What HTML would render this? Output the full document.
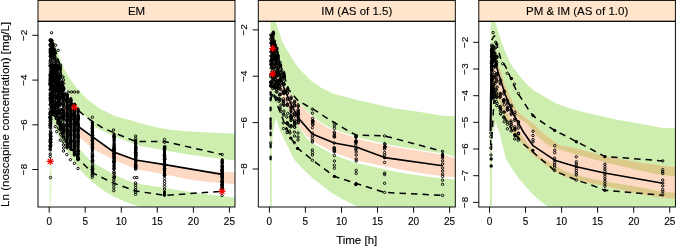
<!DOCTYPE html><html><head><meta charset="utf-8"><style>html,body{margin:0;padding:0;background:#fff}svg{display:block}text{font-family:"Liberation Sans",sans-serif;fill:#000;stroke:#000;stroke-width:0.12px}svg{will-change:transform}</style></head><body>
<svg width="676" height="247" viewBox="0 0 676 247">
<rect width="676" height="247" fill="#fff"/>
<defs><clipPath id="c0"><rect x="38.0" y="21.0" width="197.0" height="186.0"/></clipPath></defs>
<g clip-path="url(#c0)">
<polygon points="49.6,230.0 50.0,120.0 50.6,50.0 52.5,37.5 57.2,50.0 61.3,62.0 64.7,70.0 70.7,80.0 76.0,87.0 82.0,94.0 88.2,100.0 100.4,109.0 115.5,116.3 130.0,120.1 138.0,122.6 150.0,125.7 160.0,128.0 170.0,129.8 186.0,131.2 222.0,133.2 235.0,133.5 240.0,133.6 240.0,160.9 235.0,160.4 222.0,158.9 188.0,154.4 164.5,150.2 138.0,145.5 114.0,136.3 95.5,127.5 92.4,124.0 80.0,110.0 70.0,97.0 60.0,75.0 56.0,62.0 52.5,60.0 51.0,120.0 49.6,230.0" fill="#cdeeae"/>
<polygon points="49.6,230.0 51.0,150.0 52.5,100.0 56.0,100.0 62.0,118.0 70.0,134.0 79.5,149.0 85.0,155.0 92.1,162.6 100.0,166.6 113.9,174.5 127.6,180.5 135.6,182.8 144.0,184.7 164.0,187.8 196.0,193.0 222.0,196.0 235.0,197.5 240.0,198.0 240.0,225.0 150.0,211.0 139.6,207.0 132.0,204.3 124.8,201.5 114.5,197.0 105.0,191.5 96.2,185.2 89.0,179.0 82.0,172.0 79.0,168.0 70.4,157.0 63.3,145.0 57.0,133.0 52.0,120.0 51.2,190.0 49.6,230.0" fill="#cdeeae"/>
<polygon points="50.4,150.0 51.0,140.0 52.5,75.0 56.0,77.0 62.0,95.0 70.0,113.0 79.0,127.0 92.0,136.6 110.5,149.0 136.0,160.0 168.0,166.2 208.0,171.0 235.0,172.6 240.0,172.9 240.0,184.7 235.0,184.3 222.0,183.1 208.0,182.0 190.0,179.7 164.5,174.2 136.0,169.3 114.0,160.0 94.8,150.0 79.0,137.0 70.0,126.0 62.0,108.0 56.0,90.0 53.0,90.0 51.2,145.0 50.4,150.0" fill="#fdd8c2"/>
<line x1="67.2" x2="67.2" y1="95.0" y2="148.0" stroke="#000" stroke-width="2.9" stroke-linecap="round"/><line x1="70.8" x2="70.8" y1="99.0" y2="149.0" stroke="#000" stroke-width="2.9" stroke-linecap="round"/><line x1="74.4" x2="74.4" y1="104.6" y2="154.0" stroke="#000" stroke-width="2.9" stroke-linecap="round"/><line x1="78.0" x2="78.0" y1="109.0" y2="159.0" stroke="#000" stroke-width="2.9" stroke-linecap="round"/><line x1="92.4" x2="92.4" y1="122.5" y2="151.0" stroke="#000" stroke-width="2.9" stroke-linecap="round"/><line x1="114.1" x2="114.1" y1="134.0" y2="165.0" stroke="#000" stroke-width="2.9" stroke-linecap="round"/><line x1="135.7" x2="135.7" y1="141.0" y2="167.0" stroke="#000" stroke-width="2.9" stroke-linecap="round"/><line x1="164.5" x2="164.5" y1="147.6" y2="175.0" stroke="#000" stroke-width="2.9" stroke-linecap="round"/><line x1="222.2" x2="222.2" y1="160.0" y2="189.0" stroke="#000" stroke-width="2.9" stroke-linecap="round"/><line x1="164.5" x2="164.5" y1="191.6" y2="195.6" stroke="#000" stroke-width="2.9" stroke-linecap="round"/>
<path d="M49.2 51.0a1.20 1.20 0 1 0 2.40 0a1.20 1.20 0 1 0 -2.40 0M49.4 49.0a1.20 1.20 0 1 0 2.40 0a1.20 1.20 0 1 0 -2.40 0M49.2 51.5a1.20 1.20 0 1 0 2.40 0a1.20 1.20 0 1 0 -2.40 0M49.1 50.0a1.20 1.20 0 1 0 2.40 0a1.20 1.20 0 1 0 -2.40 0M49.3 55.8a1.20 1.20 0 1 0 2.40 0a1.20 1.20 0 1 0 -2.40 0M49.1 45.7a1.20 1.20 0 1 0 2.40 0a1.20 1.20 0 1 0 -2.40 0M49.1 56.1a1.20 1.20 0 1 0 2.40 0a1.20 1.20 0 1 0 -2.40 0M49.3 40.4a1.20 1.20 0 1 0 2.40 0a1.20 1.20 0 1 0 -2.40 0M49.4 59.3a1.20 1.20 0 1 0 2.40 0a1.20 1.20 0 1 0 -2.40 0M49.3 52.1a1.20 1.20 0 1 0 2.40 0a1.20 1.20 0 1 0 -2.40 0M49.1 39.8a1.20 1.20 0 1 0 2.40 0a1.20 1.20 0 1 0 -2.40 0M49.2 40.7a1.20 1.20 0 1 0 2.40 0a1.20 1.20 0 1 0 -2.40 0M49.1 44.5a1.20 1.20 0 1 0 2.40 0a1.20 1.20 0 1 0 -2.40 0M49.1 49.0a1.20 1.20 0 1 0 2.40 0a1.20 1.20 0 1 0 -2.40 0M49.2 56.8a1.20 1.20 0 1 0 2.40 0a1.20 1.20 0 1 0 -2.40 0M49.2 52.6a1.20 1.20 0 1 0 2.40 0a1.20 1.20 0 1 0 -2.40 0M49.2 53.1a1.20 1.20 0 1 0 2.40 0a1.20 1.20 0 1 0 -2.40 0M49.2 45.2a1.20 1.20 0 1 0 2.40 0a1.20 1.20 0 1 0 -2.40 0M49.4 59.9a1.20 1.20 0 1 0 2.40 0a1.20 1.20 0 1 0 -2.40 0M49.3 54.0a1.20 1.20 0 1 0 2.40 0a1.20 1.20 0 1 0 -2.40 0M49.2 44.2a1.20 1.20 0 1 0 2.40 0a1.20 1.20 0 1 0 -2.40 0M49.2 40.9a1.20 1.20 0 1 0 2.40 0a1.20 1.20 0 1 0 -2.40 0M49.4 96.0a1.20 1.20 0 1 0 2.40 0a1.20 1.20 0 1 0 -2.40 0M49.5 94.8a1.20 1.20 0 1 0 2.40 0a1.20 1.20 0 1 0 -2.40 0M49.6 136.3a1.20 1.20 0 1 0 2.40 0a1.20 1.20 0 1 0 -2.40 0M48.8 78.9a1.20 1.20 0 1 0 2.40 0a1.20 1.20 0 1 0 -2.40 0M49.6 102.3a1.20 1.20 0 1 0 2.40 0a1.20 1.20 0 1 0 -2.40 0M49.6 95.8a1.20 1.20 0 1 0 2.40 0a1.20 1.20 0 1 0 -2.40 0M48.9 116.7a1.20 1.20 0 1 0 2.40 0a1.20 1.20 0 1 0 -2.40 0M49.4 84.3a1.20 1.20 0 1 0 2.40 0a1.20 1.20 0 1 0 -2.40 0M48.9 89.9a1.20 1.20 0 1 0 2.40 0a1.20 1.20 0 1 0 -2.40 0M49.6 128.2a1.20 1.20 0 1 0 2.40 0a1.20 1.20 0 1 0 -2.40 0M48.9 82.2a1.20 1.20 0 1 0 2.40 0a1.20 1.20 0 1 0 -2.40 0M48.9 65.4a1.20 1.20 0 1 0 2.40 0a1.20 1.20 0 1 0 -2.40 0M49.5 76.0a1.20 1.20 0 1 0 2.40 0a1.20 1.20 0 1 0 -2.40 0M49.3 100.3a1.20 1.20 0 1 0 2.40 0a1.20 1.20 0 1 0 -2.40 0M49.0 125.9a1.20 1.20 0 1 0 2.40 0a1.20 1.20 0 1 0 -2.40 0M48.9 117.9a1.20 1.20 0 1 0 2.40 0a1.20 1.20 0 1 0 -2.40 0M48.9 97.9a1.20 1.20 0 1 0 2.40 0a1.20 1.20 0 1 0 -2.40 0M49.0 84.3a1.20 1.20 0 1 0 2.40 0a1.20 1.20 0 1 0 -2.40 0M49.6 132.3a1.20 1.20 0 1 0 2.40 0a1.20 1.20 0 1 0 -2.40 0M49.1 139.6a1.20 1.20 0 1 0 2.40 0a1.20 1.20 0 1 0 -2.40 0M49.0 95.5a1.20 1.20 0 1 0 2.40 0a1.20 1.20 0 1 0 -2.40 0M49.5 117.8a1.20 1.20 0 1 0 2.40 0a1.20 1.20 0 1 0 -2.40 0M48.9 149.0a1.20 1.20 0 1 0 2.40 0a1.20 1.20 0 1 0 -2.40 0M49.0 83.2a1.20 1.20 0 1 0 2.40 0a1.20 1.20 0 1 0 -2.40 0M49.4 89.6a1.20 1.20 0 1 0 2.40 0a1.20 1.20 0 1 0 -2.40 0M49.1 66.6a1.20 1.20 0 1 0 2.40 0a1.20 1.20 0 1 0 -2.40 0M48.9 112.4a1.20 1.20 0 1 0 2.40 0a1.20 1.20 0 1 0 -2.40 0M49.0 114.1a1.20 1.20 0 1 0 2.40 0a1.20 1.20 0 1 0 -2.40 0M49.1 100.8a1.20 1.20 0 1 0 2.40 0a1.20 1.20 0 1 0 -2.40 0M49.6 103.5a1.20 1.20 0 1 0 2.40 0a1.20 1.20 0 1 0 -2.40 0M49.3 138.0a1.20 1.20 0 1 0 2.40 0a1.20 1.20 0 1 0 -2.40 0M49.0 73.9a1.20 1.20 0 1 0 2.40 0a1.20 1.20 0 1 0 -2.40 0M49.6 133.6a1.20 1.20 0 1 0 2.40 0a1.20 1.20 0 1 0 -2.40 0M49.0 77.1a1.20 1.20 0 1 0 2.40 0a1.20 1.20 0 1 0 -2.40 0M49.4 144.6a1.20 1.20 0 1 0 2.40 0a1.20 1.20 0 1 0 -2.40 0M49.0 145.5a1.20 1.20 0 1 0 2.40 0a1.20 1.20 0 1 0 -2.40 0M49.5 114.3a1.20 1.20 0 1 0 2.40 0a1.20 1.20 0 1 0 -2.40 0M49.2 69.3a1.20 1.20 0 1 0 2.40 0a1.20 1.20 0 1 0 -2.40 0M48.9 146.6a1.20 1.20 0 1 0 2.40 0a1.20 1.20 0 1 0 -2.40 0M49.0 123.4a1.20 1.20 0 1 0 2.40 0a1.20 1.20 0 1 0 -2.40 0M49.0 134.1a1.20 1.20 0 1 0 2.40 0a1.20 1.20 0 1 0 -2.40 0M49.3 86.4a1.20 1.20 0 1 0 2.40 0a1.20 1.20 0 1 0 -2.40 0M49.0 124.8a1.20 1.20 0 1 0 2.40 0a1.20 1.20 0 1 0 -2.40 0M48.9 80.6a1.20 1.20 0 1 0 2.40 0a1.20 1.20 0 1 0 -2.40 0M49.3 136.7a1.20 1.20 0 1 0 2.40 0a1.20 1.20 0 1 0 -2.40 0M49.3 85.2a1.20 1.20 0 1 0 2.40 0a1.20 1.20 0 1 0 -2.40 0M49.6 78.4a1.20 1.20 0 1 0 2.40 0a1.20 1.20 0 1 0 -2.40 0M48.8 84.2a1.20 1.20 0 1 0 2.40 0a1.20 1.20 0 1 0 -2.40 0M49.2 65.4a1.20 1.20 0 1 0 2.40 0a1.20 1.20 0 1 0 -2.40 0M49.0 93.2a1.20 1.20 0 1 0 2.40 0a1.20 1.20 0 1 0 -2.40 0M49.3 71.8a1.20 1.20 0 1 0 2.40 0a1.20 1.20 0 1 0 -2.40 0M49.1 140.2a1.20 1.20 0 1 0 2.40 0a1.20 1.20 0 1 0 -2.40 0M49.6 119.1a1.20 1.20 0 1 0 2.40 0a1.20 1.20 0 1 0 -2.40 0M49.4 112.6a1.20 1.20 0 1 0 2.40 0a1.20 1.20 0 1 0 -2.40 0M48.9 63.2a1.20 1.20 0 1 0 2.40 0a1.20 1.20 0 1 0 -2.40 0M48.8 141.9a1.20 1.20 0 1 0 2.40 0a1.20 1.20 0 1 0 -2.40 0M49.4 146.6a1.20 1.20 0 1 0 2.40 0a1.20 1.20 0 1 0 -2.40 0M48.8 117.3a1.20 1.20 0 1 0 2.40 0a1.20 1.20 0 1 0 -2.40 0M49.2 125.7a1.20 1.20 0 1 0 2.40 0a1.20 1.20 0 1 0 -2.40 0M49.1 149.9a1.20 1.20 0 1 0 2.40 0a1.20 1.20 0 1 0 -2.40 0M48.9 109.1a1.20 1.20 0 1 0 2.40 0a1.20 1.20 0 1 0 -2.40 0M49.4 141.0a1.20 1.20 0 1 0 2.40 0a1.20 1.20 0 1 0 -2.40 0M49.4 123.3a1.20 1.20 0 1 0 2.40 0a1.20 1.20 0 1 0 -2.40 0M49.5 142.4a1.20 1.20 0 1 0 2.40 0a1.20 1.20 0 1 0 -2.40 0M49.1 121.7a1.20 1.20 0 1 0 2.40 0a1.20 1.20 0 1 0 -2.40 0M49.5 138.4a1.20 1.20 0 1 0 2.40 0a1.20 1.20 0 1 0 -2.40 0M49.2 131.1a1.20 1.20 0 1 0 2.40 0a1.20 1.20 0 1 0 -2.40 0M49.5 111.6a1.20 1.20 0 1 0 2.40 0a1.20 1.20 0 1 0 -2.40 0M49.3 94.4a1.20 1.20 0 1 0 2.40 0a1.20 1.20 0 1 0 -2.40 0M49.3 114.8a1.20 1.20 0 1 0 2.40 0a1.20 1.20 0 1 0 -2.40 0M48.9 117.5a1.20 1.20 0 1 0 2.40 0a1.20 1.20 0 1 0 -2.40 0M49.6 139.2a1.20 1.20 0 1 0 2.40 0a1.20 1.20 0 1 0 -2.40 0M49.4 95.0a1.20 1.20 0 1 0 2.40 0a1.20 1.20 0 1 0 -2.40 0M49.4 112.3a1.20 1.20 0 1 0 2.40 0a1.20 1.20 0 1 0 -2.40 0M49.2 135.5a1.20 1.20 0 1 0 2.40 0a1.20 1.20 0 1 0 -2.40 0M48.9 127.5a1.20 1.20 0 1 0 2.40 0a1.20 1.20 0 1 0 -2.40 0M48.8 114.1a1.20 1.20 0 1 0 2.40 0a1.20 1.20 0 1 0 -2.40 0M49.2 80.7a1.20 1.20 0 1 0 2.40 0a1.20 1.20 0 1 0 -2.40 0M49.4 104.8a1.20 1.20 0 1 0 2.40 0a1.20 1.20 0 1 0 -2.40 0M49.3 142.8a1.20 1.20 0 1 0 2.40 0a1.20 1.20 0 1 0 -2.40 0M49.0 61.0a1.20 1.20 0 1 0 2.40 0a1.20 1.20 0 1 0 -2.40 0M49.1 121.0a1.20 1.20 0 1 0 2.40 0a1.20 1.20 0 1 0 -2.40 0M49.0 75.3a1.20 1.20 0 1 0 2.40 0a1.20 1.20 0 1 0 -2.40 0M49.5 119.4a1.20 1.20 0 1 0 2.40 0a1.20 1.20 0 1 0 -2.40 0M49.2 140.3a1.20 1.20 0 1 0 2.40 0a1.20 1.20 0 1 0 -2.40 0M49.1 119.9a1.20 1.20 0 1 0 2.40 0a1.20 1.20 0 1 0 -2.40 0M49.0 98.8a1.20 1.20 0 1 0 2.40 0a1.20 1.20 0 1 0 -2.40 0M49.5 142.3a1.20 1.20 0 1 0 2.40 0a1.20 1.20 0 1 0 -2.40 0M49.5 94.6a1.20 1.20 0 1 0 2.40 0a1.20 1.20 0 1 0 -2.40 0M49.3 88.5a1.20 1.20 0 1 0 2.40 0a1.20 1.20 0 1 0 -2.40 0M48.9 104.7a1.20 1.20 0 1 0 2.40 0a1.20 1.20 0 1 0 -2.40 0M49.5 136.4a1.20 1.20 0 1 0 2.40 0a1.20 1.20 0 1 0 -2.40 0M49.4 145.5a1.20 1.20 0 1 0 2.40 0a1.20 1.20 0 1 0 -2.40 0M49.0 75.2a1.20 1.20 0 1 0 2.40 0a1.20 1.20 0 1 0 -2.40 0M49.2 84.8a1.20 1.20 0 1 0 2.40 0a1.20 1.20 0 1 0 -2.40 0M50.2 69.8a1.20 1.20 0 1 0 2.40 0a1.20 1.20 0 1 0 -2.40 0M50.5 75.8a1.20 1.20 0 1 0 2.40 0a1.20 1.20 0 1 0 -2.40 0M50.3 101.9a1.20 1.20 0 1 0 2.40 0a1.20 1.20 0 1 0 -2.40 0M50.7 72.7a1.20 1.20 0 1 0 2.40 0a1.20 1.20 0 1 0 -2.40 0M50.1 40.9a1.20 1.20 0 1 0 2.40 0a1.20 1.20 0 1 0 -2.40 0M50.6 41.6a1.20 1.20 0 1 0 2.40 0a1.20 1.20 0 1 0 -2.40 0M50.5 81.6a1.20 1.20 0 1 0 2.40 0a1.20 1.20 0 1 0 -2.40 0M50.3 98.3a1.20 1.20 0 1 0 2.40 0a1.20 1.20 0 1 0 -2.40 0M50.1 48.8a1.20 1.20 0 1 0 2.40 0a1.20 1.20 0 1 0 -2.40 0M50.4 40.4a1.20 1.20 0 1 0 2.40 0a1.20 1.20 0 1 0 -2.40 0M50.6 56.4a1.20 1.20 0 1 0 2.40 0a1.20 1.20 0 1 0 -2.40 0M50.2 42.0a1.20 1.20 0 1 0 2.40 0a1.20 1.20 0 1 0 -2.40 0M50.5 72.2a1.20 1.20 0 1 0 2.40 0a1.20 1.20 0 1 0 -2.40 0M50.5 88.0a1.20 1.20 0 1 0 2.40 0a1.20 1.20 0 1 0 -2.40 0M50.6 110.9a1.20 1.20 0 1 0 2.40 0a1.20 1.20 0 1 0 -2.40 0M50.5 53.6a1.20 1.20 0 1 0 2.40 0a1.20 1.20 0 1 0 -2.40 0M50.4 52.0a1.20 1.20 0 1 0 2.40 0a1.20 1.20 0 1 0 -2.40 0M50.1 74.2a1.20 1.20 0 1 0 2.40 0a1.20 1.20 0 1 0 -2.40 0M50.5 52.0a1.20 1.20 0 1 0 2.40 0a1.20 1.20 0 1 0 -2.40 0M50.2 64.6a1.20 1.20 0 1 0 2.40 0a1.20 1.20 0 1 0 -2.40 0M50.5 77.8a1.20 1.20 0 1 0 2.40 0a1.20 1.20 0 1 0 -2.40 0M50.4 95.6a1.20 1.20 0 1 0 2.40 0a1.20 1.20 0 1 0 -2.40 0M50.3 98.3a1.20 1.20 0 1 0 2.40 0a1.20 1.20 0 1 0 -2.40 0M50.6 45.1a1.20 1.20 0 1 0 2.40 0a1.20 1.20 0 1 0 -2.40 0M50.6 93.0a1.20 1.20 0 1 0 2.40 0a1.20 1.20 0 1 0 -2.40 0M50.2 72.7a1.20 1.20 0 1 0 2.40 0a1.20 1.20 0 1 0 -2.40 0M50.5 107.2a1.20 1.20 0 1 0 2.40 0a1.20 1.20 0 1 0 -2.40 0M50.3 81.4a1.20 1.20 0 1 0 2.40 0a1.20 1.20 0 1 0 -2.40 0M50.6 98.7a1.20 1.20 0 1 0 2.40 0a1.20 1.20 0 1 0 -2.40 0M50.6 73.5a1.20 1.20 0 1 0 2.40 0a1.20 1.20 0 1 0 -2.40 0M50.5 54.0a1.20 1.20 0 1 0 2.40 0a1.20 1.20 0 1 0 -2.40 0M50.5 100.3a1.20 1.20 0 1 0 2.40 0a1.20 1.20 0 1 0 -2.40 0M50.5 92.7a1.20 1.20 0 1 0 2.40 0a1.20 1.20 0 1 0 -2.40 0M50.2 106.4a1.20 1.20 0 1 0 2.40 0a1.20 1.20 0 1 0 -2.40 0M50.7 112.3a1.20 1.20 0 1 0 2.40 0a1.20 1.20 0 1 0 -2.40 0M50.4 98.2a1.20 1.20 0 1 0 2.40 0a1.20 1.20 0 1 0 -2.40 0M50.3 107.2a1.20 1.20 0 1 0 2.40 0a1.20 1.20 0 1 0 -2.40 0M50.6 64.8a1.20 1.20 0 1 0 2.40 0a1.20 1.20 0 1 0 -2.40 0M50.1 71.8a1.20 1.20 0 1 0 2.40 0a1.20 1.20 0 1 0 -2.40 0M50.4 96.5a1.20 1.20 0 1 0 2.40 0a1.20 1.20 0 1 0 -2.40 0M50.4 40.6a1.20 1.20 0 1 0 2.40 0a1.20 1.20 0 1 0 -2.40 0M50.6 43.3a1.20 1.20 0 1 0 2.40 0a1.20 1.20 0 1 0 -2.40 0M50.6 51.6a1.20 1.20 0 1 0 2.40 0a1.20 1.20 0 1 0 -2.40 0M50.3 98.0a1.20 1.20 0 1 0 2.40 0a1.20 1.20 0 1 0 -2.40 0M50.2 49.7a1.20 1.20 0 1 0 2.40 0a1.20 1.20 0 1 0 -2.40 0M50.4 93.1a1.20 1.20 0 1 0 2.40 0a1.20 1.20 0 1 0 -2.40 0M50.6 90.5a1.20 1.20 0 1 0 2.40 0a1.20 1.20 0 1 0 -2.40 0M50.6 75.7a1.20 1.20 0 1 0 2.40 0a1.20 1.20 0 1 0 -2.40 0M50.6 45.0a1.20 1.20 0 1 0 2.40 0a1.20 1.20 0 1 0 -2.40 0M50.2 78.3a1.20 1.20 0 1 0 2.40 0a1.20 1.20 0 1 0 -2.40 0M50.3 93.5a1.20 1.20 0 1 0 2.40 0a1.20 1.20 0 1 0 -2.40 0M50.5 78.0a1.20 1.20 0 1 0 2.40 0a1.20 1.20 0 1 0 -2.40 0M50.6 80.8a1.20 1.20 0 1 0 2.40 0a1.20 1.20 0 1 0 -2.40 0M50.3 67.3a1.20 1.20 0 1 0 2.40 0a1.20 1.20 0 1 0 -2.40 0M50.6 106.5a1.20 1.20 0 1 0 2.40 0a1.20 1.20 0 1 0 -2.40 0M50.2 102.7a1.20 1.20 0 1 0 2.40 0a1.20 1.20 0 1 0 -2.40 0M50.7 78.1a1.20 1.20 0 1 0 2.40 0a1.20 1.20 0 1 0 -2.40 0M50.4 53.7a1.20 1.20 0 1 0 2.40 0a1.20 1.20 0 1 0 -2.40 0M50.4 76.5a1.20 1.20 0 1 0 2.40 0a1.20 1.20 0 1 0 -2.40 0M50.4 40.6a1.20 1.20 0 1 0 2.40 0a1.20 1.20 0 1 0 -2.40 0M50.7 77.5a1.20 1.20 0 1 0 2.40 0a1.20 1.20 0 1 0 -2.40 0M50.3 99.0a1.20 1.20 0 1 0 2.40 0a1.20 1.20 0 1 0 -2.40 0M50.4 75.6a1.20 1.20 0 1 0 2.40 0a1.20 1.20 0 1 0 -2.40 0M50.5 43.5a1.20 1.20 0 1 0 2.40 0a1.20 1.20 0 1 0 -2.40 0M50.4 69.7a1.20 1.20 0 1 0 2.40 0a1.20 1.20 0 1 0 -2.40 0M50.7 108.2a1.20 1.20 0 1 0 2.40 0a1.20 1.20 0 1 0 -2.40 0M50.2 74.2a1.20 1.20 0 1 0 2.40 0a1.20 1.20 0 1 0 -2.40 0M50.2 71.2a1.20 1.20 0 1 0 2.40 0a1.20 1.20 0 1 0 -2.40 0M50.6 106.5a1.20 1.20 0 1 0 2.40 0a1.20 1.20 0 1 0 -2.40 0M50.4 62.4a1.20 1.20 0 1 0 2.40 0a1.20 1.20 0 1 0 -2.40 0M50.2 85.2a1.20 1.20 0 1 0 2.40 0a1.20 1.20 0 1 0 -2.40 0M50.6 48.3a1.20 1.20 0 1 0 2.40 0a1.20 1.20 0 1 0 -2.40 0M50.5 40.2a1.20 1.20 0 1 0 2.40 0a1.20 1.20 0 1 0 -2.40 0M50.2 55.7a1.20 1.20 0 1 0 2.40 0a1.20 1.20 0 1 0 -2.40 0M50.5 62.8a1.20 1.20 0 1 0 2.40 0a1.20 1.20 0 1 0 -2.40 0M50.3 85.3a1.20 1.20 0 1 0 2.40 0a1.20 1.20 0 1 0 -2.40 0M50.1 93.7a1.20 1.20 0 1 0 2.40 0a1.20 1.20 0 1 0 -2.40 0M50.2 77.0a1.20 1.20 0 1 0 2.40 0a1.20 1.20 0 1 0 -2.40 0M50.2 53.4a1.20 1.20 0 1 0 2.40 0a1.20 1.20 0 1 0 -2.40 0M50.4 71.5a1.20 1.20 0 1 0 2.40 0a1.20 1.20 0 1 0 -2.40 0M51.5 72.8a1.20 1.20 0 1 0 2.40 0a1.20 1.20 0 1 0 -2.40 0M51.6 54.5a1.20 1.20 0 1 0 2.40 0a1.20 1.20 0 1 0 -2.40 0M51.4 88.5a1.20 1.20 0 1 0 2.40 0a1.20 1.20 0 1 0 -2.40 0M51.7 81.1a1.20 1.20 0 1 0 2.40 0a1.20 1.20 0 1 0 -2.40 0M51.9 87.0a1.20 1.20 0 1 0 2.40 0a1.20 1.20 0 1 0 -2.40 0M51.9 59.8a1.20 1.20 0 1 0 2.40 0a1.20 1.20 0 1 0 -2.40 0M51.8 101.4a1.20 1.20 0 1 0 2.40 0a1.20 1.20 0 1 0 -2.40 0M51.9 65.7a1.20 1.20 0 1 0 2.40 0a1.20 1.20 0 1 0 -2.40 0M51.5 109.4a1.20 1.20 0 1 0 2.40 0a1.20 1.20 0 1 0 -2.40 0M51.4 114.9a1.20 1.20 0 1 0 2.40 0a1.20 1.20 0 1 0 -2.40 0M51.9 52.6a1.20 1.20 0 1 0 2.40 0a1.20 1.20 0 1 0 -2.40 0M51.4 95.3a1.20 1.20 0 1 0 2.40 0a1.20 1.20 0 1 0 -2.40 0M51.4 50.0a1.20 1.20 0 1 0 2.40 0a1.20 1.20 0 1 0 -2.40 0M51.9 73.4a1.20 1.20 0 1 0 2.40 0a1.20 1.20 0 1 0 -2.40 0M51.8 52.1a1.20 1.20 0 1 0 2.40 0a1.20 1.20 0 1 0 -2.40 0M51.5 92.3a1.20 1.20 0 1 0 2.40 0a1.20 1.20 0 1 0 -2.40 0M51.2 57.5a1.20 1.20 0 1 0 2.40 0a1.20 1.20 0 1 0 -2.40 0M51.7 108.6a1.20 1.20 0 1 0 2.40 0a1.20 1.20 0 1 0 -2.40 0M52.0 51.3a1.20 1.20 0 1 0 2.40 0a1.20 1.20 0 1 0 -2.40 0M51.6 97.6a1.20 1.20 0 1 0 2.40 0a1.20 1.20 0 1 0 -2.40 0M51.6 92.4a1.20 1.20 0 1 0 2.40 0a1.20 1.20 0 1 0 -2.40 0M51.4 48.1a1.20 1.20 0 1 0 2.40 0a1.20 1.20 0 1 0 -2.40 0M51.3 45.7a1.20 1.20 0 1 0 2.40 0a1.20 1.20 0 1 0 -2.40 0M51.6 80.1a1.20 1.20 0 1 0 2.40 0a1.20 1.20 0 1 0 -2.40 0M51.7 53.6a1.20 1.20 0 1 0 2.40 0a1.20 1.20 0 1 0 -2.40 0M51.4 57.7a1.20 1.20 0 1 0 2.40 0a1.20 1.20 0 1 0 -2.40 0M51.9 114.3a1.20 1.20 0 1 0 2.40 0a1.20 1.20 0 1 0 -2.40 0M51.9 49.9a1.20 1.20 0 1 0 2.40 0a1.20 1.20 0 1 0 -2.40 0M51.3 111.5a1.20 1.20 0 1 0 2.40 0a1.20 1.20 0 1 0 -2.40 0M51.6 98.1a1.20 1.20 0 1 0 2.40 0a1.20 1.20 0 1 0 -2.40 0M51.5 76.6a1.20 1.20 0 1 0 2.40 0a1.20 1.20 0 1 0 -2.40 0M51.6 74.0a1.20 1.20 0 1 0 2.40 0a1.20 1.20 0 1 0 -2.40 0M51.7 44.0a1.20 1.20 0 1 0 2.40 0a1.20 1.20 0 1 0 -2.40 0M51.8 103.8a1.20 1.20 0 1 0 2.40 0a1.20 1.20 0 1 0 -2.40 0M51.3 75.7a1.20 1.20 0 1 0 2.40 0a1.20 1.20 0 1 0 -2.40 0M51.8 72.2a1.20 1.20 0 1 0 2.40 0a1.20 1.20 0 1 0 -2.40 0M51.4 54.9a1.20 1.20 0 1 0 2.40 0a1.20 1.20 0 1 0 -2.40 0M51.6 44.1a1.20 1.20 0 1 0 2.40 0a1.20 1.20 0 1 0 -2.40 0M51.9 100.7a1.20 1.20 0 1 0 2.40 0a1.20 1.20 0 1 0 -2.40 0M51.8 105.0a1.20 1.20 0 1 0 2.40 0a1.20 1.20 0 1 0 -2.40 0M51.7 72.1a1.20 1.20 0 1 0 2.40 0a1.20 1.20 0 1 0 -2.40 0M51.7 79.3a1.20 1.20 0 1 0 2.40 0a1.20 1.20 0 1 0 -2.40 0M52.0 100.9a1.20 1.20 0 1 0 2.40 0a1.20 1.20 0 1 0 -2.40 0M51.4 108.6a1.20 1.20 0 1 0 2.40 0a1.20 1.20 0 1 0 -2.40 0M51.8 99.0a1.20 1.20 0 1 0 2.40 0a1.20 1.20 0 1 0 -2.40 0M51.9 72.2a1.20 1.20 0 1 0 2.40 0a1.20 1.20 0 1 0 -2.40 0M51.9 106.3a1.20 1.20 0 1 0 2.40 0a1.20 1.20 0 1 0 -2.40 0M51.8 98.2a1.20 1.20 0 1 0 2.40 0a1.20 1.20 0 1 0 -2.40 0M51.8 72.2a1.20 1.20 0 1 0 2.40 0a1.20 1.20 0 1 0 -2.40 0M51.8 48.1a1.20 1.20 0 1 0 2.40 0a1.20 1.20 0 1 0 -2.40 0M51.5 76.8a1.20 1.20 0 1 0 2.40 0a1.20 1.20 0 1 0 -2.40 0M51.2 68.6a1.20 1.20 0 1 0 2.40 0a1.20 1.20 0 1 0 -2.40 0M51.7 87.9a1.20 1.20 0 1 0 2.40 0a1.20 1.20 0 1 0 -2.40 0M51.4 111.0a1.20 1.20 0 1 0 2.40 0a1.20 1.20 0 1 0 -2.40 0M51.7 67.3a1.20 1.20 0 1 0 2.40 0a1.20 1.20 0 1 0 -2.40 0M51.7 84.0a1.20 1.20 0 1 0 2.40 0a1.20 1.20 0 1 0 -2.40 0M51.6 71.1a1.20 1.20 0 1 0 2.40 0a1.20 1.20 0 1 0 -2.40 0M52.0 89.2a1.20 1.20 0 1 0 2.40 0a1.20 1.20 0 1 0 -2.40 0M51.8 97.8a1.20 1.20 0 1 0 2.40 0a1.20 1.20 0 1 0 -2.40 0M52.0 44.6a1.20 1.20 0 1 0 2.40 0a1.20 1.20 0 1 0 -2.40 0M51.7 96.2a1.20 1.20 0 1 0 2.40 0a1.20 1.20 0 1 0 -2.40 0M51.4 71.9a1.20 1.20 0 1 0 2.40 0a1.20 1.20 0 1 0 -2.40 0M51.2 57.1a1.20 1.20 0 1 0 2.40 0a1.20 1.20 0 1 0 -2.40 0M51.5 50.1a1.20 1.20 0 1 0 2.40 0a1.20 1.20 0 1 0 -2.40 0M51.4 108.2a1.20 1.20 0 1 0 2.40 0a1.20 1.20 0 1 0 -2.40 0M51.6 79.6a1.20 1.20 0 1 0 2.40 0a1.20 1.20 0 1 0 -2.40 0M52.0 83.9a1.20 1.20 0 1 0 2.40 0a1.20 1.20 0 1 0 -2.40 0M52.0 88.9a1.20 1.20 0 1 0 2.40 0a1.20 1.20 0 1 0 -2.40 0M51.9 48.5a1.20 1.20 0 1 0 2.40 0a1.20 1.20 0 1 0 -2.40 0M51.7 97.7a1.20 1.20 0 1 0 2.40 0a1.20 1.20 0 1 0 -2.40 0M51.2 110.0a1.20 1.20 0 1 0 2.40 0a1.20 1.20 0 1 0 -2.40 0M51.3 77.0a1.20 1.20 0 1 0 2.40 0a1.20 1.20 0 1 0 -2.40 0M51.3 78.7a1.20 1.20 0 1 0 2.40 0a1.20 1.20 0 1 0 -2.40 0M51.7 47.2a1.20 1.20 0 1 0 2.40 0a1.20 1.20 0 1 0 -2.40 0M52.0 73.3a1.20 1.20 0 1 0 2.40 0a1.20 1.20 0 1 0 -2.40 0M53.4 89.1a1.20 1.20 0 1 0 2.40 0a1.20 1.20 0 1 0 -2.40 0M53.3 68.1a1.20 1.20 0 1 0 2.40 0a1.20 1.20 0 1 0 -2.40 0M53.5 86.6a1.20 1.20 0 1 0 2.40 0a1.20 1.20 0 1 0 -2.40 0M53.2 97.0a1.20 1.20 0 1 0 2.40 0a1.20 1.20 0 1 0 -2.40 0M53.2 49.9a1.20 1.20 0 1 0 2.40 0a1.20 1.20 0 1 0 -2.40 0M53.2 51.9a1.20 1.20 0 1 0 2.40 0a1.20 1.20 0 1 0 -2.40 0M53.1 99.6a1.20 1.20 0 1 0 2.40 0a1.20 1.20 0 1 0 -2.40 0M53.3 109.1a1.20 1.20 0 1 0 2.40 0a1.20 1.20 0 1 0 -2.40 0M53.6 52.4a1.20 1.20 0 1 0 2.40 0a1.20 1.20 0 1 0 -2.40 0M53.8 112.3a1.20 1.20 0 1 0 2.40 0a1.20 1.20 0 1 0 -2.40 0M53.1 109.7a1.20 1.20 0 1 0 2.40 0a1.20 1.20 0 1 0 -2.40 0M53.3 81.0a1.20 1.20 0 1 0 2.40 0a1.20 1.20 0 1 0 -2.40 0M53.8 65.3a1.20 1.20 0 1 0 2.40 0a1.20 1.20 0 1 0 -2.40 0M53.4 111.8a1.20 1.20 0 1 0 2.40 0a1.20 1.20 0 1 0 -2.40 0M53.6 80.4a1.20 1.20 0 1 0 2.40 0a1.20 1.20 0 1 0 -2.40 0M53.8 103.7a1.20 1.20 0 1 0 2.40 0a1.20 1.20 0 1 0 -2.40 0M53.5 56.7a1.20 1.20 0 1 0 2.40 0a1.20 1.20 0 1 0 -2.40 0M53.5 79.5a1.20 1.20 0 1 0 2.40 0a1.20 1.20 0 1 0 -2.40 0M53.2 52.5a1.20 1.20 0 1 0 2.40 0a1.20 1.20 0 1 0 -2.40 0M53.4 57.3a1.20 1.20 0 1 0 2.40 0a1.20 1.20 0 1 0 -2.40 0M53.4 93.7a1.20 1.20 0 1 0 2.40 0a1.20 1.20 0 1 0 -2.40 0M53.4 66.6a1.20 1.20 0 1 0 2.40 0a1.20 1.20 0 1 0 -2.40 0M53.5 77.1a1.20 1.20 0 1 0 2.40 0a1.20 1.20 0 1 0 -2.40 0M53.6 84.6a1.20 1.20 0 1 0 2.40 0a1.20 1.20 0 1 0 -2.40 0M53.8 112.8a1.20 1.20 0 1 0 2.40 0a1.20 1.20 0 1 0 -2.40 0M53.6 65.0a1.20 1.20 0 1 0 2.40 0a1.20 1.20 0 1 0 -2.40 0M53.1 108.8a1.20 1.20 0 1 0 2.40 0a1.20 1.20 0 1 0 -2.40 0M53.6 90.9a1.20 1.20 0 1 0 2.40 0a1.20 1.20 0 1 0 -2.40 0M53.3 67.2a1.20 1.20 0 1 0 2.40 0a1.20 1.20 0 1 0 -2.40 0M53.6 86.8a1.20 1.20 0 1 0 2.40 0a1.20 1.20 0 1 0 -2.40 0M53.5 91.4a1.20 1.20 0 1 0 2.40 0a1.20 1.20 0 1 0 -2.40 0M53.6 61.7a1.20 1.20 0 1 0 2.40 0a1.20 1.20 0 1 0 -2.40 0M53.2 114.6a1.20 1.20 0 1 0 2.40 0a1.20 1.20 0 1 0 -2.40 0M53.7 107.9a1.20 1.20 0 1 0 2.40 0a1.20 1.20 0 1 0 -2.40 0M53.0 53.1a1.20 1.20 0 1 0 2.40 0a1.20 1.20 0 1 0 -2.40 0M53.2 77.5a1.20 1.20 0 1 0 2.40 0a1.20 1.20 0 1 0 -2.40 0M53.5 55.9a1.20 1.20 0 1 0 2.40 0a1.20 1.20 0 1 0 -2.40 0M53.4 53.9a1.20 1.20 0 1 0 2.40 0a1.20 1.20 0 1 0 -2.40 0M53.1 94.3a1.20 1.20 0 1 0 2.40 0a1.20 1.20 0 1 0 -2.40 0M53.4 91.3a1.20 1.20 0 1 0 2.40 0a1.20 1.20 0 1 0 -2.40 0M53.3 81.1a1.20 1.20 0 1 0 2.40 0a1.20 1.20 0 1 0 -2.40 0M53.2 72.0a1.20 1.20 0 1 0 2.40 0a1.20 1.20 0 1 0 -2.40 0M53.6 105.2a1.20 1.20 0 1 0 2.40 0a1.20 1.20 0 1 0 -2.40 0M53.1 57.0a1.20 1.20 0 1 0 2.40 0a1.20 1.20 0 1 0 -2.40 0M53.7 90.8a1.20 1.20 0 1 0 2.40 0a1.20 1.20 0 1 0 -2.40 0M53.6 63.3a1.20 1.20 0 1 0 2.40 0a1.20 1.20 0 1 0 -2.40 0M53.3 66.3a1.20 1.20 0 1 0 2.40 0a1.20 1.20 0 1 0 -2.40 0M53.7 73.7a1.20 1.20 0 1 0 2.40 0a1.20 1.20 0 1 0 -2.40 0M53.5 115.3a1.20 1.20 0 1 0 2.40 0a1.20 1.20 0 1 0 -2.40 0M53.3 85.8a1.20 1.20 0 1 0 2.40 0a1.20 1.20 0 1 0 -2.40 0M53.6 110.7a1.20 1.20 0 1 0 2.40 0a1.20 1.20 0 1 0 -2.40 0M53.3 73.7a1.20 1.20 0 1 0 2.40 0a1.20 1.20 0 1 0 -2.40 0M53.1 107.6a1.20 1.20 0 1 0 2.40 0a1.20 1.20 0 1 0 -2.40 0M53.1 54.6a1.20 1.20 0 1 0 2.40 0a1.20 1.20 0 1 0 -2.40 0M53.5 81.5a1.20 1.20 0 1 0 2.40 0a1.20 1.20 0 1 0 -2.40 0M53.6 69.0a1.20 1.20 0 1 0 2.40 0a1.20 1.20 0 1 0 -2.40 0M53.6 54.1a1.20 1.20 0 1 0 2.40 0a1.20 1.20 0 1 0 -2.40 0M53.2 93.4a1.20 1.20 0 1 0 2.40 0a1.20 1.20 0 1 0 -2.40 0M53.1 69.4a1.20 1.20 0 1 0 2.40 0a1.20 1.20 0 1 0 -2.40 0M53.6 95.5a1.20 1.20 0 1 0 2.40 0a1.20 1.20 0 1 0 -2.40 0M53.2 58.6a1.20 1.20 0 1 0 2.40 0a1.20 1.20 0 1 0 -2.40 0M53.3 97.6a1.20 1.20 0 1 0 2.40 0a1.20 1.20 0 1 0 -2.40 0M53.3 56.9a1.20 1.20 0 1 0 2.40 0a1.20 1.20 0 1 0 -2.40 0M53.6 87.1a1.20 1.20 0 1 0 2.40 0a1.20 1.20 0 1 0 -2.40 0M53.7 112.0a1.20 1.20 0 1 0 2.40 0a1.20 1.20 0 1 0 -2.40 0M53.7 78.3a1.20 1.20 0 1 0 2.40 0a1.20 1.20 0 1 0 -2.40 0M53.6 69.4a1.20 1.20 0 1 0 2.40 0a1.20 1.20 0 1 0 -2.40 0M53.3 75.8a1.20 1.20 0 1 0 2.40 0a1.20 1.20 0 1 0 -2.40 0M53.8 108.9a1.20 1.20 0 1 0 2.40 0a1.20 1.20 0 1 0 -2.40 0M53.2 73.2a1.20 1.20 0 1 0 2.40 0a1.20 1.20 0 1 0 -2.40 0M55.1 78.3a1.20 1.20 0 1 0 2.40 0a1.20 1.20 0 1 0 -2.40 0M55.1 79.8a1.20 1.20 0 1 0 2.40 0a1.20 1.20 0 1 0 -2.40 0M55.0 91.1a1.20 1.20 0 1 0 2.40 0a1.20 1.20 0 1 0 -2.40 0M55.4 89.6a1.20 1.20 0 1 0 2.40 0a1.20 1.20 0 1 0 -2.40 0M55.5 91.0a1.20 1.20 0 1 0 2.40 0a1.20 1.20 0 1 0 -2.40 0M54.9 103.6a1.20 1.20 0 1 0 2.40 0a1.20 1.20 0 1 0 -2.40 0M55.5 73.0a1.20 1.20 0 1 0 2.40 0a1.20 1.20 0 1 0 -2.40 0M54.8 88.0a1.20 1.20 0 1 0 2.40 0a1.20 1.20 0 1 0 -2.40 0M55.2 91.3a1.20 1.20 0 1 0 2.40 0a1.20 1.20 0 1 0 -2.40 0M55.6 96.7a1.20 1.20 0 1 0 2.40 0a1.20 1.20 0 1 0 -2.40 0M55.5 59.1a1.20 1.20 0 1 0 2.40 0a1.20 1.20 0 1 0 -2.40 0M55.2 105.4a1.20 1.20 0 1 0 2.40 0a1.20 1.20 0 1 0 -2.40 0M54.9 60.2a1.20 1.20 0 1 0 2.40 0a1.20 1.20 0 1 0 -2.40 0M55.4 112.5a1.20 1.20 0 1 0 2.40 0a1.20 1.20 0 1 0 -2.40 0M54.9 95.6a1.20 1.20 0 1 0 2.40 0a1.20 1.20 0 1 0 -2.40 0M54.9 102.7a1.20 1.20 0 1 0 2.40 0a1.20 1.20 0 1 0 -2.40 0M55.3 70.7a1.20 1.20 0 1 0 2.40 0a1.20 1.20 0 1 0 -2.40 0M55.0 104.0a1.20 1.20 0 1 0 2.40 0a1.20 1.20 0 1 0 -2.40 0M55.2 103.9a1.20 1.20 0 1 0 2.40 0a1.20 1.20 0 1 0 -2.40 0M55.1 76.6a1.20 1.20 0 1 0 2.40 0a1.20 1.20 0 1 0 -2.40 0M55.6 98.0a1.20 1.20 0 1 0 2.40 0a1.20 1.20 0 1 0 -2.40 0M55.2 89.4a1.20 1.20 0 1 0 2.40 0a1.20 1.20 0 1 0 -2.40 0M55.4 100.3a1.20 1.20 0 1 0 2.40 0a1.20 1.20 0 1 0 -2.40 0M55.5 81.3a1.20 1.20 0 1 0 2.40 0a1.20 1.20 0 1 0 -2.40 0M55.5 97.7a1.20 1.20 0 1 0 2.40 0a1.20 1.20 0 1 0 -2.40 0M55.5 106.6a1.20 1.20 0 1 0 2.40 0a1.20 1.20 0 1 0 -2.40 0M55.5 111.9a1.20 1.20 0 1 0 2.40 0a1.20 1.20 0 1 0 -2.40 0M55.6 96.0a1.20 1.20 0 1 0 2.40 0a1.20 1.20 0 1 0 -2.40 0M55.2 100.4a1.20 1.20 0 1 0 2.40 0a1.20 1.20 0 1 0 -2.40 0M55.4 82.0a1.20 1.20 0 1 0 2.40 0a1.20 1.20 0 1 0 -2.40 0M55.1 64.4a1.20 1.20 0 1 0 2.40 0a1.20 1.20 0 1 0 -2.40 0M55.4 118.4a1.20 1.20 0 1 0 2.40 0a1.20 1.20 0 1 0 -2.40 0M55.1 65.7a1.20 1.20 0 1 0 2.40 0a1.20 1.20 0 1 0 -2.40 0M55.0 82.2a1.20 1.20 0 1 0 2.40 0a1.20 1.20 0 1 0 -2.40 0M55.0 117.1a1.20 1.20 0 1 0 2.40 0a1.20 1.20 0 1 0 -2.40 0M54.9 74.7a1.20 1.20 0 1 0 2.40 0a1.20 1.20 0 1 0 -2.40 0M54.9 96.5a1.20 1.20 0 1 0 2.40 0a1.20 1.20 0 1 0 -2.40 0M55.4 66.5a1.20 1.20 0 1 0 2.40 0a1.20 1.20 0 1 0 -2.40 0M54.9 84.4a1.20 1.20 0 1 0 2.40 0a1.20 1.20 0 1 0 -2.40 0M55.3 113.2a1.20 1.20 0 1 0 2.40 0a1.20 1.20 0 1 0 -2.40 0M54.8 62.0a1.20 1.20 0 1 0 2.40 0a1.20 1.20 0 1 0 -2.40 0M55.0 68.9a1.20 1.20 0 1 0 2.40 0a1.20 1.20 0 1 0 -2.40 0M55.0 100.9a1.20 1.20 0 1 0 2.40 0a1.20 1.20 0 1 0 -2.40 0M55.3 69.3a1.20 1.20 0 1 0 2.40 0a1.20 1.20 0 1 0 -2.40 0M55.0 73.0a1.20 1.20 0 1 0 2.40 0a1.20 1.20 0 1 0 -2.40 0M54.9 103.5a1.20 1.20 0 1 0 2.40 0a1.20 1.20 0 1 0 -2.40 0M55.1 90.1a1.20 1.20 0 1 0 2.40 0a1.20 1.20 0 1 0 -2.40 0M55.5 85.7a1.20 1.20 0 1 0 2.40 0a1.20 1.20 0 1 0 -2.40 0M55.0 111.8a1.20 1.20 0 1 0 2.40 0a1.20 1.20 0 1 0 -2.40 0M55.5 76.9a1.20 1.20 0 1 0 2.40 0a1.20 1.20 0 1 0 -2.40 0M55.2 116.2a1.20 1.20 0 1 0 2.40 0a1.20 1.20 0 1 0 -2.40 0M55.2 69.1a1.20 1.20 0 1 0 2.40 0a1.20 1.20 0 1 0 -2.40 0M54.8 115.6a1.20 1.20 0 1 0 2.40 0a1.20 1.20 0 1 0 -2.40 0M55.4 79.6a1.20 1.20 0 1 0 2.40 0a1.20 1.20 0 1 0 -2.40 0M55.2 88.0a1.20 1.20 0 1 0 2.40 0a1.20 1.20 0 1 0 -2.40 0M55.0 118.4a1.20 1.20 0 1 0 2.40 0a1.20 1.20 0 1 0 -2.40 0M55.3 70.2a1.20 1.20 0 1 0 2.40 0a1.20 1.20 0 1 0 -2.40 0M54.8 85.2a1.20 1.20 0 1 0 2.40 0a1.20 1.20 0 1 0 -2.40 0M55.1 106.0a1.20 1.20 0 1 0 2.40 0a1.20 1.20 0 1 0 -2.40 0M55.4 93.8a1.20 1.20 0 1 0 2.40 0a1.20 1.20 0 1 0 -2.40 0M54.9 65.0a1.20 1.20 0 1 0 2.40 0a1.20 1.20 0 1 0 -2.40 0M55.1 71.6a1.20 1.20 0 1 0 2.40 0a1.20 1.20 0 1 0 -2.40 0M55.5 88.0a1.20 1.20 0 1 0 2.40 0a1.20 1.20 0 1 0 -2.40 0M55.3 118.6a1.20 1.20 0 1 0 2.40 0a1.20 1.20 0 1 0 -2.40 0M55.0 89.2a1.20 1.20 0 1 0 2.40 0a1.20 1.20 0 1 0 -2.40 0M54.9 104.3a1.20 1.20 0 1 0 2.40 0a1.20 1.20 0 1 0 -2.40 0M54.8 107.6a1.20 1.20 0 1 0 2.40 0a1.20 1.20 0 1 0 -2.40 0M55.5 107.6a1.20 1.20 0 1 0 2.40 0a1.20 1.20 0 1 0 -2.40 0M56.7 78.0a1.20 1.20 0 1 0 2.40 0a1.20 1.20 0 1 0 -2.40 0M57.2 67.1a1.20 1.20 0 1 0 2.40 0a1.20 1.20 0 1 0 -2.40 0M57.0 90.5a1.20 1.20 0 1 0 2.40 0a1.20 1.20 0 1 0 -2.40 0M57.4 98.0a1.20 1.20 0 1 0 2.40 0a1.20 1.20 0 1 0 -2.40 0M57.3 80.1a1.20 1.20 0 1 0 2.40 0a1.20 1.20 0 1 0 -2.40 0M57.2 87.3a1.20 1.20 0 1 0 2.40 0a1.20 1.20 0 1 0 -2.40 0M57.3 66.7a1.20 1.20 0 1 0 2.40 0a1.20 1.20 0 1 0 -2.40 0M57.3 74.1a1.20 1.20 0 1 0 2.40 0a1.20 1.20 0 1 0 -2.40 0M57.0 94.1a1.20 1.20 0 1 0 2.40 0a1.20 1.20 0 1 0 -2.40 0M56.7 113.4a1.20 1.20 0 1 0 2.40 0a1.20 1.20 0 1 0 -2.40 0M56.9 80.6a1.20 1.20 0 1 0 2.40 0a1.20 1.20 0 1 0 -2.40 0M56.7 80.3a1.20 1.20 0 1 0 2.40 0a1.20 1.20 0 1 0 -2.40 0M57.0 106.1a1.20 1.20 0 1 0 2.40 0a1.20 1.20 0 1 0 -2.40 0M56.9 104.3a1.20 1.20 0 1 0 2.40 0a1.20 1.20 0 1 0 -2.40 0M56.7 85.8a1.20 1.20 0 1 0 2.40 0a1.20 1.20 0 1 0 -2.40 0M57.0 121.9a1.20 1.20 0 1 0 2.40 0a1.20 1.20 0 1 0 -2.40 0M57.3 102.2a1.20 1.20 0 1 0 2.40 0a1.20 1.20 0 1 0 -2.40 0M56.6 84.8a1.20 1.20 0 1 0 2.40 0a1.20 1.20 0 1 0 -2.40 0M57.2 76.0a1.20 1.20 0 1 0 2.40 0a1.20 1.20 0 1 0 -2.40 0M57.1 89.9a1.20 1.20 0 1 0 2.40 0a1.20 1.20 0 1 0 -2.40 0M56.6 123.5a1.20 1.20 0 1 0 2.40 0a1.20 1.20 0 1 0 -2.40 0M57.2 74.0a1.20 1.20 0 1 0 2.40 0a1.20 1.20 0 1 0 -2.40 0M57.1 79.3a1.20 1.20 0 1 0 2.40 0a1.20 1.20 0 1 0 -2.40 0M56.9 95.0a1.20 1.20 0 1 0 2.40 0a1.20 1.20 0 1 0 -2.40 0M56.8 82.3a1.20 1.20 0 1 0 2.40 0a1.20 1.20 0 1 0 -2.40 0M56.9 103.0a1.20 1.20 0 1 0 2.40 0a1.20 1.20 0 1 0 -2.40 0M56.8 73.6a1.20 1.20 0 1 0 2.40 0a1.20 1.20 0 1 0 -2.40 0M57.2 81.8a1.20 1.20 0 1 0 2.40 0a1.20 1.20 0 1 0 -2.40 0M57.4 96.5a1.20 1.20 0 1 0 2.40 0a1.20 1.20 0 1 0 -2.40 0M57.2 81.9a1.20 1.20 0 1 0 2.40 0a1.20 1.20 0 1 0 -2.40 0M57.3 66.8a1.20 1.20 0 1 0 2.40 0a1.20 1.20 0 1 0 -2.40 0M56.7 66.9a1.20 1.20 0 1 0 2.40 0a1.20 1.20 0 1 0 -2.40 0M57.2 105.6a1.20 1.20 0 1 0 2.40 0a1.20 1.20 0 1 0 -2.40 0M56.8 86.3a1.20 1.20 0 1 0 2.40 0a1.20 1.20 0 1 0 -2.40 0M57.3 98.3a1.20 1.20 0 1 0 2.40 0a1.20 1.20 0 1 0 -2.40 0M56.7 75.3a1.20 1.20 0 1 0 2.40 0a1.20 1.20 0 1 0 -2.40 0M56.7 68.8a1.20 1.20 0 1 0 2.40 0a1.20 1.20 0 1 0 -2.40 0M56.9 65.6a1.20 1.20 0 1 0 2.40 0a1.20 1.20 0 1 0 -2.40 0M57.3 87.9a1.20 1.20 0 1 0 2.40 0a1.20 1.20 0 1 0 -2.40 0M57.0 101.8a1.20 1.20 0 1 0 2.40 0a1.20 1.20 0 1 0 -2.40 0M57.2 112.7a1.20 1.20 0 1 0 2.40 0a1.20 1.20 0 1 0 -2.40 0M56.9 81.9a1.20 1.20 0 1 0 2.40 0a1.20 1.20 0 1 0 -2.40 0M56.9 62.0a1.20 1.20 0 1 0 2.40 0a1.20 1.20 0 1 0 -2.40 0M56.9 105.1a1.20 1.20 0 1 0 2.40 0a1.20 1.20 0 1 0 -2.40 0M57.4 110.7a1.20 1.20 0 1 0 2.40 0a1.20 1.20 0 1 0 -2.40 0M57.1 99.3a1.20 1.20 0 1 0 2.40 0a1.20 1.20 0 1 0 -2.40 0M56.6 81.9a1.20 1.20 0 1 0 2.40 0a1.20 1.20 0 1 0 -2.40 0M56.9 102.0a1.20 1.20 0 1 0 2.40 0a1.20 1.20 0 1 0 -2.40 0M56.7 84.8a1.20 1.20 0 1 0 2.40 0a1.20 1.20 0 1 0 -2.40 0M57.0 110.7a1.20 1.20 0 1 0 2.40 0a1.20 1.20 0 1 0 -2.40 0M57.3 99.5a1.20 1.20 0 1 0 2.40 0a1.20 1.20 0 1 0 -2.40 0M56.7 109.3a1.20 1.20 0 1 0 2.40 0a1.20 1.20 0 1 0 -2.40 0M57.3 95.5a1.20 1.20 0 1 0 2.40 0a1.20 1.20 0 1 0 -2.40 0M56.9 92.5a1.20 1.20 0 1 0 2.40 0a1.20 1.20 0 1 0 -2.40 0M56.7 105.9a1.20 1.20 0 1 0 2.40 0a1.20 1.20 0 1 0 -2.40 0M57.4 93.5a1.20 1.20 0 1 0 2.40 0a1.20 1.20 0 1 0 -2.40 0M57.2 113.6a1.20 1.20 0 1 0 2.40 0a1.20 1.20 0 1 0 -2.40 0M56.8 120.5a1.20 1.20 0 1 0 2.40 0a1.20 1.20 0 1 0 -2.40 0M57.1 73.5a1.20 1.20 0 1 0 2.40 0a1.20 1.20 0 1 0 -2.40 0M56.7 76.4a1.20 1.20 0 1 0 2.40 0a1.20 1.20 0 1 0 -2.40 0M57.1 104.9a1.20 1.20 0 1 0 2.40 0a1.20 1.20 0 1 0 -2.40 0M56.9 119.5a1.20 1.20 0 1 0 2.40 0a1.20 1.20 0 1 0 -2.40 0M56.9 90.2a1.20 1.20 0 1 0 2.40 0a1.20 1.20 0 1 0 -2.40 0M56.7 122.3a1.20 1.20 0 1 0 2.40 0a1.20 1.20 0 1 0 -2.40 0M58.4 123.8a1.20 1.20 0 1 0 2.40 0a1.20 1.20 0 1 0 -2.40 0M58.9 101.4a1.20 1.20 0 1 0 2.40 0a1.20 1.20 0 1 0 -2.40 0M58.9 82.2a1.20 1.20 0 1 0 2.40 0a1.20 1.20 0 1 0 -2.40 0M59.3 129.5a1.20 1.20 0 1 0 2.40 0a1.20 1.20 0 1 0 -2.40 0M59.2 104.1a1.20 1.20 0 1 0 2.40 0a1.20 1.20 0 1 0 -2.40 0M58.4 118.6a1.20 1.20 0 1 0 2.40 0a1.20 1.20 0 1 0 -2.40 0M58.6 123.3a1.20 1.20 0 1 0 2.40 0a1.20 1.20 0 1 0 -2.40 0M58.5 102.3a1.20 1.20 0 1 0 2.40 0a1.20 1.20 0 1 0 -2.40 0M59.2 77.1a1.20 1.20 0 1 0 2.40 0a1.20 1.20 0 1 0 -2.40 0M58.9 70.0a1.20 1.20 0 1 0 2.40 0a1.20 1.20 0 1 0 -2.40 0M58.3 76.7a1.20 1.20 0 1 0 2.40 0a1.20 1.20 0 1 0 -2.40 0M59.4 126.1a1.20 1.20 0 1 0 2.40 0a1.20 1.20 0 1 0 -2.40 0M59.0 85.0a1.20 1.20 0 1 0 2.40 0a1.20 1.20 0 1 0 -2.40 0M59.0 112.9a1.20 1.20 0 1 0 2.40 0a1.20 1.20 0 1 0 -2.40 0M58.7 103.5a1.20 1.20 0 1 0 2.40 0a1.20 1.20 0 1 0 -2.40 0M59.2 66.1a1.20 1.20 0 1 0 2.40 0a1.20 1.20 0 1 0 -2.40 0M58.5 95.4a1.20 1.20 0 1 0 2.40 0a1.20 1.20 0 1 0 -2.40 0M58.4 90.1a1.20 1.20 0 1 0 2.40 0a1.20 1.20 0 1 0 -2.40 0M58.9 76.3a1.20 1.20 0 1 0 2.40 0a1.20 1.20 0 1 0 -2.40 0M58.8 82.1a1.20 1.20 0 1 0 2.40 0a1.20 1.20 0 1 0 -2.40 0M58.9 86.6a1.20 1.20 0 1 0 2.40 0a1.20 1.20 0 1 0 -2.40 0M59.0 67.5a1.20 1.20 0 1 0 2.40 0a1.20 1.20 0 1 0 -2.40 0M59.0 74.4a1.20 1.20 0 1 0 2.40 0a1.20 1.20 0 1 0 -2.40 0M59.4 104.0a1.20 1.20 0 1 0 2.40 0a1.20 1.20 0 1 0 -2.40 0M58.8 91.7a1.20 1.20 0 1 0 2.40 0a1.20 1.20 0 1 0 -2.40 0M59.0 109.8a1.20 1.20 0 1 0 2.40 0a1.20 1.20 0 1 0 -2.40 0M59.1 113.9a1.20 1.20 0 1 0 2.40 0a1.20 1.20 0 1 0 -2.40 0M58.8 129.6a1.20 1.20 0 1 0 2.40 0a1.20 1.20 0 1 0 -2.40 0M59.2 120.6a1.20 1.20 0 1 0 2.40 0a1.20 1.20 0 1 0 -2.40 0M58.7 93.2a1.20 1.20 0 1 0 2.40 0a1.20 1.20 0 1 0 -2.40 0M58.9 123.8a1.20 1.20 0 1 0 2.40 0a1.20 1.20 0 1 0 -2.40 0M58.8 99.1a1.20 1.20 0 1 0 2.40 0a1.20 1.20 0 1 0 -2.40 0M58.7 123.8a1.20 1.20 0 1 0 2.40 0a1.20 1.20 0 1 0 -2.40 0M58.6 68.6a1.20 1.20 0 1 0 2.40 0a1.20 1.20 0 1 0 -2.40 0M59.1 123.5a1.20 1.20 0 1 0 2.40 0a1.20 1.20 0 1 0 -2.40 0M59.1 103.8a1.20 1.20 0 1 0 2.40 0a1.20 1.20 0 1 0 -2.40 0M59.1 84.8a1.20 1.20 0 1 0 2.40 0a1.20 1.20 0 1 0 -2.40 0M58.9 69.5a1.20 1.20 0 1 0 2.40 0a1.20 1.20 0 1 0 -2.40 0M58.4 94.1a1.20 1.20 0 1 0 2.40 0a1.20 1.20 0 1 0 -2.40 0M58.8 90.8a1.20 1.20 0 1 0 2.40 0a1.20 1.20 0 1 0 -2.40 0M58.3 110.2a1.20 1.20 0 1 0 2.40 0a1.20 1.20 0 1 0 -2.40 0M58.8 80.5a1.20 1.20 0 1 0 2.40 0a1.20 1.20 0 1 0 -2.40 0M58.6 90.7a1.20 1.20 0 1 0 2.40 0a1.20 1.20 0 1 0 -2.40 0M58.5 69.4a1.20 1.20 0 1 0 2.40 0a1.20 1.20 0 1 0 -2.40 0M59.3 127.8a1.20 1.20 0 1 0 2.40 0a1.20 1.20 0 1 0 -2.40 0M59.0 121.3a1.20 1.20 0 1 0 2.40 0a1.20 1.20 0 1 0 -2.40 0M58.7 117.3a1.20 1.20 0 1 0 2.40 0a1.20 1.20 0 1 0 -2.40 0M58.5 113.5a1.20 1.20 0 1 0 2.40 0a1.20 1.20 0 1 0 -2.40 0M58.9 123.7a1.20 1.20 0 1 0 2.40 0a1.20 1.20 0 1 0 -2.40 0M58.3 116.5a1.20 1.20 0 1 0 2.40 0a1.20 1.20 0 1 0 -2.40 0M58.4 99.9a1.20 1.20 0 1 0 2.40 0a1.20 1.20 0 1 0 -2.40 0M59.4 65.0a1.20 1.20 0 1 0 2.40 0a1.20 1.20 0 1 0 -2.40 0M58.5 84.5a1.20 1.20 0 1 0 2.40 0a1.20 1.20 0 1 0 -2.40 0M58.6 69.1a1.20 1.20 0 1 0 2.40 0a1.20 1.20 0 1 0 -2.40 0M59.3 118.0a1.20 1.20 0 1 0 2.40 0a1.20 1.20 0 1 0 -2.40 0M58.7 88.2a1.20 1.20 0 1 0 2.40 0a1.20 1.20 0 1 0 -2.40 0M58.9 68.0a1.20 1.20 0 1 0 2.40 0a1.20 1.20 0 1 0 -2.40 0M58.2 123.4a1.20 1.20 0 1 0 2.40 0a1.20 1.20 0 1 0 -2.40 0M58.6 97.4a1.20 1.20 0 1 0 2.40 0a1.20 1.20 0 1 0 -2.40 0M59.3 128.5a1.20 1.20 0 1 0 2.40 0a1.20 1.20 0 1 0 -2.40 0M58.8 78.4a1.20 1.20 0 1 0 2.40 0a1.20 1.20 0 1 0 -2.40 0M58.6 125.0a1.20 1.20 0 1 0 2.40 0a1.20 1.20 0 1 0 -2.40 0M59.3 77.7a1.20 1.20 0 1 0 2.40 0a1.20 1.20 0 1 0 -2.40 0M59.2 88.0a1.20 1.20 0 1 0 2.40 0a1.20 1.20 0 1 0 -2.40 0M58.8 76.2a1.20 1.20 0 1 0 2.40 0a1.20 1.20 0 1 0 -2.40 0M59.3 129.7a1.20 1.20 0 1 0 2.40 0a1.20 1.20 0 1 0 -2.40 0M58.5 106.1a1.20 1.20 0 1 0 2.40 0a1.20 1.20 0 1 0 -2.40 0M58.4 122.2a1.20 1.20 0 1 0 2.40 0a1.20 1.20 0 1 0 -2.40 0M58.3 71.9a1.20 1.20 0 1 0 2.40 0a1.20 1.20 0 1 0 -2.40 0M59.1 85.3a1.20 1.20 0 1 0 2.40 0a1.20 1.20 0 1 0 -2.40 0M61.2 129.6a1.20 1.20 0 1 0 2.40 0a1.20 1.20 0 1 0 -2.40 0M61.1 87.7a1.20 1.20 0 1 0 2.40 0a1.20 1.20 0 1 0 -2.40 0M61.1 133.5a1.20 1.20 0 1 0 2.40 0a1.20 1.20 0 1 0 -2.40 0M60.9 84.5a1.20 1.20 0 1 0 2.40 0a1.20 1.20 0 1 0 -2.40 0M60.8 97.5a1.20 1.20 0 1 0 2.40 0a1.20 1.20 0 1 0 -2.40 0M61.1 91.2a1.20 1.20 0 1 0 2.40 0a1.20 1.20 0 1 0 -2.40 0M60.8 93.4a1.20 1.20 0 1 0 2.40 0a1.20 1.20 0 1 0 -2.40 0M61.1 125.1a1.20 1.20 0 1 0 2.40 0a1.20 1.20 0 1 0 -2.40 0M60.9 117.7a1.20 1.20 0 1 0 2.40 0a1.20 1.20 0 1 0 -2.40 0M61.2 113.6a1.20 1.20 0 1 0 2.40 0a1.20 1.20 0 1 0 -2.40 0M60.8 97.2a1.20 1.20 0 1 0 2.40 0a1.20 1.20 0 1 0 -2.40 0M61.2 118.0a1.20 1.20 0 1 0 2.40 0a1.20 1.20 0 1 0 -2.40 0M60.8 116.5a1.20 1.20 0 1 0 2.40 0a1.20 1.20 0 1 0 -2.40 0M60.7 136.0a1.20 1.20 0 1 0 2.40 0a1.20 1.20 0 1 0 -2.40 0M60.9 110.1a1.20 1.20 0 1 0 2.40 0a1.20 1.20 0 1 0 -2.40 0M61.0 82.6a1.20 1.20 0 1 0 2.40 0a1.20 1.20 0 1 0 -2.40 0M61.0 96.2a1.20 1.20 0 1 0 2.40 0a1.20 1.20 0 1 0 -2.40 0M60.8 125.8a1.20 1.20 0 1 0 2.40 0a1.20 1.20 0 1 0 -2.40 0M60.7 96.3a1.20 1.20 0 1 0 2.40 0a1.20 1.20 0 1 0 -2.40 0M61.1 94.0a1.20 1.20 0 1 0 2.40 0a1.20 1.20 0 1 0 -2.40 0M60.8 111.2a1.20 1.20 0 1 0 2.40 0a1.20 1.20 0 1 0 -2.40 0M60.8 131.1a1.20 1.20 0 1 0 2.40 0a1.20 1.20 0 1 0 -2.40 0M61.3 81.9a1.20 1.20 0 1 0 2.40 0a1.20 1.20 0 1 0 -2.40 0M61.0 122.8a1.20 1.20 0 1 0 2.40 0a1.20 1.20 0 1 0 -2.40 0M60.9 133.0a1.20 1.20 0 1 0 2.40 0a1.20 1.20 0 1 0 -2.40 0M61.0 90.3a1.20 1.20 0 1 0 2.40 0a1.20 1.20 0 1 0 -2.40 0M61.0 116.8a1.20 1.20 0 1 0 2.40 0a1.20 1.20 0 1 0 -2.40 0M60.9 117.5a1.20 1.20 0 1 0 2.40 0a1.20 1.20 0 1 0 -2.40 0M61.1 109.5a1.20 1.20 0 1 0 2.40 0a1.20 1.20 0 1 0 -2.40 0M61.0 128.2a1.20 1.20 0 1 0 2.40 0a1.20 1.20 0 1 0 -2.40 0M62.6 115.1a1.20 1.20 0 1 0 2.40 0a1.20 1.20 0 1 0 -2.40 0M62.8 95.7a1.20 1.20 0 1 0 2.40 0a1.20 1.20 0 1 0 -2.40 0M62.6 95.2a1.20 1.20 0 1 0 2.40 0a1.20 1.20 0 1 0 -2.40 0M62.5 99.2a1.20 1.20 0 1 0 2.40 0a1.20 1.20 0 1 0 -2.40 0M62.4 129.3a1.20 1.20 0 1 0 2.40 0a1.20 1.20 0 1 0 -2.40 0M62.6 130.3a1.20 1.20 0 1 0 2.40 0a1.20 1.20 0 1 0 -2.40 0M62.2 113.4a1.20 1.20 0 1 0 2.40 0a1.20 1.20 0 1 0 -2.40 0M62.2 118.5a1.20 1.20 0 1 0 2.40 0a1.20 1.20 0 1 0 -2.40 0M62.4 88.0a1.20 1.20 0 1 0 2.40 0a1.20 1.20 0 1 0 -2.40 0M62.5 126.0a1.20 1.20 0 1 0 2.40 0a1.20 1.20 0 1 0 -2.40 0M62.5 134.9a1.20 1.20 0 1 0 2.40 0a1.20 1.20 0 1 0 -2.40 0M62.2 94.5a1.20 1.20 0 1 0 2.40 0a1.20 1.20 0 1 0 -2.40 0M62.0 113.8a1.20 1.20 0 1 0 2.40 0a1.20 1.20 0 1 0 -2.40 0M62.4 110.7a1.20 1.20 0 1 0 2.40 0a1.20 1.20 0 1 0 -2.40 0M62.2 130.7a1.20 1.20 0 1 0 2.40 0a1.20 1.20 0 1 0 -2.40 0M62.1 136.8a1.20 1.20 0 1 0 2.40 0a1.20 1.20 0 1 0 -2.40 0M62.5 116.4a1.20 1.20 0 1 0 2.40 0a1.20 1.20 0 1 0 -2.40 0M62.6 99.3a1.20 1.20 0 1 0 2.40 0a1.20 1.20 0 1 0 -2.40 0M62.1 103.4a1.20 1.20 0 1 0 2.40 0a1.20 1.20 0 1 0 -2.40 0M62.0 103.6a1.20 1.20 0 1 0 2.40 0a1.20 1.20 0 1 0 -2.40 0M62.5 115.4a1.20 1.20 0 1 0 2.40 0a1.20 1.20 0 1 0 -2.40 0M62.2 119.0a1.20 1.20 0 1 0 2.40 0a1.20 1.20 0 1 0 -2.40 0M62.1 132.0a1.20 1.20 0 1 0 2.40 0a1.20 1.20 0 1 0 -2.40 0M62.2 100.3a1.20 1.20 0 1 0 2.40 0a1.20 1.20 0 1 0 -2.40 0M62.1 124.7a1.20 1.20 0 1 0 2.40 0a1.20 1.20 0 1 0 -2.40 0M62.7 130.1a1.20 1.20 0 1 0 2.40 0a1.20 1.20 0 1 0 -2.40 0M62.1 109.0a1.20 1.20 0 1 0 2.40 0a1.20 1.20 0 1 0 -2.40 0M62.3 98.1a1.20 1.20 0 1 0 2.40 0a1.20 1.20 0 1 0 -2.40 0M62.8 88.4a1.20 1.20 0 1 0 2.40 0a1.20 1.20 0 1 0 -2.40 0M62.4 128.6a1.20 1.20 0 1 0 2.40 0a1.20 1.20 0 1 0 -2.40 0M62.8 94.1a1.20 1.20 0 1 0 2.40 0a1.20 1.20 0 1 0 -2.40 0M62.4 127.7a1.20 1.20 0 1 0 2.40 0a1.20 1.20 0 1 0 -2.40 0M62.0 99.5a1.20 1.20 0 1 0 2.40 0a1.20 1.20 0 1 0 -2.40 0M62.7 93.9a1.20 1.20 0 1 0 2.40 0a1.20 1.20 0 1 0 -2.40 0M62.3 102.7a1.20 1.20 0 1 0 2.40 0a1.20 1.20 0 1 0 -2.40 0M62.4 90.3a1.20 1.20 0 1 0 2.40 0a1.20 1.20 0 1 0 -2.40 0M62.0 141.8a1.20 1.20 0 1 0 2.40 0a1.20 1.20 0 1 0 -2.40 0M62.6 127.1a1.20 1.20 0 1 0 2.40 0a1.20 1.20 0 1 0 -2.40 0M62.2 100.2a1.20 1.20 0 1 0 2.40 0a1.20 1.20 0 1 0 -2.40 0M62.5 99.5a1.20 1.20 0 1 0 2.40 0a1.20 1.20 0 1 0 -2.40 0M62.4 138.2a1.20 1.20 0 1 0 2.40 0a1.20 1.20 0 1 0 -2.40 0M62.3 104.9a1.20 1.20 0 1 0 2.40 0a1.20 1.20 0 1 0 -2.40 0M62.8 120.2a1.20 1.20 0 1 0 2.40 0a1.20 1.20 0 1 0 -2.40 0M62.0 108.6a1.20 1.20 0 1 0 2.40 0a1.20 1.20 0 1 0 -2.40 0M62.5 89.3a1.20 1.20 0 1 0 2.40 0a1.20 1.20 0 1 0 -2.40 0M62.3 124.9a1.20 1.20 0 1 0 2.40 0a1.20 1.20 0 1 0 -2.40 0M62.7 119.1a1.20 1.20 0 1 0 2.40 0a1.20 1.20 0 1 0 -2.40 0M62.7 111.9a1.20 1.20 0 1 0 2.40 0a1.20 1.20 0 1 0 -2.40 0M62.3 133.2a1.20 1.20 0 1 0 2.40 0a1.20 1.20 0 1 0 -2.40 0M62.3 129.8a1.20 1.20 0 1 0 2.40 0a1.20 1.20 0 1 0 -2.40 0M62.2 105.5a1.20 1.20 0 1 0 2.40 0a1.20 1.20 0 1 0 -2.40 0M62.2 116.8a1.20 1.20 0 1 0 2.40 0a1.20 1.20 0 1 0 -2.40 0M62.1 97.4a1.20 1.20 0 1 0 2.40 0a1.20 1.20 0 1 0 -2.40 0M62.2 112.2a1.20 1.20 0 1 0 2.40 0a1.20 1.20 0 1 0 -2.40 0M62.3 111.0a1.20 1.20 0 1 0 2.40 0a1.20 1.20 0 1 0 -2.40 0M62.8 124.0a1.20 1.20 0 1 0 2.40 0a1.20 1.20 0 1 0 -2.40 0M62.7 97.5a1.20 1.20 0 1 0 2.40 0a1.20 1.20 0 1 0 -2.40 0M62.3 90.1a1.20 1.20 0 1 0 2.40 0a1.20 1.20 0 1 0 -2.40 0M62.6 106.3a1.20 1.20 0 1 0 2.40 0a1.20 1.20 0 1 0 -2.40 0M62.2 87.0a1.20 1.20 0 1 0 2.40 0a1.20 1.20 0 1 0 -2.40 0M65.9 108.4a1.20 1.20 0 1 0 2.40 0a1.20 1.20 0 1 0 -2.40 0M66.0 144.8a1.20 1.20 0 1 0 2.40 0a1.20 1.20 0 1 0 -2.40 0M66.1 108.8a1.20 1.20 0 1 0 2.40 0a1.20 1.20 0 1 0 -2.40 0M66.0 102.4a1.20 1.20 0 1 0 2.40 0a1.20 1.20 0 1 0 -2.40 0M66.2 113.8a1.20 1.20 0 1 0 2.40 0a1.20 1.20 0 1 0 -2.40 0M66.1 133.8a1.20 1.20 0 1 0 2.40 0a1.20 1.20 0 1 0 -2.40 0M66.1 95.1a1.20 1.20 0 1 0 2.40 0a1.20 1.20 0 1 0 -2.40 0M66.0 115.1a1.20 1.20 0 1 0 2.40 0a1.20 1.20 0 1 0 -2.40 0M65.9 142.5a1.20 1.20 0 1 0 2.40 0a1.20 1.20 0 1 0 -2.40 0M66.0 136.4a1.20 1.20 0 1 0 2.40 0a1.20 1.20 0 1 0 -2.40 0M66.0 97.0a1.20 1.20 0 1 0 2.40 0a1.20 1.20 0 1 0 -2.40 0M66.0 107.1a1.20 1.20 0 1 0 2.40 0a1.20 1.20 0 1 0 -2.40 0M65.9 102.3a1.20 1.20 0 1 0 2.40 0a1.20 1.20 0 1 0 -2.40 0M66.0 95.7a1.20 1.20 0 1 0 2.40 0a1.20 1.20 0 1 0 -2.40 0M66.0 117.3a1.20 1.20 0 1 0 2.40 0a1.20 1.20 0 1 0 -2.40 0M66.0 101.5a1.20 1.20 0 1 0 2.40 0a1.20 1.20 0 1 0 -2.40 0M66.1 108.3a1.20 1.20 0 1 0 2.40 0a1.20 1.20 0 1 0 -2.40 0M66.1 130.6a1.20 1.20 0 1 0 2.40 0a1.20 1.20 0 1 0 -2.40 0M65.9 105.3a1.20 1.20 0 1 0 2.40 0a1.20 1.20 0 1 0 -2.40 0M66.0 133.2a1.20 1.20 0 1 0 2.40 0a1.20 1.20 0 1 0 -2.40 0M66.0 115.3a1.20 1.20 0 1 0 2.40 0a1.20 1.20 0 1 0 -2.40 0M66.1 106.4a1.20 1.20 0 1 0 2.40 0a1.20 1.20 0 1 0 -2.40 0M66.0 113.0a1.20 1.20 0 1 0 2.40 0a1.20 1.20 0 1 0 -2.40 0M65.9 96.2a1.20 1.20 0 1 0 2.40 0a1.20 1.20 0 1 0 -2.40 0M65.9 128.7a1.20 1.20 0 1 0 2.40 0a1.20 1.20 0 1 0 -2.40 0M66.0 138.5a1.20 1.20 0 1 0 2.40 0a1.20 1.20 0 1 0 -2.40 0M66.2 110.4a1.20 1.20 0 1 0 2.40 0a1.20 1.20 0 1 0 -2.40 0M66.1 144.5a1.20 1.20 0 1 0 2.40 0a1.20 1.20 0 1 0 -2.40 0M65.9 131.9a1.20 1.20 0 1 0 2.40 0a1.20 1.20 0 1 0 -2.40 0M66.1 146.5a1.20 1.20 0 1 0 2.40 0a1.20 1.20 0 1 0 -2.40 0M66.1 106.9a1.20 1.20 0 1 0 2.40 0a1.20 1.20 0 1 0 -2.40 0M66.1 98.9a1.20 1.20 0 1 0 2.40 0a1.20 1.20 0 1 0 -2.40 0M66.0 115.6a1.20 1.20 0 1 0 2.40 0a1.20 1.20 0 1 0 -2.40 0M65.9 115.1a1.20 1.20 0 1 0 2.40 0a1.20 1.20 0 1 0 -2.40 0M66.0 121.3a1.20 1.20 0 1 0 2.40 0a1.20 1.20 0 1 0 -2.40 0M66.0 102.7a1.20 1.20 0 1 0 2.40 0a1.20 1.20 0 1 0 -2.40 0M66.0 120.1a1.20 1.20 0 1 0 2.40 0a1.20 1.20 0 1 0 -2.40 0M65.9 130.6a1.20 1.20 0 1 0 2.40 0a1.20 1.20 0 1 0 -2.40 0M65.9 99.1a1.20 1.20 0 1 0 2.40 0a1.20 1.20 0 1 0 -2.40 0M66.0 117.2a1.20 1.20 0 1 0 2.40 0a1.20 1.20 0 1 0 -2.40 0M65.9 126.0a1.20 1.20 0 1 0 2.40 0a1.20 1.20 0 1 0 -2.40 0M66.1 124.4a1.20 1.20 0 1 0 2.40 0a1.20 1.20 0 1 0 -2.40 0M66.1 95.3a1.20 1.20 0 1 0 2.40 0a1.20 1.20 0 1 0 -2.40 0M66.0 114.0a1.20 1.20 0 1 0 2.40 0a1.20 1.20 0 1 0 -2.40 0M65.9 116.2a1.20 1.20 0 1 0 2.40 0a1.20 1.20 0 1 0 -2.40 0M65.9 121.3a1.20 1.20 0 1 0 2.40 0a1.20 1.20 0 1 0 -2.40 0M66.0 119.8a1.20 1.20 0 1 0 2.40 0a1.20 1.20 0 1 0 -2.40 0M66.0 107.9a1.20 1.20 0 1 0 2.40 0a1.20 1.20 0 1 0 -2.40 0M65.9 113.1a1.20 1.20 0 1 0 2.40 0a1.20 1.20 0 1 0 -2.40 0M66.1 125.1a1.20 1.20 0 1 0 2.40 0a1.20 1.20 0 1 0 -2.40 0M65.9 130.7a1.20 1.20 0 1 0 2.40 0a1.20 1.20 0 1 0 -2.40 0M65.9 119.8a1.20 1.20 0 1 0 2.40 0a1.20 1.20 0 1 0 -2.40 0M66.1 146.5a1.20 1.20 0 1 0 2.40 0a1.20 1.20 0 1 0 -2.40 0M66.0 125.7a1.20 1.20 0 1 0 2.40 0a1.20 1.20 0 1 0 -2.40 0M66.2 136.4a1.20 1.20 0 1 0 2.40 0a1.20 1.20 0 1 0 -2.40 0M69.7 130.3a1.20 1.20 0 1 0 2.40 0a1.20 1.20 0 1 0 -2.40 0M69.6 119.6a1.20 1.20 0 1 0 2.40 0a1.20 1.20 0 1 0 -2.40 0M69.6 141.1a1.20 1.20 0 1 0 2.40 0a1.20 1.20 0 1 0 -2.40 0M69.7 117.9a1.20 1.20 0 1 0 2.40 0a1.20 1.20 0 1 0 -2.40 0M69.7 100.0a1.20 1.20 0 1 0 2.40 0a1.20 1.20 0 1 0 -2.40 0M69.5 124.4a1.20 1.20 0 1 0 2.40 0a1.20 1.20 0 1 0 -2.40 0M69.6 116.7a1.20 1.20 0 1 0 2.40 0a1.20 1.20 0 1 0 -2.40 0M69.8 105.8a1.20 1.20 0 1 0 2.40 0a1.20 1.20 0 1 0 -2.40 0M69.5 109.9a1.20 1.20 0 1 0 2.40 0a1.20 1.20 0 1 0 -2.40 0M69.7 110.2a1.20 1.20 0 1 0 2.40 0a1.20 1.20 0 1 0 -2.40 0M69.5 126.3a1.20 1.20 0 1 0 2.40 0a1.20 1.20 0 1 0 -2.40 0M69.6 110.4a1.20 1.20 0 1 0 2.40 0a1.20 1.20 0 1 0 -2.40 0M69.6 131.8a1.20 1.20 0 1 0 2.40 0a1.20 1.20 0 1 0 -2.40 0M69.6 130.5a1.20 1.20 0 1 0 2.40 0a1.20 1.20 0 1 0 -2.40 0M69.6 141.2a1.20 1.20 0 1 0 2.40 0a1.20 1.20 0 1 0 -2.40 0M69.8 115.3a1.20 1.20 0 1 0 2.40 0a1.20 1.20 0 1 0 -2.40 0M69.6 144.1a1.20 1.20 0 1 0 2.40 0a1.20 1.20 0 1 0 -2.40 0M69.6 135.2a1.20 1.20 0 1 0 2.40 0a1.20 1.20 0 1 0 -2.40 0M69.7 133.7a1.20 1.20 0 1 0 2.40 0a1.20 1.20 0 1 0 -2.40 0M69.8 140.9a1.20 1.20 0 1 0 2.40 0a1.20 1.20 0 1 0 -2.40 0M69.5 130.3a1.20 1.20 0 1 0 2.40 0a1.20 1.20 0 1 0 -2.40 0M69.6 127.3a1.20 1.20 0 1 0 2.40 0a1.20 1.20 0 1 0 -2.40 0M69.6 112.9a1.20 1.20 0 1 0 2.40 0a1.20 1.20 0 1 0 -2.40 0M69.7 125.8a1.20 1.20 0 1 0 2.40 0a1.20 1.20 0 1 0 -2.40 0M69.5 111.0a1.20 1.20 0 1 0 2.40 0a1.20 1.20 0 1 0 -2.40 0M69.6 107.2a1.20 1.20 0 1 0 2.40 0a1.20 1.20 0 1 0 -2.40 0M69.6 104.6a1.20 1.20 0 1 0 2.40 0a1.20 1.20 0 1 0 -2.40 0M69.5 101.6a1.20 1.20 0 1 0 2.40 0a1.20 1.20 0 1 0 -2.40 0M69.5 134.6a1.20 1.20 0 1 0 2.40 0a1.20 1.20 0 1 0 -2.40 0M69.5 121.5a1.20 1.20 0 1 0 2.40 0a1.20 1.20 0 1 0 -2.40 0M69.7 123.0a1.20 1.20 0 1 0 2.40 0a1.20 1.20 0 1 0 -2.40 0M69.5 143.0a1.20 1.20 0 1 0 2.40 0a1.20 1.20 0 1 0 -2.40 0M69.7 100.8a1.20 1.20 0 1 0 2.40 0a1.20 1.20 0 1 0 -2.40 0M69.6 124.4a1.20 1.20 0 1 0 2.40 0a1.20 1.20 0 1 0 -2.40 0M69.7 118.4a1.20 1.20 0 1 0 2.40 0a1.20 1.20 0 1 0 -2.40 0M69.7 111.1a1.20 1.20 0 1 0 2.40 0a1.20 1.20 0 1 0 -2.40 0M69.7 115.0a1.20 1.20 0 1 0 2.40 0a1.20 1.20 0 1 0 -2.40 0M69.6 137.5a1.20 1.20 0 1 0 2.40 0a1.20 1.20 0 1 0 -2.40 0M69.7 141.1a1.20 1.20 0 1 0 2.40 0a1.20 1.20 0 1 0 -2.40 0M69.6 119.9a1.20 1.20 0 1 0 2.40 0a1.20 1.20 0 1 0 -2.40 0M69.7 130.4a1.20 1.20 0 1 0 2.40 0a1.20 1.20 0 1 0 -2.40 0M69.7 139.7a1.20 1.20 0 1 0 2.40 0a1.20 1.20 0 1 0 -2.40 0M69.5 117.6a1.20 1.20 0 1 0 2.40 0a1.20 1.20 0 1 0 -2.40 0M69.7 110.0a1.20 1.20 0 1 0 2.40 0a1.20 1.20 0 1 0 -2.40 0M69.5 98.7a1.20 1.20 0 1 0 2.40 0a1.20 1.20 0 1 0 -2.40 0M69.6 146.9a1.20 1.20 0 1 0 2.40 0a1.20 1.20 0 1 0 -2.40 0M69.8 105.0a1.20 1.20 0 1 0 2.40 0a1.20 1.20 0 1 0 -2.40 0M69.7 119.8a1.20 1.20 0 1 0 2.40 0a1.20 1.20 0 1 0 -2.40 0M69.7 118.6a1.20 1.20 0 1 0 2.40 0a1.20 1.20 0 1 0 -2.40 0M69.8 149.4a1.20 1.20 0 1 0 2.40 0a1.20 1.20 0 1 0 -2.40 0M69.5 135.1a1.20 1.20 0 1 0 2.40 0a1.20 1.20 0 1 0 -2.40 0M69.5 100.2a1.20 1.20 0 1 0 2.40 0a1.20 1.20 0 1 0 -2.40 0M73.2 141.2a1.20 1.20 0 1 0 2.40 0a1.20 1.20 0 1 0 -2.40 0M73.4 109.8a1.20 1.20 0 1 0 2.40 0a1.20 1.20 0 1 0 -2.40 0M73.2 105.0a1.20 1.20 0 1 0 2.40 0a1.20 1.20 0 1 0 -2.40 0M73.2 128.4a1.20 1.20 0 1 0 2.40 0a1.20 1.20 0 1 0 -2.40 0M73.2 119.5a1.20 1.20 0 1 0 2.40 0a1.20 1.20 0 1 0 -2.40 0M73.3 146.7a1.20 1.20 0 1 0 2.40 0a1.20 1.20 0 1 0 -2.40 0M73.2 123.7a1.20 1.20 0 1 0 2.40 0a1.20 1.20 0 1 0 -2.40 0M73.3 142.9a1.20 1.20 0 1 0 2.40 0a1.20 1.20 0 1 0 -2.40 0M73.4 123.6a1.20 1.20 0 1 0 2.40 0a1.20 1.20 0 1 0 -2.40 0M73.3 131.7a1.20 1.20 0 1 0 2.40 0a1.20 1.20 0 1 0 -2.40 0M73.3 111.2a1.20 1.20 0 1 0 2.40 0a1.20 1.20 0 1 0 -2.40 0M73.1 109.1a1.20 1.20 0 1 0 2.40 0a1.20 1.20 0 1 0 -2.40 0M73.4 116.5a1.20 1.20 0 1 0 2.40 0a1.20 1.20 0 1 0 -2.40 0M73.2 109.8a1.20 1.20 0 1 0 2.40 0a1.20 1.20 0 1 0 -2.40 0M73.2 104.6a1.20 1.20 0 1 0 2.40 0a1.20 1.20 0 1 0 -2.40 0M73.2 111.0a1.20 1.20 0 1 0 2.40 0a1.20 1.20 0 1 0 -2.40 0M73.3 117.7a1.20 1.20 0 1 0 2.40 0a1.20 1.20 0 1 0 -2.40 0M73.1 128.4a1.20 1.20 0 1 0 2.40 0a1.20 1.20 0 1 0 -2.40 0M73.2 116.9a1.20 1.20 0 1 0 2.40 0a1.20 1.20 0 1 0 -2.40 0M73.1 106.9a1.20 1.20 0 1 0 2.40 0a1.20 1.20 0 1 0 -2.40 0M73.3 119.5a1.20 1.20 0 1 0 2.40 0a1.20 1.20 0 1 0 -2.40 0M73.1 113.0a1.20 1.20 0 1 0 2.40 0a1.20 1.20 0 1 0 -2.40 0M73.2 154.9a1.20 1.20 0 1 0 2.40 0a1.20 1.20 0 1 0 -2.40 0M73.1 148.2a1.20 1.20 0 1 0 2.40 0a1.20 1.20 0 1 0 -2.40 0M73.2 124.9a1.20 1.20 0 1 0 2.40 0a1.20 1.20 0 1 0 -2.40 0M73.3 124.0a1.20 1.20 0 1 0 2.40 0a1.20 1.20 0 1 0 -2.40 0M73.1 131.9a1.20 1.20 0 1 0 2.40 0a1.20 1.20 0 1 0 -2.40 0M73.3 135.6a1.20 1.20 0 1 0 2.40 0a1.20 1.20 0 1 0 -2.40 0M73.2 151.9a1.20 1.20 0 1 0 2.40 0a1.20 1.20 0 1 0 -2.40 0M73.3 154.7a1.20 1.20 0 1 0 2.40 0a1.20 1.20 0 1 0 -2.40 0M73.2 146.5a1.20 1.20 0 1 0 2.40 0a1.20 1.20 0 1 0 -2.40 0M73.3 112.6a1.20 1.20 0 1 0 2.40 0a1.20 1.20 0 1 0 -2.40 0M73.1 112.3a1.20 1.20 0 1 0 2.40 0a1.20 1.20 0 1 0 -2.40 0M73.1 107.4a1.20 1.20 0 1 0 2.40 0a1.20 1.20 0 1 0 -2.40 0M73.2 142.3a1.20 1.20 0 1 0 2.40 0a1.20 1.20 0 1 0 -2.40 0M73.2 130.0a1.20 1.20 0 1 0 2.40 0a1.20 1.20 0 1 0 -2.40 0M73.1 114.4a1.20 1.20 0 1 0 2.40 0a1.20 1.20 0 1 0 -2.40 0M73.4 104.2a1.20 1.20 0 1 0 2.40 0a1.20 1.20 0 1 0 -2.40 0M73.2 145.2a1.20 1.20 0 1 0 2.40 0a1.20 1.20 0 1 0 -2.40 0M73.3 141.4a1.20 1.20 0 1 0 2.40 0a1.20 1.20 0 1 0 -2.40 0M73.2 144.9a1.20 1.20 0 1 0 2.40 0a1.20 1.20 0 1 0 -2.40 0M73.3 143.1a1.20 1.20 0 1 0 2.40 0a1.20 1.20 0 1 0 -2.40 0M73.4 108.8a1.20 1.20 0 1 0 2.40 0a1.20 1.20 0 1 0 -2.40 0M73.4 124.3a1.20 1.20 0 1 0 2.40 0a1.20 1.20 0 1 0 -2.40 0M73.3 116.5a1.20 1.20 0 1 0 2.40 0a1.20 1.20 0 1 0 -2.40 0M73.4 104.8a1.20 1.20 0 1 0 2.40 0a1.20 1.20 0 1 0 -2.40 0M73.3 115.3a1.20 1.20 0 1 0 2.40 0a1.20 1.20 0 1 0 -2.40 0M73.2 122.6a1.20 1.20 0 1 0 2.40 0a1.20 1.20 0 1 0 -2.40 0M73.3 145.3a1.20 1.20 0 1 0 2.40 0a1.20 1.20 0 1 0 -2.40 0M73.2 136.4a1.20 1.20 0 1 0 2.40 0a1.20 1.20 0 1 0 -2.40 0M76.8 122.5a1.20 1.20 0 1 0 2.40 0a1.20 1.20 0 1 0 -2.40 0M77.0 124.7a1.20 1.20 0 1 0 2.40 0a1.20 1.20 0 1 0 -2.40 0M76.7 125.4a1.20 1.20 0 1 0 2.40 0a1.20 1.20 0 1 0 -2.40 0M76.9 119.0a1.20 1.20 0 1 0 2.40 0a1.20 1.20 0 1 0 -2.40 0M76.9 136.4a1.20 1.20 0 1 0 2.40 0a1.20 1.20 0 1 0 -2.40 0M76.9 117.2a1.20 1.20 0 1 0 2.40 0a1.20 1.20 0 1 0 -2.40 0M76.7 115.4a1.20 1.20 0 1 0 2.40 0a1.20 1.20 0 1 0 -2.40 0M76.8 130.4a1.20 1.20 0 1 0 2.40 0a1.20 1.20 0 1 0 -2.40 0M76.7 134.1a1.20 1.20 0 1 0 2.40 0a1.20 1.20 0 1 0 -2.40 0M76.8 124.7a1.20 1.20 0 1 0 2.40 0a1.20 1.20 0 1 0 -2.40 0M76.8 157.5a1.20 1.20 0 1 0 2.40 0a1.20 1.20 0 1 0 -2.40 0M76.7 153.8a1.20 1.20 0 1 0 2.40 0a1.20 1.20 0 1 0 -2.40 0M76.8 147.2a1.20 1.20 0 1 0 2.40 0a1.20 1.20 0 1 0 -2.40 0M76.7 159.4a1.20 1.20 0 1 0 2.40 0a1.20 1.20 0 1 0 -2.40 0M76.8 158.1a1.20 1.20 0 1 0 2.40 0a1.20 1.20 0 1 0 -2.40 0M76.7 129.2a1.20 1.20 0 1 0 2.40 0a1.20 1.20 0 1 0 -2.40 0M76.9 117.2a1.20 1.20 0 1 0 2.40 0a1.20 1.20 0 1 0 -2.40 0M76.8 143.2a1.20 1.20 0 1 0 2.40 0a1.20 1.20 0 1 0 -2.40 0M77.0 124.8a1.20 1.20 0 1 0 2.40 0a1.20 1.20 0 1 0 -2.40 0M76.7 126.6a1.20 1.20 0 1 0 2.40 0a1.20 1.20 0 1 0 -2.40 0M77.0 115.7a1.20 1.20 0 1 0 2.40 0a1.20 1.20 0 1 0 -2.40 0M76.9 127.7a1.20 1.20 0 1 0 2.40 0a1.20 1.20 0 1 0 -2.40 0M76.9 119.0a1.20 1.20 0 1 0 2.40 0a1.20 1.20 0 1 0 -2.40 0M76.9 154.2a1.20 1.20 0 1 0 2.40 0a1.20 1.20 0 1 0 -2.40 0M76.9 140.7a1.20 1.20 0 1 0 2.40 0a1.20 1.20 0 1 0 -2.40 0M76.8 137.5a1.20 1.20 0 1 0 2.40 0a1.20 1.20 0 1 0 -2.40 0M76.7 151.5a1.20 1.20 0 1 0 2.40 0a1.20 1.20 0 1 0 -2.40 0M76.9 131.6a1.20 1.20 0 1 0 2.40 0a1.20 1.20 0 1 0 -2.40 0M76.9 129.8a1.20 1.20 0 1 0 2.40 0a1.20 1.20 0 1 0 -2.40 0M76.8 120.0a1.20 1.20 0 1 0 2.40 0a1.20 1.20 0 1 0 -2.40 0M76.9 137.8a1.20 1.20 0 1 0 2.40 0a1.20 1.20 0 1 0 -2.40 0M76.8 109.7a1.20 1.20 0 1 0 2.40 0a1.20 1.20 0 1 0 -2.40 0M76.9 131.2a1.20 1.20 0 1 0 2.40 0a1.20 1.20 0 1 0 -2.40 0M76.9 138.9a1.20 1.20 0 1 0 2.40 0a1.20 1.20 0 1 0 -2.40 0M77.0 115.9a1.20 1.20 0 1 0 2.40 0a1.20 1.20 0 1 0 -2.40 0M76.8 159.6a1.20 1.20 0 1 0 2.40 0a1.20 1.20 0 1 0 -2.40 0M76.9 124.3a1.20 1.20 0 1 0 2.40 0a1.20 1.20 0 1 0 -2.40 0M76.9 159.4a1.20 1.20 0 1 0 2.40 0a1.20 1.20 0 1 0 -2.40 0M76.8 153.1a1.20 1.20 0 1 0 2.40 0a1.20 1.20 0 1 0 -2.40 0M76.7 159.5a1.20 1.20 0 1 0 2.40 0a1.20 1.20 0 1 0 -2.40 0M76.8 120.2a1.20 1.20 0 1 0 2.40 0a1.20 1.20 0 1 0 -2.40 0M76.9 141.8a1.20 1.20 0 1 0 2.40 0a1.20 1.20 0 1 0 -2.40 0M77.0 151.1a1.20 1.20 0 1 0 2.40 0a1.20 1.20 0 1 0 -2.40 0M76.9 134.6a1.20 1.20 0 1 0 2.40 0a1.20 1.20 0 1 0 -2.40 0M77.0 111.4a1.20 1.20 0 1 0 2.40 0a1.20 1.20 0 1 0 -2.40 0M76.9 145.0a1.20 1.20 0 1 0 2.40 0a1.20 1.20 0 1 0 -2.40 0M76.8 150.0a1.20 1.20 0 1 0 2.40 0a1.20 1.20 0 1 0 -2.40 0M76.8 135.9a1.20 1.20 0 1 0 2.40 0a1.20 1.20 0 1 0 -2.40 0M76.9 118.2a1.20 1.20 0 1 0 2.40 0a1.20 1.20 0 1 0 -2.40 0M76.8 141.5a1.20 1.20 0 1 0 2.40 0a1.20 1.20 0 1 0 -2.40 0M91.1 152.9a1.20 1.20 0 1 0 2.40 0a1.20 1.20 0 1 0 -2.40 0M91.3 149.2a1.20 1.20 0 1 0 2.40 0a1.20 1.20 0 1 0 -2.40 0M91.2 166.7a1.20 1.20 0 1 0 2.40 0a1.20 1.20 0 1 0 -2.40 0M91.4 165.1a1.20 1.20 0 1 0 2.40 0a1.20 1.20 0 1 0 -2.40 0M91.3 172.7a1.20 1.20 0 1 0 2.40 0a1.20 1.20 0 1 0 -2.40 0M91.3 130.1a1.20 1.20 0 1 0 2.40 0a1.20 1.20 0 1 0 -2.40 0M91.2 127.2a1.20 1.20 0 1 0 2.40 0a1.20 1.20 0 1 0 -2.40 0M91.1 141.0a1.20 1.20 0 1 0 2.40 0a1.20 1.20 0 1 0 -2.40 0M91.4 168.6a1.20 1.20 0 1 0 2.40 0a1.20 1.20 0 1 0 -2.40 0M91.1 131.8a1.20 1.20 0 1 0 2.40 0a1.20 1.20 0 1 0 -2.40 0M91.2 169.5a1.20 1.20 0 1 0 2.40 0a1.20 1.20 0 1 0 -2.40 0M91.3 172.5a1.20 1.20 0 1 0 2.40 0a1.20 1.20 0 1 0 -2.40 0M91.1 177.3a1.20 1.20 0 1 0 2.40 0a1.20 1.20 0 1 0 -2.40 0M91.2 157.1a1.20 1.20 0 1 0 2.40 0a1.20 1.20 0 1 0 -2.40 0M91.4 162.6a1.20 1.20 0 1 0 2.40 0a1.20 1.20 0 1 0 -2.40 0M91.2 159.3a1.20 1.20 0 1 0 2.40 0a1.20 1.20 0 1 0 -2.40 0M91.2 122.4a1.20 1.20 0 1 0 2.40 0a1.20 1.20 0 1 0 -2.40 0M91.2 139.3a1.20 1.20 0 1 0 2.40 0a1.20 1.20 0 1 0 -2.40 0M91.3 137.2a1.20 1.20 0 1 0 2.40 0a1.20 1.20 0 1 0 -2.40 0M91.3 160.8a1.20 1.20 0 1 0 2.40 0a1.20 1.20 0 1 0 -2.40 0M91.2 128.7a1.20 1.20 0 1 0 2.40 0a1.20 1.20 0 1 0 -2.40 0M91.3 147.9a1.20 1.20 0 1 0 2.40 0a1.20 1.20 0 1 0 -2.40 0M91.1 128.1a1.20 1.20 0 1 0 2.40 0a1.20 1.20 0 1 0 -2.40 0M91.4 156.0a1.20 1.20 0 1 0 2.40 0a1.20 1.20 0 1 0 -2.40 0M91.2 132.6a1.20 1.20 0 1 0 2.40 0a1.20 1.20 0 1 0 -2.40 0M91.4 160.6a1.20 1.20 0 1 0 2.40 0a1.20 1.20 0 1 0 -2.40 0M91.3 141.9a1.20 1.20 0 1 0 2.40 0a1.20 1.20 0 1 0 -2.40 0M91.2 144.6a1.20 1.20 0 1 0 2.40 0a1.20 1.20 0 1 0 -2.40 0M91.1 157.2a1.20 1.20 0 1 0 2.40 0a1.20 1.20 0 1 0 -2.40 0M91.2 167.8a1.20 1.20 0 1 0 2.40 0a1.20 1.20 0 1 0 -2.40 0M91.2 147.3a1.20 1.20 0 1 0 2.40 0a1.20 1.20 0 1 0 -2.40 0M91.2 174.7a1.20 1.20 0 1 0 2.40 0a1.20 1.20 0 1 0 -2.40 0M91.2 161.3a1.20 1.20 0 1 0 2.40 0a1.20 1.20 0 1 0 -2.40 0M91.2 154.2a1.20 1.20 0 1 0 2.40 0a1.20 1.20 0 1 0 -2.40 0M91.2 170.8a1.20 1.20 0 1 0 2.40 0a1.20 1.20 0 1 0 -2.40 0M91.2 169.8a1.20 1.20 0 1 0 2.40 0a1.20 1.20 0 1 0 -2.40 0M91.3 147.2a1.20 1.20 0 1 0 2.40 0a1.20 1.20 0 1 0 -2.40 0M91.4 143.4a1.20 1.20 0 1 0 2.40 0a1.20 1.20 0 1 0 -2.40 0M91.3 155.5a1.20 1.20 0 1 0 2.40 0a1.20 1.20 0 1 0 -2.40 0M91.2 125.1a1.20 1.20 0 1 0 2.40 0a1.20 1.20 0 1 0 -2.40 0M91.2 137.4a1.20 1.20 0 1 0 2.40 0a1.20 1.20 0 1 0 -2.40 0M91.2 175.4a1.20 1.20 0 1 0 2.40 0a1.20 1.20 0 1 0 -2.40 0M91.2 160.8a1.20 1.20 0 1 0 2.40 0a1.20 1.20 0 1 0 -2.40 0M91.3 135.3a1.20 1.20 0 1 0 2.40 0a1.20 1.20 0 1 0 -2.40 0M91.2 129.0a1.20 1.20 0 1 0 2.40 0a1.20 1.20 0 1 0 -2.40 0M91.4 135.7a1.20 1.20 0 1 0 2.40 0a1.20 1.20 0 1 0 -2.40 0M91.2 140.8a1.20 1.20 0 1 0 2.40 0a1.20 1.20 0 1 0 -2.40 0M91.3 169.5a1.20 1.20 0 1 0 2.40 0a1.20 1.20 0 1 0 -2.40 0M112.9 157.6a1.20 1.20 0 1 0 2.40 0a1.20 1.20 0 1 0 -2.40 0M112.8 173.3a1.20 1.20 0 1 0 2.40 0a1.20 1.20 0 1 0 -2.40 0M112.7 149.4a1.20 1.20 0 1 0 2.40 0a1.20 1.20 0 1 0 -2.40 0M112.8 165.5a1.20 1.20 0 1 0 2.40 0a1.20 1.20 0 1 0 -2.40 0M112.9 148.5a1.20 1.20 0 1 0 2.40 0a1.20 1.20 0 1 0 -2.40 0M113.0 175.7a1.20 1.20 0 1 0 2.40 0a1.20 1.20 0 1 0 -2.40 0M112.7 161.5a1.20 1.20 0 1 0 2.40 0a1.20 1.20 0 1 0 -2.40 0M112.9 149.3a1.20 1.20 0 1 0 2.40 0a1.20 1.20 0 1 0 -2.40 0M112.9 147.2a1.20 1.20 0 1 0 2.40 0a1.20 1.20 0 1 0 -2.40 0M112.9 160.2a1.20 1.20 0 1 0 2.40 0a1.20 1.20 0 1 0 -2.40 0M113.0 176.9a1.20 1.20 0 1 0 2.40 0a1.20 1.20 0 1 0 -2.40 0M113.0 150.8a1.20 1.20 0 1 0 2.40 0a1.20 1.20 0 1 0 -2.40 0M113.0 162.2a1.20 1.20 0 1 0 2.40 0a1.20 1.20 0 1 0 -2.40 0M112.9 177.9a1.20 1.20 0 1 0 2.40 0a1.20 1.20 0 1 0 -2.40 0M112.7 153.8a1.20 1.20 0 1 0 2.40 0a1.20 1.20 0 1 0 -2.40 0M112.8 162.5a1.20 1.20 0 1 0 2.40 0a1.20 1.20 0 1 0 -2.40 0M112.8 177.5a1.20 1.20 0 1 0 2.40 0a1.20 1.20 0 1 0 -2.40 0M112.8 149.6a1.20 1.20 0 1 0 2.40 0a1.20 1.20 0 1 0 -2.40 0M112.8 150.8a1.20 1.20 0 1 0 2.40 0a1.20 1.20 0 1 0 -2.40 0M112.9 136.8a1.20 1.20 0 1 0 2.40 0a1.20 1.20 0 1 0 -2.40 0M112.8 162.2a1.20 1.20 0 1 0 2.40 0a1.20 1.20 0 1 0 -2.40 0M112.9 166.4a1.20 1.20 0 1 0 2.40 0a1.20 1.20 0 1 0 -2.40 0M112.8 169.5a1.20 1.20 0 1 0 2.40 0a1.20 1.20 0 1 0 -2.40 0M112.9 167.9a1.20 1.20 0 1 0 2.40 0a1.20 1.20 0 1 0 -2.40 0M112.8 154.1a1.20 1.20 0 1 0 2.40 0a1.20 1.20 0 1 0 -2.40 0M112.7 171.7a1.20 1.20 0 1 0 2.40 0a1.20 1.20 0 1 0 -2.40 0M113.0 173.3a1.20 1.20 0 1 0 2.40 0a1.20 1.20 0 1 0 -2.40 0M112.7 148.8a1.20 1.20 0 1 0 2.40 0a1.20 1.20 0 1 0 -2.40 0M112.9 157.0a1.20 1.20 0 1 0 2.40 0a1.20 1.20 0 1 0 -2.40 0M112.8 168.5a1.20 1.20 0 1 0 2.40 0a1.20 1.20 0 1 0 -2.40 0M112.8 155.8a1.20 1.20 0 1 0 2.40 0a1.20 1.20 0 1 0 -2.40 0M112.8 158.6a1.20 1.20 0 1 0 2.40 0a1.20 1.20 0 1 0 -2.40 0M112.8 137.0a1.20 1.20 0 1 0 2.40 0a1.20 1.20 0 1 0 -2.40 0M112.9 146.2a1.20 1.20 0 1 0 2.40 0a1.20 1.20 0 1 0 -2.40 0M113.0 144.1a1.20 1.20 0 1 0 2.40 0a1.20 1.20 0 1 0 -2.40 0M112.8 135.4a1.20 1.20 0 1 0 2.40 0a1.20 1.20 0 1 0 -2.40 0M112.8 153.3a1.20 1.20 0 1 0 2.40 0a1.20 1.20 0 1 0 -2.40 0M112.9 153.7a1.20 1.20 0 1 0 2.40 0a1.20 1.20 0 1 0 -2.40 0M113.0 137.7a1.20 1.20 0 1 0 2.40 0a1.20 1.20 0 1 0 -2.40 0M113.0 140.0a1.20 1.20 0 1 0 2.40 0a1.20 1.20 0 1 0 -2.40 0M134.6 155.7a1.20 1.20 0 1 0 2.40 0a1.20 1.20 0 1 0 -2.40 0M134.5 158.4a1.20 1.20 0 1 0 2.40 0a1.20 1.20 0 1 0 -2.40 0M134.6 168.9a1.20 1.20 0 1 0 2.40 0a1.20 1.20 0 1 0 -2.40 0M134.5 140.3a1.20 1.20 0 1 0 2.40 0a1.20 1.20 0 1 0 -2.40 0M134.4 164.6a1.20 1.20 0 1 0 2.40 0a1.20 1.20 0 1 0 -2.40 0M134.6 161.4a1.20 1.20 0 1 0 2.40 0a1.20 1.20 0 1 0 -2.40 0M134.4 155.9a1.20 1.20 0 1 0 2.40 0a1.20 1.20 0 1 0 -2.40 0M134.4 143.3a1.20 1.20 0 1 0 2.40 0a1.20 1.20 0 1 0 -2.40 0M134.4 169.0a1.20 1.20 0 1 0 2.40 0a1.20 1.20 0 1 0 -2.40 0M134.5 165.4a1.20 1.20 0 1 0 2.40 0a1.20 1.20 0 1 0 -2.40 0M134.4 152.5a1.20 1.20 0 1 0 2.40 0a1.20 1.20 0 1 0 -2.40 0M134.4 147.8a1.20 1.20 0 1 0 2.40 0a1.20 1.20 0 1 0 -2.40 0M134.4 167.6a1.20 1.20 0 1 0 2.40 0a1.20 1.20 0 1 0 -2.40 0M134.4 154.7a1.20 1.20 0 1 0 2.40 0a1.20 1.20 0 1 0 -2.40 0M134.5 166.6a1.20 1.20 0 1 0 2.40 0a1.20 1.20 0 1 0 -2.40 0M134.6 157.0a1.20 1.20 0 1 0 2.40 0a1.20 1.20 0 1 0 -2.40 0M134.5 167.1a1.20 1.20 0 1 0 2.40 0a1.20 1.20 0 1 0 -2.40 0M134.5 149.0a1.20 1.20 0 1 0 2.40 0a1.20 1.20 0 1 0 -2.40 0M134.6 147.7a1.20 1.20 0 1 0 2.40 0a1.20 1.20 0 1 0 -2.40 0M134.5 152.9a1.20 1.20 0 1 0 2.40 0a1.20 1.20 0 1 0 -2.40 0M134.5 150.8a1.20 1.20 0 1 0 2.40 0a1.20 1.20 0 1 0 -2.40 0M134.5 153.5a1.20 1.20 0 1 0 2.40 0a1.20 1.20 0 1 0 -2.40 0M134.4 165.1a1.20 1.20 0 1 0 2.40 0a1.20 1.20 0 1 0 -2.40 0M134.4 155.8a1.20 1.20 0 1 0 2.40 0a1.20 1.20 0 1 0 -2.40 0M134.5 152.0a1.20 1.20 0 1 0 2.40 0a1.20 1.20 0 1 0 -2.40 0M134.4 143.0a1.20 1.20 0 1 0 2.40 0a1.20 1.20 0 1 0 -2.40 0M134.5 149.4a1.20 1.20 0 1 0 2.40 0a1.20 1.20 0 1 0 -2.40 0M134.5 146.9a1.20 1.20 0 1 0 2.40 0a1.20 1.20 0 1 0 -2.40 0M134.6 154.6a1.20 1.20 0 1 0 2.40 0a1.20 1.20 0 1 0 -2.40 0M134.3 152.2a1.20 1.20 0 1 0 2.40 0a1.20 1.20 0 1 0 -2.40 0M163.5 146.8a1.20 1.20 0 1 0 2.40 0a1.20 1.20 0 1 0 -2.40 0M163.4 174.8a1.20 1.20 0 1 0 2.40 0a1.20 1.20 0 1 0 -2.40 0M163.3 164.2a1.20 1.20 0 1 0 2.40 0a1.20 1.20 0 1 0 -2.40 0M163.3 155.5a1.20 1.20 0 1 0 2.40 0a1.20 1.20 0 1 0 -2.40 0M163.4 163.9a1.20 1.20 0 1 0 2.40 0a1.20 1.20 0 1 0 -2.40 0M163.3 161.2a1.20 1.20 0 1 0 2.40 0a1.20 1.20 0 1 0 -2.40 0M163.3 168.8a1.20 1.20 0 1 0 2.40 0a1.20 1.20 0 1 0 -2.40 0M163.2 149.3a1.20 1.20 0 1 0 2.40 0a1.20 1.20 0 1 0 -2.40 0M163.3 154.5a1.20 1.20 0 1 0 2.40 0a1.20 1.20 0 1 0 -2.40 0M163.4 159.1a1.20 1.20 0 1 0 2.40 0a1.20 1.20 0 1 0 -2.40 0M163.4 158.4a1.20 1.20 0 1 0 2.40 0a1.20 1.20 0 1 0 -2.40 0M163.3 166.6a1.20 1.20 0 1 0 2.40 0a1.20 1.20 0 1 0 -2.40 0M163.2 175.5a1.20 1.20 0 1 0 2.40 0a1.20 1.20 0 1 0 -2.40 0M163.4 156.2a1.20 1.20 0 1 0 2.40 0a1.20 1.20 0 1 0 -2.40 0M163.3 170.7a1.20 1.20 0 1 0 2.40 0a1.20 1.20 0 1 0 -2.40 0M163.4 165.5a1.20 1.20 0 1 0 2.40 0a1.20 1.20 0 1 0 -2.40 0M163.2 169.0a1.20 1.20 0 1 0 2.40 0a1.20 1.20 0 1 0 -2.40 0M163.2 165.0a1.20 1.20 0 1 0 2.40 0a1.20 1.20 0 1 0 -2.40 0M163.3 173.9a1.20 1.20 0 1 0 2.40 0a1.20 1.20 0 1 0 -2.40 0M163.4 147.3a1.20 1.20 0 1 0 2.40 0a1.20 1.20 0 1 0 -2.40 0M163.5 168.7a1.20 1.20 0 1 0 2.40 0a1.20 1.20 0 1 0 -2.40 0M163.4 146.8a1.20 1.20 0 1 0 2.40 0a1.20 1.20 0 1 0 -2.40 0M163.4 158.9a1.20 1.20 0 1 0 2.40 0a1.20 1.20 0 1 0 -2.40 0M163.4 175.5a1.20 1.20 0 1 0 2.40 0a1.20 1.20 0 1 0 -2.40 0M163.5 148.8a1.20 1.20 0 1 0 2.40 0a1.20 1.20 0 1 0 -2.40 0M163.4 159.6a1.20 1.20 0 1 0 2.40 0a1.20 1.20 0 1 0 -2.40 0M163.4 157.7a1.20 1.20 0 1 0 2.40 0a1.20 1.20 0 1 0 -2.40 0M163.3 159.4a1.20 1.20 0 1 0 2.40 0a1.20 1.20 0 1 0 -2.40 0M163.2 156.0a1.20 1.20 0 1 0 2.40 0a1.20 1.20 0 1 0 -2.40 0M163.4 148.7a1.20 1.20 0 1 0 2.40 0a1.20 1.20 0 1 0 -2.40 0M220.9 184.9a1.20 1.20 0 1 0 2.40 0a1.20 1.20 0 1 0 -2.40 0M221.0 176.0a1.20 1.20 0 1 0 2.40 0a1.20 1.20 0 1 0 -2.40 0M220.9 162.7a1.20 1.20 0 1 0 2.40 0a1.20 1.20 0 1 0 -2.40 0M220.9 188.6a1.20 1.20 0 1 0 2.40 0a1.20 1.20 0 1 0 -2.40 0M221.0 187.6a1.20 1.20 0 1 0 2.40 0a1.20 1.20 0 1 0 -2.40 0M220.9 171.9a1.20 1.20 0 1 0 2.40 0a1.20 1.20 0 1 0 -2.40 0M221.0 185.0a1.20 1.20 0 1 0 2.40 0a1.20 1.20 0 1 0 -2.40 0M220.9 186.1a1.20 1.20 0 1 0 2.40 0a1.20 1.20 0 1 0 -2.40 0M221.0 160.0a1.20 1.20 0 1 0 2.40 0a1.20 1.20 0 1 0 -2.40 0M221.0 170.7a1.20 1.20 0 1 0 2.40 0a1.20 1.20 0 1 0 -2.40 0M221.0 187.8a1.20 1.20 0 1 0 2.40 0a1.20 1.20 0 1 0 -2.40 0M221.0 180.4a1.20 1.20 0 1 0 2.40 0a1.20 1.20 0 1 0 -2.40 0M221.0 183.1a1.20 1.20 0 1 0 2.40 0a1.20 1.20 0 1 0 -2.40 0M220.9 182.0a1.20 1.20 0 1 0 2.40 0a1.20 1.20 0 1 0 -2.40 0M220.9 177.2a1.20 1.20 0 1 0 2.40 0a1.20 1.20 0 1 0 -2.40 0M220.9 169.7a1.20 1.20 0 1 0 2.40 0a1.20 1.20 0 1 0 -2.40 0M220.9 169.8a1.20 1.20 0 1 0 2.40 0a1.20 1.20 0 1 0 -2.40 0M221.0 175.1a1.20 1.20 0 1 0 2.40 0a1.20 1.20 0 1 0 -2.40 0M221.0 176.8a1.20 1.20 0 1 0 2.40 0a1.20 1.20 0 1 0 -2.40 0M221.1 170.1a1.20 1.20 0 1 0 2.40 0a1.20 1.20 0 1 0 -2.40 0M221.0 173.9a1.20 1.20 0 1 0 2.40 0a1.20 1.20 0 1 0 -2.40 0M221.1 169.2a1.20 1.20 0 1 0 2.40 0a1.20 1.20 0 1 0 -2.40 0M221.1 166.2a1.20 1.20 0 1 0 2.40 0a1.20 1.20 0 1 0 -2.40 0M220.9 181.6a1.20 1.20 0 1 0 2.40 0a1.20 1.20 0 1 0 -2.40 0M221.0 167.0a1.20 1.20 0 1 0 2.40 0a1.20 1.20 0 1 0 -2.40 0M220.9 184.6a1.20 1.20 0 1 0 2.40 0a1.20 1.20 0 1 0 -2.40 0M221.0 181.2a1.20 1.20 0 1 0 2.40 0a1.20 1.20 0 1 0 -2.40 0M221.0 178.1a1.20 1.20 0 1 0 2.40 0a1.20 1.20 0 1 0 -2.40 0M221.0 189.2a1.20 1.20 0 1 0 2.40 0a1.20 1.20 0 1 0 -2.40 0M221.1 173.1a1.20 1.20 0 1 0 2.40 0a1.20 1.20 0 1 0 -2.40 0M221.0 166.2a1.20 1.20 0 1 0 2.40 0a1.20 1.20 0 1 0 -2.40 0M221.1 162.2a1.20 1.20 0 1 0 2.40 0a1.20 1.20 0 1 0 -2.40 0M50.4 32.8a1.20 1.20 0 1 0 2.40 0a1.20 1.20 0 1 0 -2.40 0M57.0 50.3a1.20 1.20 0 1 0 2.40 0a1.20 1.20 0 1 0 -2.40 0M54.4 45.3a1.20 1.20 0 1 0 2.40 0a1.20 1.20 0 1 0 -2.40 0M67.0 92.0a1.20 1.20 0 1 0 2.40 0a1.20 1.20 0 1 0 -2.40 0M70.3 92.0a1.20 1.20 0 1 0 2.40 0a1.20 1.20 0 1 0 -2.40 0M73.4 92.0a1.20 1.20 0 1 0 2.40 0a1.20 1.20 0 1 0 -2.40 0M76.8 92.0a1.20 1.20 0 1 0 2.40 0a1.20 1.20 0 1 0 -2.40 0M91.2 117.3a1.20 1.20 0 1 0 2.40 0a1.20 1.20 0 1 0 -2.40 0M112.3 130.0a1.20 1.20 0 1 0 2.40 0a1.20 1.20 0 1 0 -2.40 0M163.3 142.3a1.20 1.20 0 1 0 2.40 0a1.20 1.20 0 1 0 -2.40 0M221.0 154.5a1.20 1.20 0 1 0 2.40 0a1.20 1.20 0 1 0 -2.40 0M220.8 195.4a1.20 1.20 0 1 0 2.40 0a1.20 1.20 0 1 0 -2.40 0M49.3 177.5a1.20 1.20 0 1 0 2.40 0a1.20 1.20 0 1 0 -2.40 0M61.8 77.0a1.20 1.20 0 1 0 2.40 0a1.20 1.20 0 1 0 -2.40 0M62.3 80.0a1.20 1.20 0 1 0 2.40 0a1.20 1.20 0 1 0 -2.40 0M62.4 83.5a1.20 1.20 0 1 0 2.40 0a1.20 1.20 0 1 0 -2.40 0M112.6 180.0a1.20 1.20 0 1 0 2.40 0a1.20 1.20 0 1 0 -2.40 0M112.6 182.6a1.20 1.20 0 1 0 2.40 0a1.20 1.20 0 1 0 -2.40 0M112.6 185.2a1.20 1.20 0 1 0 2.40 0a1.20 1.20 0 1 0 -2.40 0M112.6 187.8a1.20 1.20 0 1 0 2.40 0a1.20 1.20 0 1 0 -2.40 0M112.6 190.7a1.20 1.20 0 1 0 2.40 0a1.20 1.20 0 1 0 -2.40 0M133.2 177.6a1.20 1.20 0 1 0 2.40 0a1.20 1.20 0 1 0 -2.40 0M135.7 177.6a1.20 1.20 0 1 0 2.40 0a1.20 1.20 0 1 0 -2.40 0M134.4 183.0a1.20 1.20 0 1 0 2.40 0a1.20 1.20 0 1 0 -2.40 0M134.4 185.3a1.20 1.20 0 1 0 2.40 0a1.20 1.20 0 1 0 -2.40 0M134.4 187.6a1.20 1.20 0 1 0 2.40 0a1.20 1.20 0 1 0 -2.40 0M134.4 189.9a1.20 1.20 0 1 0 2.40 0a1.20 1.20 0 1 0 -2.40 0M134.4 192.2a1.20 1.20 0 1 0 2.40 0a1.20 1.20 0 1 0 -2.40 0M134.4 194.3a1.20 1.20 0 1 0 2.40 0a1.20 1.20 0 1 0 -2.40 0M163.3 139.5a1.20 1.20 0 1 0 2.40 0a1.20 1.20 0 1 0 -2.40 0M163.3 178.5a1.20 1.20 0 1 0 2.40 0a1.20 1.20 0 1 0 -2.40 0M163.3 181.2a1.20 1.20 0 1 0 2.40 0a1.20 1.20 0 1 0 -2.40 0M163.3 183.8a1.20 1.20 0 1 0 2.40 0a1.20 1.20 0 1 0 -2.40 0M163.3 186.4a1.20 1.20 0 1 0 2.40 0a1.20 1.20 0 1 0 -2.40 0M163.3 189.0a1.20 1.20 0 1 0 2.40 0a1.20 1.20 0 1 0 -2.40 0M134.4 136.0a1.20 1.20 0 1 0 2.40 0a1.20 1.20 0 1 0 -2.40 0M134.4 138.5a1.20 1.20 0 1 0 2.40 0a1.20 1.20 0 1 0 -2.40 0M49.0 154.0a1.20 1.20 0 1 0 2.40 0a1.20 1.20 0 1 0 -2.40 0M49.0 156.5a1.20 1.20 0 1 0 2.40 0a1.20 1.20 0 1 0 -2.40 0M62.2 145.0a1.20 1.20 0 1 0 2.40 0a1.20 1.20 0 1 0 -2.40 0M62.5 148.0a1.20 1.20 0 1 0 2.40 0a1.20 1.20 0 1 0 -2.40 0M59.3 134.0a1.20 1.20 0 1 0 2.40 0a1.20 1.20 0 1 0 -2.40 0M57.3 128.0a1.20 1.20 0 1 0 2.40 0a1.20 1.20 0 1 0 -2.40 0M62.3 151.0a1.20 1.20 0 1 0 2.40 0a1.20 1.20 0 1 0 -2.40 0M65.6 154.6a1.20 1.20 0 1 0 2.40 0a1.20 1.20 0 1 0 -2.40 0M69.2 159.7a1.20 1.20 0 1 0 2.40 0a1.20 1.20 0 1 0 -2.40 0M73.2 163.4a1.20 1.20 0 1 0 2.40 0a1.20 1.20 0 1 0 -2.40 0M76.8 168.5a1.20 1.20 0 1 0 2.40 0a1.20 1.20 0 1 0 -2.40 0M54.0 126.6a1.20 1.20 0 1 0 2.40 0a1.20 1.20 0 1 0 -2.40 0M55.5 131.6a1.20 1.20 0 1 0 2.40 0a1.20 1.20 0 1 0 -2.40 0M59.0 140.2a1.20 1.20 0 1 0 2.40 0a1.20 1.20 0 1 0 -2.40 0" fill="none" stroke="#000" stroke-width="0.95"/>
<polyline points="50.4,90.0 52.0,64.0 56.0,75.0 63.0,95.0 71.0,112.0 79.0,127.0 92.3,136.6 113.7,152.0 135.6,160.0 164.8,164.6 222.0,174.4" fill="none" stroke="#000" stroke-width="1.60" stroke-linejoin="round"/>
<polyline points="50.4,45.0 52.0,41.0 56.0,52.0 60.0,66.0 63.6,88.0 67.2,97.0 70.8,101.0 74.4,106.0 78.0,110.0 83.6,115.0 92.4,121.3 102.8,128.0 113.6,132.5 135.6,141.5 164.5,141.5 222.0,154.5" fill="none" stroke="#000" stroke-width="1.50" stroke-dasharray="6.5,5" stroke-linejoin="round"/>
<polyline points="50.4,150.0 52.0,110.0 57.5,116.0 59.5,122.0 61.5,128.0 63.6,136.0 67.2,145.0 70.8,148.0 74.4,153.0 78.0,158.0 82.0,162.5 92.3,172.8 113.7,183.2 135.6,191.0 164.5,195.4 222.0,191.3" fill="none" stroke="#000" stroke-width="1.50" stroke-dasharray="6.5,5" stroke-linejoin="round"/>
<path d="M46.8 161.4L53.8 161.4M47.8 158.9L52.8 163.9M50.3 157.9L50.3 164.9M52.8 158.9L47.8 163.9" stroke="#f00000" stroke-width="1.15" fill="none"/><circle cx="50.3" cy="161.4" r="1.7" fill="#f00000"/>
<path d="M70.9 107.3L77.9 107.3M71.9 104.8L76.9 109.8M74.4 103.8L74.4 110.8M76.9 104.8L71.9 109.8" stroke="#f00000" stroke-width="1.15" fill="none"/><circle cx="74.4" cy="107.3" r="1.7" fill="#f00000"/>
<path d="M218.5 191.4L225.5 191.4M219.5 188.9L224.5 193.9M222.0 187.9L222.0 194.9M224.5 188.9L219.5 193.9" stroke="#f00000" stroke-width="1.15" fill="none"/><circle cx="222.0" cy="191.4" r="1.7" fill="#f00000"/>
</g>
<rect x="38.0" y="0.4" width="197.0" height="20.9" fill="#ffe5cc" stroke="#000" stroke-width="0.95"/>
<rect x="38.0" y="21.3" width="197.0" height="185.7" fill="none" stroke="#000" stroke-width="0.95"/>
<text x="136.5" y="15.2" font-size="11.5" text-anchor="middle">EM</text>
<line x1="49.2" x2="49.2" y1="207.0" y2="212.7" stroke="#000" stroke-width="0.95"/>
<text x="49.2" y="224.8" font-size="10" text-anchor="middle">0</text>
<line x1="85.2" x2="85.2" y1="207.0" y2="212.7" stroke="#000" stroke-width="0.95"/>
<text x="85.2" y="224.8" font-size="10" text-anchor="middle">5</text>
<line x1="121.3" x2="121.3" y1="207.0" y2="212.7" stroke="#000" stroke-width="0.95"/>
<text x="121.3" y="224.8" font-size="10" text-anchor="middle">10</text>
<line x1="157.3" x2="157.3" y1="207.0" y2="212.7" stroke="#000" stroke-width="0.95"/>
<text x="157.3" y="224.8" font-size="10" text-anchor="middle">15</text>
<line x1="193.4" x2="193.4" y1="207.0" y2="212.7" stroke="#000" stroke-width="0.95"/>
<text x="193.4" y="224.8" font-size="10" text-anchor="middle">20</text>
<line x1="229.4" x2="229.4" y1="207.0" y2="212.7" stroke="#000" stroke-width="0.95"/>
<text x="229.4" y="224.8" font-size="10" text-anchor="middle">25</text>
<line x1="32.3" x2="38.0" y1="35.3" y2="35.3" stroke="#000" stroke-width="0.95"/>
<text transform="translate(26.8,35.3) rotate(-90)" font-size="9.9" text-anchor="middle">−2</text>
<line x1="32.3" x2="38.0" y1="80.1" y2="80.1" stroke="#000" stroke-width="0.95"/>
<text transform="translate(26.8,80.1) rotate(-90)" font-size="9.9" text-anchor="middle">−4</text>
<line x1="32.3" x2="38.0" y1="124.8" y2="124.8" stroke="#000" stroke-width="0.95"/>
<text transform="translate(26.8,124.8) rotate(-90)" font-size="9.9" text-anchor="middle">−6</text>
<line x1="32.3" x2="38.0" y1="169.5" y2="169.5" stroke="#000" stroke-width="0.95"/>
<text transform="translate(26.8,169.5) rotate(-90)" font-size="9.9" text-anchor="middle">−8</text>
<defs><clipPath id="c1"><rect x="258.3" y="21.0" width="197.0" height="186.0"/></clipPath></defs>
<g clip-path="url(#c1)">
<polygon points="270.0,230.0 270.2,60.0 270.6,15.0 275.7,22.0 279.5,33.0 282.7,42.5 286.0,48.5 290.0,55.0 294.4,62.0 298.5,68.0 306.0,75.5 311.2,80.7 316.0,84.3 321.3,87.7 326.0,90.0 331.4,92.8 336.0,94.6 356.0,99.7 376.0,104.2 394.0,108.2 420.0,112.1 442.6,115.8 455.0,116.2 460.0,116.3 460.0,157.4 455.0,156.4 442.6,153.4 398.0,146.3 384.7,143.7 356.0,137.1 348.0,133.9 334.3,129.4 330.0,127.8 322.5,123.5 312.4,115.8 299.0,104.0 290.0,94.0 283.0,84.0 277.0,66.0 273.0,50.0 271.4,60.0 270.0,230.0" fill="#cdeeae"/>
<polygon points="270.0,230.0 270.0,120.0 270.5,80.0 274.0,75.0 278.0,88.0 283.0,100.0 290.0,112.0 300.2,128.0 306.0,137.3 312.3,143.3 334.3,154.9 356.0,163.0 384.7,169.3 398.0,172.2 420.0,175.8 442.6,178.5 455.0,179.5 460.0,179.9 460.0,225.0 370.0,212.0 358.0,207.0 350.0,203.0 338.5,197.0 329.0,191.0 320.2,184.1 313.0,178.5 306.0,172.0 300.0,166.0 294.4,160.0 291.4,154.0 288.5,148.0 284.0,139.0 279.5,129.5 276.2,118.0 272.8,133.0 271.8,150.0 271.6,230.0" fill="#cdeeae"/>
<polygon points="271.5,95.0 272.0,60.0 273.0,50.0 277.0,66.0 283.0,84.0 290.0,94.0 299.0,104.0 312.4,117.1 322.5,124.8 330.0,129.1 334.3,130.7 348.0,135.2 356.0,138.4 384.7,145.0 398.0,147.6 442.6,154.7 455.0,157.7 460.0,158.7 460.0,177.6 455.0,177.2 442.6,176.2 420.0,173.0 398.0,169.0 384.7,166.3 356.0,160.5 334.3,152.5 312.3,141.0 306.0,135.0 300.2,127.5 290.0,112.0 283.0,100.0 278.0,88.0 274.0,75.0 272.2,85.0 271.5,95.0" fill="#fdd8c2"/>
<line x1="442.6" x2="442.6" y1="154.2" y2="156.8" stroke="#000" stroke-width="2.8" stroke-linecap="round"/>
<path d="M270.6 40.4a1.20 1.20 0 1 0 2.40 0a1.20 1.20 0 1 0 -2.40 0M269.3 85.9a1.20 1.20 0 1 0 2.40 0a1.20 1.20 0 1 0 -2.40 0M269.6 39.4a1.20 1.20 0 1 0 2.40 0a1.20 1.20 0 1 0 -2.40 0M270.2 51.3a1.20 1.20 0 1 0 2.40 0a1.20 1.20 0 1 0 -2.40 0M270.5 45.3a1.20 1.20 0 1 0 2.40 0a1.20 1.20 0 1 0 -2.40 0M270.6 49.9a1.20 1.20 0 1 0 2.40 0a1.20 1.20 0 1 0 -2.40 0M270.1 82.4a1.20 1.20 0 1 0 2.40 0a1.20 1.20 0 1 0 -2.40 0M270.3 82.0a1.20 1.20 0 1 0 2.40 0a1.20 1.20 0 1 0 -2.40 0M270.3 35.6a1.20 1.20 0 1 0 2.40 0a1.20 1.20 0 1 0 -2.40 0M270.5 64.2a1.20 1.20 0 1 0 2.40 0a1.20 1.20 0 1 0 -2.40 0M269.7 43.1a1.20 1.20 0 1 0 2.40 0a1.20 1.20 0 1 0 -2.40 0M270.5 63.9a1.20 1.20 0 1 0 2.40 0a1.20 1.20 0 1 0 -2.40 0M270.6 74.0a1.20 1.20 0 1 0 2.40 0a1.20 1.20 0 1 0 -2.40 0M270.6 63.0a1.20 1.20 0 1 0 2.40 0a1.20 1.20 0 1 0 -2.40 0M270.3 65.5a1.20 1.20 0 1 0 2.40 0a1.20 1.20 0 1 0 -2.40 0M269.7 83.7a1.20 1.20 0 1 0 2.40 0a1.20 1.20 0 1 0 -2.40 0M269.7 74.4a1.20 1.20 0 1 0 2.40 0a1.20 1.20 0 1 0 -2.40 0M270.6 67.5a1.20 1.20 0 1 0 2.40 0a1.20 1.20 0 1 0 -2.40 0M269.5 76.7a1.20 1.20 0 1 0 2.40 0a1.20 1.20 0 1 0 -2.40 0M270.2 42.8a1.20 1.20 0 1 0 2.40 0a1.20 1.20 0 1 0 -2.40 0M269.4 61.2a1.20 1.20 0 1 0 2.40 0a1.20 1.20 0 1 0 -2.40 0M269.3 82.0a1.20 1.20 0 1 0 2.40 0a1.20 1.20 0 1 0 -2.40 0M270.0 60.4a1.20 1.20 0 1 0 2.40 0a1.20 1.20 0 1 0 -2.40 0M269.9 68.0a1.20 1.20 0 1 0 2.40 0a1.20 1.20 0 1 0 -2.40 0M270.6 49.3a1.20 1.20 0 1 0 2.40 0a1.20 1.20 0 1 0 -2.40 0M269.8 63.9a1.20 1.20 0 1 0 2.40 0a1.20 1.20 0 1 0 -2.40 0M269.7 64.6a1.20 1.20 0 1 0 2.40 0a1.20 1.20 0 1 0 -2.40 0M270.1 56.0a1.20 1.20 0 1 0 2.40 0a1.20 1.20 0 1 0 -2.40 0M270.2 61.0a1.20 1.20 0 1 0 2.40 0a1.20 1.20 0 1 0 -2.40 0M269.4 85.8a1.20 1.20 0 1 0 2.40 0a1.20 1.20 0 1 0 -2.40 0M269.8 55.9a1.20 1.20 0 1 0 2.40 0a1.20 1.20 0 1 0 -2.40 0M269.9 82.3a1.20 1.20 0 1 0 2.40 0a1.20 1.20 0 1 0 -2.40 0M270.6 60.1a1.20 1.20 0 1 0 2.40 0a1.20 1.20 0 1 0 -2.40 0M269.9 38.1a1.20 1.20 0 1 0 2.40 0a1.20 1.20 0 1 0 -2.40 0M270.6 42.1a1.20 1.20 0 1 0 2.40 0a1.20 1.20 0 1 0 -2.40 0M270.1 51.5a1.20 1.20 0 1 0 2.40 0a1.20 1.20 0 1 0 -2.40 0M269.8 51.9a1.20 1.20 0 1 0 2.40 0a1.20 1.20 0 1 0 -2.40 0M269.6 35.0a1.20 1.20 0 1 0 2.40 0a1.20 1.20 0 1 0 -2.40 0M270.1 75.2a1.20 1.20 0 1 0 2.40 0a1.20 1.20 0 1 0 -2.40 0M270.2 43.7a1.20 1.20 0 1 0 2.40 0a1.20 1.20 0 1 0 -2.40 0M270.3 86.2a1.20 1.20 0 1 0 2.40 0a1.20 1.20 0 1 0 -2.40 0M271.7 78.4a1.20 1.20 0 1 0 2.40 0a1.20 1.20 0 1 0 -2.40 0M272.4 57.8a1.20 1.20 0 1 0 2.40 0a1.20 1.20 0 1 0 -2.40 0M272.3 59.9a1.20 1.20 0 1 0 2.40 0a1.20 1.20 0 1 0 -2.40 0M271.8 64.7a1.20 1.20 0 1 0 2.40 0a1.20 1.20 0 1 0 -2.40 0M272.5 73.6a1.20 1.20 0 1 0 2.40 0a1.20 1.20 0 1 0 -2.40 0M271.8 72.7a1.20 1.20 0 1 0 2.40 0a1.20 1.20 0 1 0 -2.40 0M272.0 51.8a1.20 1.20 0 1 0 2.40 0a1.20 1.20 0 1 0 -2.40 0M272.2 77.9a1.20 1.20 0 1 0 2.40 0a1.20 1.20 0 1 0 -2.40 0M272.0 84.8a1.20 1.20 0 1 0 2.40 0a1.20 1.20 0 1 0 -2.40 0M271.1 60.0a1.20 1.20 0 1 0 2.40 0a1.20 1.20 0 1 0 -2.40 0M272.0 51.1a1.20 1.20 0 1 0 2.40 0a1.20 1.20 0 1 0 -2.40 0M271.3 70.8a1.20 1.20 0 1 0 2.40 0a1.20 1.20 0 1 0 -2.40 0M271.7 47.1a1.20 1.20 0 1 0 2.40 0a1.20 1.20 0 1 0 -2.40 0M271.2 86.2a1.20 1.20 0 1 0 2.40 0a1.20 1.20 0 1 0 -2.40 0M271.6 38.6a1.20 1.20 0 1 0 2.40 0a1.20 1.20 0 1 0 -2.40 0M271.4 46.3a1.20 1.20 0 1 0 2.40 0a1.20 1.20 0 1 0 -2.40 0M272.3 42.1a1.20 1.20 0 1 0 2.40 0a1.20 1.20 0 1 0 -2.40 0M271.5 37.5a1.20 1.20 0 1 0 2.40 0a1.20 1.20 0 1 0 -2.40 0M271.8 43.6a1.20 1.20 0 1 0 2.40 0a1.20 1.20 0 1 0 -2.40 0M271.6 73.2a1.20 1.20 0 1 0 2.40 0a1.20 1.20 0 1 0 -2.40 0M272.4 78.7a1.20 1.20 0 1 0 2.40 0a1.20 1.20 0 1 0 -2.40 0M271.2 53.2a1.20 1.20 0 1 0 2.40 0a1.20 1.20 0 1 0 -2.40 0M272.3 33.8a1.20 1.20 0 1 0 2.40 0a1.20 1.20 0 1 0 -2.40 0M271.4 59.4a1.20 1.20 0 1 0 2.40 0a1.20 1.20 0 1 0 -2.40 0M271.6 74.0a1.20 1.20 0 1 0 2.40 0a1.20 1.20 0 1 0 -2.40 0M272.1 58.0a1.20 1.20 0 1 0 2.40 0a1.20 1.20 0 1 0 -2.40 0M271.5 44.9a1.20 1.20 0 1 0 2.40 0a1.20 1.20 0 1 0 -2.40 0M271.5 35.7a1.20 1.20 0 1 0 2.40 0a1.20 1.20 0 1 0 -2.40 0M272.0 40.8a1.20 1.20 0 1 0 2.40 0a1.20 1.20 0 1 0 -2.40 0M272.3 68.2a1.20 1.20 0 1 0 2.40 0a1.20 1.20 0 1 0 -2.40 0M271.2 59.9a1.20 1.20 0 1 0 2.40 0a1.20 1.20 0 1 0 -2.40 0M271.9 34.4a1.20 1.20 0 1 0 2.40 0a1.20 1.20 0 1 0 -2.40 0M271.8 33.7a1.20 1.20 0 1 0 2.40 0a1.20 1.20 0 1 0 -2.40 0M272.2 32.2a1.20 1.20 0 1 0 2.40 0a1.20 1.20 0 1 0 -2.40 0M272.0 87.2a1.20 1.20 0 1 0 2.40 0a1.20 1.20 0 1 0 -2.40 0M272.3 45.1a1.20 1.20 0 1 0 2.40 0a1.20 1.20 0 1 0 -2.40 0M271.9 39.8a1.20 1.20 0 1 0 2.40 0a1.20 1.20 0 1 0 -2.40 0M271.6 80.4a1.20 1.20 0 1 0 2.40 0a1.20 1.20 0 1 0 -2.40 0M272.2 32.5a1.20 1.20 0 1 0 2.40 0a1.20 1.20 0 1 0 -2.40 0M271.6 67.9a1.20 1.20 0 1 0 2.40 0a1.20 1.20 0 1 0 -2.40 0M271.3 76.9a1.20 1.20 0 1 0 2.40 0a1.20 1.20 0 1 0 -2.40 0M272.4 62.9a1.20 1.20 0 1 0 2.40 0a1.20 1.20 0 1 0 -2.40 0M271.6 79.5a1.20 1.20 0 1 0 2.40 0a1.20 1.20 0 1 0 -2.40 0M271.8 42.5a1.20 1.20 0 1 0 2.40 0a1.20 1.20 0 1 0 -2.40 0M271.5 88.6a1.20 1.20 0 1 0 2.40 0a1.20 1.20 0 1 0 -2.40 0M274.1 65.0a1.20 1.20 0 1 0 2.40 0a1.20 1.20 0 1 0 -2.40 0M273.9 80.1a1.20 1.20 0 1 0 2.40 0a1.20 1.20 0 1 0 -2.40 0M274.3 49.3a1.20 1.20 0 1 0 2.40 0a1.20 1.20 0 1 0 -2.40 0M273.5 82.8a1.20 1.20 0 1 0 2.40 0a1.20 1.20 0 1 0 -2.40 0M274.0 59.0a1.20 1.20 0 1 0 2.40 0a1.20 1.20 0 1 0 -2.40 0M273.8 49.6a1.20 1.20 0 1 0 2.40 0a1.20 1.20 0 1 0 -2.40 0M273.1 42.5a1.20 1.20 0 1 0 2.40 0a1.20 1.20 0 1 0 -2.40 0M273.4 51.6a1.20 1.20 0 1 0 2.40 0a1.20 1.20 0 1 0 -2.40 0M273.6 87.5a1.20 1.20 0 1 0 2.40 0a1.20 1.20 0 1 0 -2.40 0M273.1 67.3a1.20 1.20 0 1 0 2.40 0a1.20 1.20 0 1 0 -2.40 0M274.1 69.3a1.20 1.20 0 1 0 2.40 0a1.20 1.20 0 1 0 -2.40 0M273.6 77.6a1.20 1.20 0 1 0 2.40 0a1.20 1.20 0 1 0 -2.40 0M272.9 86.5a1.20 1.20 0 1 0 2.40 0a1.20 1.20 0 1 0 -2.40 0M273.9 79.5a1.20 1.20 0 1 0 2.40 0a1.20 1.20 0 1 0 -2.40 0M274.1 44.8a1.20 1.20 0 1 0 2.40 0a1.20 1.20 0 1 0 -2.40 0M273.0 48.7a1.20 1.20 0 1 0 2.40 0a1.20 1.20 0 1 0 -2.40 0M273.6 86.0a1.20 1.20 0 1 0 2.40 0a1.20 1.20 0 1 0 -2.40 0M274.2 60.2a1.20 1.20 0 1 0 2.40 0a1.20 1.20 0 1 0 -2.40 0M273.8 76.3a1.20 1.20 0 1 0 2.40 0a1.20 1.20 0 1 0 -2.40 0M273.4 87.6a1.20 1.20 0 1 0 2.40 0a1.20 1.20 0 1 0 -2.40 0M274.2 75.6a1.20 1.20 0 1 0 2.40 0a1.20 1.20 0 1 0 -2.40 0M274.2 79.2a1.20 1.20 0 1 0 2.40 0a1.20 1.20 0 1 0 -2.40 0M273.8 55.7a1.20 1.20 0 1 0 2.40 0a1.20 1.20 0 1 0 -2.40 0M273.3 51.7a1.20 1.20 0 1 0 2.40 0a1.20 1.20 0 1 0 -2.40 0M273.0 85.4a1.20 1.20 0 1 0 2.40 0a1.20 1.20 0 1 0 -2.40 0M273.3 41.2a1.20 1.20 0 1 0 2.40 0a1.20 1.20 0 1 0 -2.40 0M273.3 45.1a1.20 1.20 0 1 0 2.40 0a1.20 1.20 0 1 0 -2.40 0M273.5 56.3a1.20 1.20 0 1 0 2.40 0a1.20 1.20 0 1 0 -2.40 0M273.2 63.4a1.20 1.20 0 1 0 2.40 0a1.20 1.20 0 1 0 -2.40 0M273.5 57.3a1.20 1.20 0 1 0 2.40 0a1.20 1.20 0 1 0 -2.40 0M274.0 55.0a1.20 1.20 0 1 0 2.40 0a1.20 1.20 0 1 0 -2.40 0M273.7 83.0a1.20 1.20 0 1 0 2.40 0a1.20 1.20 0 1 0 -2.40 0M274.2 58.4a1.20 1.20 0 1 0 2.40 0a1.20 1.20 0 1 0 -2.40 0M273.0 86.6a1.20 1.20 0 1 0 2.40 0a1.20 1.20 0 1 0 -2.40 0M273.6 50.7a1.20 1.20 0 1 0 2.40 0a1.20 1.20 0 1 0 -2.40 0M273.1 51.7a1.20 1.20 0 1 0 2.40 0a1.20 1.20 0 1 0 -2.40 0M273.3 46.8a1.20 1.20 0 1 0 2.40 0a1.20 1.20 0 1 0 -2.40 0M273.0 96.0a1.20 1.20 0 1 0 2.40 0a1.20 1.20 0 1 0 -2.40 0M275.9 51.9a1.20 1.20 0 1 0 2.40 0a1.20 1.20 0 1 0 -2.40 0M275.4 81.5a1.20 1.20 0 1 0 2.40 0a1.20 1.20 0 1 0 -2.40 0M275.4 50.0a1.20 1.20 0 1 0 2.40 0a1.20 1.20 0 1 0 -2.40 0M275.2 63.4a1.20 1.20 0 1 0 2.40 0a1.20 1.20 0 1 0 -2.40 0M276.0 72.1a1.20 1.20 0 1 0 2.40 0a1.20 1.20 0 1 0 -2.40 0M275.4 74.1a1.20 1.20 0 1 0 2.40 0a1.20 1.20 0 1 0 -2.40 0M274.8 76.5a1.20 1.20 0 1 0 2.40 0a1.20 1.20 0 1 0 -2.40 0M275.8 75.8a1.20 1.20 0 1 0 2.40 0a1.20 1.20 0 1 0 -2.40 0M275.2 59.3a1.20 1.20 0 1 0 2.40 0a1.20 1.20 0 1 0 -2.40 0M274.7 50.5a1.20 1.20 0 1 0 2.40 0a1.20 1.20 0 1 0 -2.40 0M274.9 66.5a1.20 1.20 0 1 0 2.40 0a1.20 1.20 0 1 0 -2.40 0M275.8 56.3a1.20 1.20 0 1 0 2.40 0a1.20 1.20 0 1 0 -2.40 0M275.4 74.3a1.20 1.20 0 1 0 2.40 0a1.20 1.20 0 1 0 -2.40 0M275.6 47.9a1.20 1.20 0 1 0 2.40 0a1.20 1.20 0 1 0 -2.40 0M276.0 72.2a1.20 1.20 0 1 0 2.40 0a1.20 1.20 0 1 0 -2.40 0M275.1 57.3a1.20 1.20 0 1 0 2.40 0a1.20 1.20 0 1 0 -2.40 0M275.7 87.1a1.20 1.20 0 1 0 2.40 0a1.20 1.20 0 1 0 -2.40 0M275.2 64.1a1.20 1.20 0 1 0 2.40 0a1.20 1.20 0 1 0 -2.40 0M275.5 54.5a1.20 1.20 0 1 0 2.40 0a1.20 1.20 0 1 0 -2.40 0M275.3 86.5a1.20 1.20 0 1 0 2.40 0a1.20 1.20 0 1 0 -2.40 0M275.5 82.4a1.20 1.20 0 1 0 2.40 0a1.20 1.20 0 1 0 -2.40 0M275.1 84.4a1.20 1.20 0 1 0 2.40 0a1.20 1.20 0 1 0 -2.40 0M275.8 56.7a1.20 1.20 0 1 0 2.40 0a1.20 1.20 0 1 0 -2.40 0M275.4 76.3a1.20 1.20 0 1 0 2.40 0a1.20 1.20 0 1 0 -2.40 0M275.5 72.9a1.20 1.20 0 1 0 2.40 0a1.20 1.20 0 1 0 -2.40 0M275.0 70.8a1.20 1.20 0 1 0 2.40 0a1.20 1.20 0 1 0 -2.40 0M275.2 81.3a1.20 1.20 0 1 0 2.40 0a1.20 1.20 0 1 0 -2.40 0M275.2 89.1a1.20 1.20 0 1 0 2.40 0a1.20 1.20 0 1 0 -2.40 0M275.5 56.8a1.20 1.20 0 1 0 2.40 0a1.20 1.20 0 1 0 -2.40 0M275.3 52.5a1.20 1.20 0 1 0 2.40 0a1.20 1.20 0 1 0 -2.40 0M275.7 49.0a1.20 1.20 0 1 0 2.40 0a1.20 1.20 0 1 0 -2.40 0M275.6 60.2a1.20 1.20 0 1 0 2.40 0a1.20 1.20 0 1 0 -2.40 0M275.8 52.5a1.20 1.20 0 1 0 2.40 0a1.20 1.20 0 1 0 -2.40 0M275.7 98.6a1.20 1.20 0 1 0 2.40 0a1.20 1.20 0 1 0 -2.40 0M275.0 91.6a1.20 1.20 0 1 0 2.40 0a1.20 1.20 0 1 0 -2.40 0M275.2 97.8a1.20 1.20 0 1 0 2.40 0a1.20 1.20 0 1 0 -2.40 0M276.9 55.3a1.20 1.20 0 1 0 2.40 0a1.20 1.20 0 1 0 -2.40 0M277.1 84.1a1.20 1.20 0 1 0 2.40 0a1.20 1.20 0 1 0 -2.40 0M276.7 88.9a1.20 1.20 0 1 0 2.40 0a1.20 1.20 0 1 0 -2.40 0M277.2 60.8a1.20 1.20 0 1 0 2.40 0a1.20 1.20 0 1 0 -2.40 0M276.7 68.3a1.20 1.20 0 1 0 2.40 0a1.20 1.20 0 1 0 -2.40 0M277.2 61.3a1.20 1.20 0 1 0 2.40 0a1.20 1.20 0 1 0 -2.40 0M276.6 73.0a1.20 1.20 0 1 0 2.40 0a1.20 1.20 0 1 0 -2.40 0M276.9 71.0a1.20 1.20 0 1 0 2.40 0a1.20 1.20 0 1 0 -2.40 0M277.1 80.1a1.20 1.20 0 1 0 2.40 0a1.20 1.20 0 1 0 -2.40 0M277.3 63.2a1.20 1.20 0 1 0 2.40 0a1.20 1.20 0 1 0 -2.40 0M276.8 85.9a1.20 1.20 0 1 0 2.40 0a1.20 1.20 0 1 0 -2.40 0M276.6 59.4a1.20 1.20 0 1 0 2.40 0a1.20 1.20 0 1 0 -2.40 0M276.6 84.7a1.20 1.20 0 1 0 2.40 0a1.20 1.20 0 1 0 -2.40 0M277.3 88.3a1.20 1.20 0 1 0 2.40 0a1.20 1.20 0 1 0 -2.40 0M277.4 67.1a1.20 1.20 0 1 0 2.40 0a1.20 1.20 0 1 0 -2.40 0M277.1 81.4a1.20 1.20 0 1 0 2.40 0a1.20 1.20 0 1 0 -2.40 0M276.8 83.9a1.20 1.20 0 1 0 2.40 0a1.20 1.20 0 1 0 -2.40 0M277.1 56.5a1.20 1.20 0 1 0 2.40 0a1.20 1.20 0 1 0 -2.40 0M277.0 75.2a1.20 1.20 0 1 0 2.40 0a1.20 1.20 0 1 0 -2.40 0M276.7 87.6a1.20 1.20 0 1 0 2.40 0a1.20 1.20 0 1 0 -2.40 0M277.8 98.7a1.20 1.20 0 1 0 2.40 0a1.20 1.20 0 1 0 -2.40 0M277.8 101.3a1.20 1.20 0 1 0 2.40 0a1.20 1.20 0 1 0 -2.40 0M279.1 65.1a1.20 1.20 0 1 0 2.40 0a1.20 1.20 0 1 0 -2.40 0M279.6 89.4a1.20 1.20 0 1 0 2.40 0a1.20 1.20 0 1 0 -2.40 0M278.9 72.3a1.20 1.20 0 1 0 2.40 0a1.20 1.20 0 1 0 -2.40 0M278.4 79.8a1.20 1.20 0 1 0 2.40 0a1.20 1.20 0 1 0 -2.40 0M279.5 72.4a1.20 1.20 0 1 0 2.40 0a1.20 1.20 0 1 0 -2.40 0M278.7 79.6a1.20 1.20 0 1 0 2.40 0a1.20 1.20 0 1 0 -2.40 0M279.4 65.4a1.20 1.20 0 1 0 2.40 0a1.20 1.20 0 1 0 -2.40 0M278.7 80.6a1.20 1.20 0 1 0 2.40 0a1.20 1.20 0 1 0 -2.40 0M278.4 86.1a1.20 1.20 0 1 0 2.40 0a1.20 1.20 0 1 0 -2.40 0M278.8 86.6a1.20 1.20 0 1 0 2.40 0a1.20 1.20 0 1 0 -2.40 0M278.9 65.3a1.20 1.20 0 1 0 2.40 0a1.20 1.20 0 1 0 -2.40 0M278.3 63.6a1.20 1.20 0 1 0 2.40 0a1.20 1.20 0 1 0 -2.40 0M278.7 84.2a1.20 1.20 0 1 0 2.40 0a1.20 1.20 0 1 0 -2.40 0M279.4 80.2a1.20 1.20 0 1 0 2.40 0a1.20 1.20 0 1 0 -2.40 0M278.7 81.2a1.20 1.20 0 1 0 2.40 0a1.20 1.20 0 1 0 -2.40 0M279.3 71.8a1.20 1.20 0 1 0 2.40 0a1.20 1.20 0 1 0 -2.40 0M278.4 75.0a1.20 1.20 0 1 0 2.40 0a1.20 1.20 0 1 0 -2.40 0M278.6 66.0a1.20 1.20 0 1 0 2.40 0a1.20 1.20 0 1 0 -2.40 0M278.9 62.4a1.20 1.20 0 1 0 2.40 0a1.20 1.20 0 1 0 -2.40 0M279.6 69.0a1.20 1.20 0 1 0 2.40 0a1.20 1.20 0 1 0 -2.40 0M279.6 83.6a1.20 1.20 0 1 0 2.40 0a1.20 1.20 0 1 0 -2.40 0M278.3 88.8a1.20 1.20 0 1 0 2.40 0a1.20 1.20 0 1 0 -2.40 0M279.4 76.8a1.20 1.20 0 1 0 2.40 0a1.20 1.20 0 1 0 -2.40 0M279.5 75.3a1.20 1.20 0 1 0 2.40 0a1.20 1.20 0 1 0 -2.40 0M278.3 64.8a1.20 1.20 0 1 0 2.40 0a1.20 1.20 0 1 0 -2.40 0M278.7 109.2a1.20 1.20 0 1 0 2.40 0a1.20 1.20 0 1 0 -2.40 0M279.5 94.4a1.20 1.20 0 1 0 2.40 0a1.20 1.20 0 1 0 -2.40 0M278.8 94.2a1.20 1.20 0 1 0 2.40 0a1.20 1.20 0 1 0 -2.40 0M278.6 99.0a1.20 1.20 0 1 0 2.40 0a1.20 1.20 0 1 0 -2.40 0M282.5 74.5a1.20 1.20 0 1 0 2.40 0a1.20 1.20 0 1 0 -2.40 0M282.8 77.3a1.20 1.20 0 1 0 2.40 0a1.20 1.20 0 1 0 -2.40 0M283.2 84.4a1.20 1.20 0 1 0 2.40 0a1.20 1.20 0 1 0 -2.40 0M282.5 93.0a1.20 1.20 0 1 0 2.40 0a1.20 1.20 0 1 0 -2.40 0M282.4 77.7a1.20 1.20 0 1 0 2.40 0a1.20 1.20 0 1 0 -2.40 0M282.1 78.8a1.20 1.20 0 1 0 2.40 0a1.20 1.20 0 1 0 -2.40 0M282.2 92.1a1.20 1.20 0 1 0 2.40 0a1.20 1.20 0 1 0 -2.40 0M282.4 91.2a1.20 1.20 0 1 0 2.40 0a1.20 1.20 0 1 0 -2.40 0M282.3 72.1a1.20 1.20 0 1 0 2.40 0a1.20 1.20 0 1 0 -2.40 0M282.3 81.8a1.20 1.20 0 1 0 2.40 0a1.20 1.20 0 1 0 -2.40 0M283.2 76.0a1.20 1.20 0 1 0 2.40 0a1.20 1.20 0 1 0 -2.40 0M282.2 74.7a1.20 1.20 0 1 0 2.40 0a1.20 1.20 0 1 0 -2.40 0M282.3 98.8a1.20 1.20 0 1 0 2.40 0a1.20 1.20 0 1 0 -2.40 0M283.2 76.8a1.20 1.20 0 1 0 2.40 0a1.20 1.20 0 1 0 -2.40 0M282.0 84.6a1.20 1.20 0 1 0 2.40 0a1.20 1.20 0 1 0 -2.40 0M282.7 73.3a1.20 1.20 0 1 0 2.40 0a1.20 1.20 0 1 0 -2.40 0M282.5 93.1a1.20 1.20 0 1 0 2.40 0a1.20 1.20 0 1 0 -2.40 0M281.9 91.6a1.20 1.20 0 1 0 2.40 0a1.20 1.20 0 1 0 -2.40 0M282.9 93.6a1.20 1.20 0 1 0 2.40 0a1.20 1.20 0 1 0 -2.40 0M282.6 83.9a1.20 1.20 0 1 0 2.40 0a1.20 1.20 0 1 0 -2.40 0M282.6 74.1a1.20 1.20 0 1 0 2.40 0a1.20 1.20 0 1 0 -2.40 0M282.6 77.2a1.20 1.20 0 1 0 2.40 0a1.20 1.20 0 1 0 -2.40 0M282.4 101.0a1.20 1.20 0 1 0 2.40 0a1.20 1.20 0 1 0 -2.40 0M282.1 101.2a1.20 1.20 0 1 0 2.40 0a1.20 1.20 0 1 0 -2.40 0M282.7 105.2a1.20 1.20 0 1 0 2.40 0a1.20 1.20 0 1 0 -2.40 0M282.7 111.1a1.20 1.20 0 1 0 2.40 0a1.20 1.20 0 1 0 -2.40 0M282.2 102.8a1.20 1.20 0 1 0 2.40 0a1.20 1.20 0 1 0 -2.40 0M282.8 114.9a1.20 1.20 0 1 0 2.40 0a1.20 1.20 0 1 0 -2.40 0M286.3 98.2a1.20 1.20 0 1 0 2.40 0a1.20 1.20 0 1 0 -2.40 0M286.3 88.5a1.20 1.20 0 1 0 2.40 0a1.20 1.20 0 1 0 -2.40 0M286.1 104.0a1.20 1.20 0 1 0 2.40 0a1.20 1.20 0 1 0 -2.40 0M286.2 90.1a1.20 1.20 0 1 0 2.40 0a1.20 1.20 0 1 0 -2.40 0M286.2 104.7a1.20 1.20 0 1 0 2.40 0a1.20 1.20 0 1 0 -2.40 0M286.1 90.2a1.20 1.20 0 1 0 2.40 0a1.20 1.20 0 1 0 -2.40 0M286.2 105.4a1.20 1.20 0 1 0 2.40 0a1.20 1.20 0 1 0 -2.40 0M286.2 93.0a1.20 1.20 0 1 0 2.40 0a1.20 1.20 0 1 0 -2.40 0M286.3 89.9a1.20 1.20 0 1 0 2.40 0a1.20 1.20 0 1 0 -2.40 0M286.1 100.0a1.20 1.20 0 1 0 2.40 0a1.20 1.20 0 1 0 -2.40 0M286.4 105.2a1.20 1.20 0 1 0 2.40 0a1.20 1.20 0 1 0 -2.40 0M286.2 93.3a1.20 1.20 0 1 0 2.40 0a1.20 1.20 0 1 0 -2.40 0M286.2 90.4a1.20 1.20 0 1 0 2.40 0a1.20 1.20 0 1 0 -2.40 0M286.1 123.3a1.20 1.20 0 1 0 2.40 0a1.20 1.20 0 1 0 -2.40 0M286.4 113.4a1.20 1.20 0 1 0 2.40 0a1.20 1.20 0 1 0 -2.40 0M286.0 122.8a1.20 1.20 0 1 0 2.40 0a1.20 1.20 0 1 0 -2.40 0M286.4 123.9a1.20 1.20 0 1 0 2.40 0a1.20 1.20 0 1 0 -2.40 0M286.2 122.9a1.20 1.20 0 1 0 2.40 0a1.20 1.20 0 1 0 -2.40 0M289.9 118.3a1.20 1.20 0 1 0 2.40 0a1.20 1.20 0 1 0 -2.40 0M289.8 126.0a1.20 1.20 0 1 0 2.40 0a1.20 1.20 0 1 0 -2.40 0M289.9 103.1a1.20 1.20 0 1 0 2.40 0a1.20 1.20 0 1 0 -2.40 0M289.8 98.7a1.20 1.20 0 1 0 2.40 0a1.20 1.20 0 1 0 -2.40 0M289.8 120.5a1.20 1.20 0 1 0 2.40 0a1.20 1.20 0 1 0 -2.40 0M289.8 111.7a1.20 1.20 0 1 0 2.40 0a1.20 1.20 0 1 0 -2.40 0M289.9 98.6a1.20 1.20 0 1 0 2.40 0a1.20 1.20 0 1 0 -2.40 0M289.8 110.5a1.20 1.20 0 1 0 2.40 0a1.20 1.20 0 1 0 -2.40 0M289.8 116.5a1.20 1.20 0 1 0 2.40 0a1.20 1.20 0 1 0 -2.40 0M290.0 120.0a1.20 1.20 0 1 0 2.40 0a1.20 1.20 0 1 0 -2.40 0M289.8 116.5a1.20 1.20 0 1 0 2.40 0a1.20 1.20 0 1 0 -2.40 0M289.8 125.6a1.20 1.20 0 1 0 2.40 0a1.20 1.20 0 1 0 -2.40 0M289.9 113.8a1.20 1.20 0 1 0 2.40 0a1.20 1.20 0 1 0 -2.40 0M289.8 108.6a1.20 1.20 0 1 0 2.40 0a1.20 1.20 0 1 0 -2.40 0M289.9 107.2a1.20 1.20 0 1 0 2.40 0a1.20 1.20 0 1 0 -2.40 0M290.0 117.8a1.20 1.20 0 1 0 2.40 0a1.20 1.20 0 1 0 -2.40 0M290.0 117.2a1.20 1.20 0 1 0 2.40 0a1.20 1.20 0 1 0 -2.40 0M289.9 107.0a1.20 1.20 0 1 0 2.40 0a1.20 1.20 0 1 0 -2.40 0M289.6 115.8a1.20 1.20 0 1 0 2.40 0a1.20 1.20 0 1 0 -2.40 0M289.9 117.7a1.20 1.20 0 1 0 2.40 0a1.20 1.20 0 1 0 -2.40 0M289.9 97.1a1.20 1.20 0 1 0 2.40 0a1.20 1.20 0 1 0 -2.40 0M289.9 126.8a1.20 1.20 0 1 0 2.40 0a1.20 1.20 0 1 0 -2.40 0M293.4 124.3a1.20 1.20 0 1 0 2.40 0a1.20 1.20 0 1 0 -2.40 0M293.4 113.1a1.20 1.20 0 1 0 2.40 0a1.20 1.20 0 1 0 -2.40 0M293.2 105.1a1.20 1.20 0 1 0 2.40 0a1.20 1.20 0 1 0 -2.40 0M293.3 106.0a1.20 1.20 0 1 0 2.40 0a1.20 1.20 0 1 0 -2.40 0M293.4 101.3a1.20 1.20 0 1 0 2.40 0a1.20 1.20 0 1 0 -2.40 0M293.3 102.4a1.20 1.20 0 1 0 2.40 0a1.20 1.20 0 1 0 -2.40 0M293.5 127.2a1.20 1.20 0 1 0 2.40 0a1.20 1.20 0 1 0 -2.40 0M293.5 114.4a1.20 1.20 0 1 0 2.40 0a1.20 1.20 0 1 0 -2.40 0M293.3 122.0a1.20 1.20 0 1 0 2.40 0a1.20 1.20 0 1 0 -2.40 0M293.3 102.1a1.20 1.20 0 1 0 2.40 0a1.20 1.20 0 1 0 -2.40 0M293.4 124.1a1.20 1.20 0 1 0 2.40 0a1.20 1.20 0 1 0 -2.40 0M293.4 124.2a1.20 1.20 0 1 0 2.40 0a1.20 1.20 0 1 0 -2.40 0M293.4 127.1a1.20 1.20 0 1 0 2.40 0a1.20 1.20 0 1 0 -2.40 0M293.5 124.2a1.20 1.20 0 1 0 2.40 0a1.20 1.20 0 1 0 -2.40 0M293.6 122.9a1.20 1.20 0 1 0 2.40 0a1.20 1.20 0 1 0 -2.40 0M293.3 114.4a1.20 1.20 0 1 0 2.40 0a1.20 1.20 0 1 0 -2.40 0M293.4 120.2a1.20 1.20 0 1 0 2.40 0a1.20 1.20 0 1 0 -2.40 0M293.3 116.2a1.20 1.20 0 1 0 2.40 0a1.20 1.20 0 1 0 -2.40 0M293.3 105.2a1.20 1.20 0 1 0 2.40 0a1.20 1.20 0 1 0 -2.40 0M293.4 122.5a1.20 1.20 0 1 0 2.40 0a1.20 1.20 0 1 0 -2.40 0M297.1 112.9a1.20 1.20 0 1 0 2.40 0a1.20 1.20 0 1 0 -2.40 0M296.9 113.0a1.20 1.20 0 1 0 2.40 0a1.20 1.20 0 1 0 -2.40 0M297.0 110.8a1.20 1.20 0 1 0 2.40 0a1.20 1.20 0 1 0 -2.40 0M297.0 109.7a1.20 1.20 0 1 0 2.40 0a1.20 1.20 0 1 0 -2.40 0M296.9 120.8a1.20 1.20 0 1 0 2.40 0a1.20 1.20 0 1 0 -2.40 0M297.1 119.7a1.20 1.20 0 1 0 2.40 0a1.20 1.20 0 1 0 -2.40 0M297.2 120.6a1.20 1.20 0 1 0 2.40 0a1.20 1.20 0 1 0 -2.40 0M296.9 114.1a1.20 1.20 0 1 0 2.40 0a1.20 1.20 0 1 0 -2.40 0M297.0 122.7a1.20 1.20 0 1 0 2.40 0a1.20 1.20 0 1 0 -2.40 0M297.0 106.3a1.20 1.20 0 1 0 2.40 0a1.20 1.20 0 1 0 -2.40 0M297.0 120.4a1.20 1.20 0 1 0 2.40 0a1.20 1.20 0 1 0 -2.40 0M297.1 115.1a1.20 1.20 0 1 0 2.40 0a1.20 1.20 0 1 0 -2.40 0M296.9 104.8a1.20 1.20 0 1 0 2.40 0a1.20 1.20 0 1 0 -2.40 0M297.0 122.7a1.20 1.20 0 1 0 2.40 0a1.20 1.20 0 1 0 -2.40 0M296.9 117.1a1.20 1.20 0 1 0 2.40 0a1.20 1.20 0 1 0 -2.40 0M297.1 118.0a1.20 1.20 0 1 0 2.40 0a1.20 1.20 0 1 0 -2.40 0M296.9 106.3a1.20 1.20 0 1 0 2.40 0a1.20 1.20 0 1 0 -2.40 0M296.8 111.6a1.20 1.20 0 1 0 2.40 0a1.20 1.20 0 1 0 -2.40 0M297.2 114.5a1.20 1.20 0 1 0 2.40 0a1.20 1.20 0 1 0 -2.40 0M311.6 124.4a1.20 1.20 0 1 0 2.40 0a1.20 1.20 0 1 0 -2.40 0M311.5 121.0a1.20 1.20 0 1 0 2.40 0a1.20 1.20 0 1 0 -2.40 0M311.5 124.6a1.20 1.20 0 1 0 2.40 0a1.20 1.20 0 1 0 -2.40 0M311.4 118.4a1.20 1.20 0 1 0 2.40 0a1.20 1.20 0 1 0 -2.40 0M311.6 122.7a1.20 1.20 0 1 0 2.40 0a1.20 1.20 0 1 0 -2.40 0M311.4 120.6a1.20 1.20 0 1 0 2.40 0a1.20 1.20 0 1 0 -2.40 0M311.3 122.1a1.20 1.20 0 1 0 2.40 0a1.20 1.20 0 1 0 -2.40 0M311.6 121.5a1.20 1.20 0 1 0 2.40 0a1.20 1.20 0 1 0 -2.40 0M333.2 150.9a1.20 1.20 0 1 0 2.40 0a1.20 1.20 0 1 0 -2.40 0M333.0 148.2a1.20 1.20 0 1 0 2.40 0a1.20 1.20 0 1 0 -2.40 0M333.3 150.3a1.20 1.20 0 1 0 2.40 0a1.20 1.20 0 1 0 -2.40 0M332.9 148.9a1.20 1.20 0 1 0 2.40 0a1.20 1.20 0 1 0 -2.40 0M333.1 151.9a1.20 1.20 0 1 0 2.40 0a1.20 1.20 0 1 0 -2.40 0M333.2 155.6a1.20 1.20 0 1 0 2.40 0a1.20 1.20 0 1 0 -2.40 0M333.3 136.7a1.20 1.20 0 1 0 2.40 0a1.20 1.20 0 1 0 -2.40 0M333.1 132.2a1.20 1.20 0 1 0 2.40 0a1.20 1.20 0 1 0 -2.40 0M333.3 133.9a1.20 1.20 0 1 0 2.40 0a1.20 1.20 0 1 0 -2.40 0M333.0 147.6a1.20 1.20 0 1 0 2.40 0a1.20 1.20 0 1 0 -2.40 0M333.0 135.6a1.20 1.20 0 1 0 2.40 0a1.20 1.20 0 1 0 -2.40 0M333.1 137.0a1.20 1.20 0 1 0 2.40 0a1.20 1.20 0 1 0 -2.40 0M333.1 150.3a1.20 1.20 0 1 0 2.40 0a1.20 1.20 0 1 0 -2.40 0M333.0 143.1a1.20 1.20 0 1 0 2.40 0a1.20 1.20 0 1 0 -2.40 0M354.7 143.0a1.20 1.20 0 1 0 2.40 0a1.20 1.20 0 1 0 -2.40 0M354.8 148.4a1.20 1.20 0 1 0 2.40 0a1.20 1.20 0 1 0 -2.40 0M354.9 137.5a1.20 1.20 0 1 0 2.40 0a1.20 1.20 0 1 0 -2.40 0M354.7 136.8a1.20 1.20 0 1 0 2.40 0a1.20 1.20 0 1 0 -2.40 0M354.8 140.9a1.20 1.20 0 1 0 2.40 0a1.20 1.20 0 1 0 -2.40 0M354.8 142.3a1.20 1.20 0 1 0 2.40 0a1.20 1.20 0 1 0 -2.40 0M354.8 135.5a1.20 1.20 0 1 0 2.40 0a1.20 1.20 0 1 0 -2.40 0M354.7 141.2a1.20 1.20 0 1 0 2.40 0a1.20 1.20 0 1 0 -2.40 0M354.8 136.5a1.20 1.20 0 1 0 2.40 0a1.20 1.20 0 1 0 -2.40 0M354.5 145.3a1.20 1.20 0 1 0 2.40 0a1.20 1.20 0 1 0 -2.40 0M354.6 141.5a1.20 1.20 0 1 0 2.40 0a1.20 1.20 0 1 0 -2.40 0M354.7 149.8a1.20 1.20 0 1 0 2.40 0a1.20 1.20 0 1 0 -2.40 0M383.6 146.9a1.20 1.20 0 1 0 2.40 0a1.20 1.20 0 1 0 -2.40 0M383.7 147.1a1.20 1.20 0 1 0 2.40 0a1.20 1.20 0 1 0 -2.40 0M383.5 143.5a1.20 1.20 0 1 0 2.40 0a1.20 1.20 0 1 0 -2.40 0M383.5 147.3a1.20 1.20 0 1 0 2.40 0a1.20 1.20 0 1 0 -2.40 0M383.7 144.7a1.20 1.20 0 1 0 2.40 0a1.20 1.20 0 1 0 -2.40 0M383.7 146.5a1.20 1.20 0 1 0 2.40 0a1.20 1.20 0 1 0 -2.40 0M311.2 109.1a1.20 1.20 0 1 0 2.40 0a1.20 1.20 0 1 0 -2.40 0M311.2 113.2a1.20 1.20 0 1 0 2.40 0a1.20 1.20 0 1 0 -2.40 0M311.2 127.7a1.20 1.20 0 1 0 2.40 0a1.20 1.20 0 1 0 -2.40 0M311.2 133.1a1.20 1.20 0 1 0 2.40 0a1.20 1.20 0 1 0 -2.40 0M311.2 136.0a1.20 1.20 0 1 0 2.40 0a1.20 1.20 0 1 0 -2.40 0M311.2 138.5a1.20 1.20 0 1 0 2.40 0a1.20 1.20 0 1 0 -2.40 0M311.2 140.7a1.20 1.20 0 1 0 2.40 0a1.20 1.20 0 1 0 -2.40 0M311.2 142.0a1.20 1.20 0 1 0 2.40 0a1.20 1.20 0 1 0 -2.40 0M311.2 150.0a1.20 1.20 0 1 0 2.40 0a1.20 1.20 0 1 0 -2.40 0M311.2 152.5a1.20 1.20 0 1 0 2.40 0a1.20 1.20 0 1 0 -2.40 0M311.2 155.0a1.20 1.20 0 1 0 2.40 0a1.20 1.20 0 1 0 -2.40 0M311.2 160.2a1.20 1.20 0 1 0 2.40 0a1.20 1.20 0 1 0 -2.40 0M333.2 123.3a1.20 1.20 0 1 0 2.40 0a1.20 1.20 0 1 0 -2.40 0M333.2 126.0a1.20 1.20 0 1 0 2.40 0a1.20 1.20 0 1 0 -2.40 0M333.2 128.5a1.20 1.20 0 1 0 2.40 0a1.20 1.20 0 1 0 -2.40 0M333.2 161.0a1.20 1.20 0 1 0 2.40 0a1.20 1.20 0 1 0 -2.40 0M333.2 165.3a1.20 1.20 0 1 0 2.40 0a1.20 1.20 0 1 0 -2.40 0M333.2 168.3a1.20 1.20 0 1 0 2.40 0a1.20 1.20 0 1 0 -2.40 0M355.0 152.0a1.20 1.20 0 1 0 2.40 0a1.20 1.20 0 1 0 -2.40 0M355.0 155.0a1.20 1.20 0 1 0 2.40 0a1.20 1.20 0 1 0 -2.40 0M355.0 159.0a1.20 1.20 0 1 0 2.40 0a1.20 1.20 0 1 0 -2.40 0M355.0 161.0a1.20 1.20 0 1 0 2.40 0a1.20 1.20 0 1 0 -2.40 0M355.0 170.4a1.20 1.20 0 1 0 2.40 0a1.20 1.20 0 1 0 -2.40 0M355.0 173.4a1.20 1.20 0 1 0 2.40 0a1.20 1.20 0 1 0 -2.40 0M355.0 183.5a1.20 1.20 0 1 0 2.40 0a1.20 1.20 0 1 0 -2.40 0M383.4 135.9a1.20 1.20 0 1 0 2.40 0a1.20 1.20 0 1 0 -2.40 0M383.4 149.0a1.20 1.20 0 1 0 2.40 0a1.20 1.20 0 1 0 -2.40 0M383.4 152.5a1.20 1.20 0 1 0 2.40 0a1.20 1.20 0 1 0 -2.40 0M383.4 155.0a1.20 1.20 0 1 0 2.40 0a1.20 1.20 0 1 0 -2.40 0M383.4 162.4a1.20 1.20 0 1 0 2.40 0a1.20 1.20 0 1 0 -2.40 0M383.4 173.2a1.20 1.20 0 1 0 2.40 0a1.20 1.20 0 1 0 -2.40 0M383.4 174.5a1.20 1.20 0 1 0 2.40 0a1.20 1.20 0 1 0 -2.40 0M383.4 183.3a1.20 1.20 0 1 0 2.40 0a1.20 1.20 0 1 0 -2.40 0M383.4 192.4a1.20 1.20 0 1 0 2.40 0a1.20 1.20 0 1 0 -2.40 0M441.4 151.4a1.20 1.20 0 1 0 2.40 0a1.20 1.20 0 1 0 -2.40 0M441.4 155.5a1.20 1.20 0 1 0 2.40 0a1.20 1.20 0 1 0 -2.40 0M441.4 158.0a1.20 1.20 0 1 0 2.40 0a1.20 1.20 0 1 0 -2.40 0M441.4 161.0a1.20 1.20 0 1 0 2.40 0a1.20 1.20 0 1 0 -2.40 0M441.4 164.0a1.20 1.20 0 1 0 2.40 0a1.20 1.20 0 1 0 -2.40 0M441.4 168.0a1.20 1.20 0 1 0 2.40 0a1.20 1.20 0 1 0 -2.40 0M441.4 171.0a1.20 1.20 0 1 0 2.40 0a1.20 1.20 0 1 0 -2.40 0M441.4 174.2a1.20 1.20 0 1 0 2.40 0a1.20 1.20 0 1 0 -2.40 0M441.4 176.4a1.20 1.20 0 1 0 2.40 0a1.20 1.20 0 1 0 -2.40 0M441.4 180.2a1.20 1.20 0 1 0 2.40 0a1.20 1.20 0 1 0 -2.40 0M441.4 184.3a1.20 1.20 0 1 0 2.40 0a1.20 1.20 0 1 0 -2.40 0M441.4 195.4a1.20 1.20 0 1 0 2.40 0a1.20 1.20 0 1 0 -2.40 0M279.5 111.5a1.20 1.20 0 1 0 2.40 0a1.20 1.20 0 1 0 -2.40 0M282.1 114.0a1.20 1.20 0 1 0 2.40 0a1.20 1.20 0 1 0 -2.40 0M285.6 117.0a1.20 1.20 0 1 0 2.40 0a1.20 1.20 0 1 0 -2.40 0M282.1 123.0a1.20 1.20 0 1 0 2.40 0a1.20 1.20 0 1 0 -2.40 0M285.6 123.5a1.20 1.20 0 1 0 2.40 0a1.20 1.20 0 1 0 -2.40 0M288.1 126.0a1.20 1.20 0 1 0 2.40 0a1.20 1.20 0 1 0 -2.40 0M282.3 128.5a1.20 1.20 0 1 0 2.40 0a1.20 1.20 0 1 0 -2.40 0M285.3 129.0a1.20 1.20 0 1 0 2.40 0a1.20 1.20 0 1 0 -2.40 0M288.3 131.0a1.20 1.20 0 1 0 2.40 0a1.20 1.20 0 1 0 -2.40 0M285.8 132.5a1.20 1.20 0 1 0 2.40 0a1.20 1.20 0 1 0 -2.40 0M288.8 133.0a1.20 1.20 0 1 0 2.40 0a1.20 1.20 0 1 0 -2.40 0M293.2 132.0a1.20 1.20 0 1 0 2.40 0a1.20 1.20 0 1 0 -2.40 0M296.8 133.0a1.20 1.20 0 1 0 2.40 0a1.20 1.20 0 1 0 -2.40 0M296.8 137.0a1.20 1.20 0 1 0 2.40 0a1.20 1.20 0 1 0 -2.40 0M296.8 140.0a1.20 1.20 0 1 0 2.40 0a1.20 1.20 0 1 0 -2.40 0M293.3 136.0a1.20 1.20 0 1 0 2.40 0a1.20 1.20 0 1 0 -2.40 0M269.4 142.8a1.20 1.20 0 1 0 2.40 0a1.20 1.20 0 1 0 -2.40 0M293.2 142.7a1.20 1.20 0 1 0 2.40 0a1.20 1.20 0 1 0 -2.40 0M278.8 100.0a1.20 1.20 0 1 0 2.40 0a1.20 1.20 0 1 0 -2.40 0M279.8 105.0a1.20 1.20 0 1 0 2.40 0a1.20 1.20 0 1 0 -2.40 0M278.3 95.0a1.20 1.20 0 1 0 2.40 0a1.20 1.20 0 1 0 -2.40 0M275.8 92.0a1.20 1.20 0 1 0 2.40 0a1.20 1.20 0 1 0 -2.40 0M275.3 99.0a1.20 1.20 0 1 0 2.40 0a1.20 1.20 0 1 0 -2.40 0M278.8 108.0a1.20 1.20 0 1 0 2.40 0a1.20 1.20 0 1 0 -2.40 0M282.8 105.0a1.20 1.20 0 1 0 2.40 0a1.20 1.20 0 1 0 -2.40 0" fill="none" stroke="#000" stroke-width="0.95"/>
<line x1="270.6" x2="270.6" y1="92.2" y2="94.8" stroke="#000" stroke-width="2.2" stroke-linecap="round"/><line x1="270.6" x2="270.6" y1="97.7" y2="100.3" stroke="#000" stroke-width="2.2" stroke-linecap="round"/><line x1="270.6" x2="270.6" y1="107.7" y2="110.3" stroke="#000" stroke-width="2.2" stroke-linecap="round"/><line x1="270.6" x2="270.6" y1="118.3" y2="120.9" stroke="#000" stroke-width="2.2" stroke-linecap="round"/><line x1="270.6" x2="270.6" y1="122.7" y2="125.3" stroke="#000" stroke-width="2.2" stroke-linecap="round"/><line x1="270.6" x2="270.6" y1="126.2" y2="128.8" stroke="#000" stroke-width="2.2" stroke-linecap="round"/><line x1="270.6" x2="270.6" y1="132.7" y2="135.3" stroke="#000" stroke-width="2.2" stroke-linecap="round"/><line x1="270.6" x2="270.6" y1="144.7" y2="147.3" stroke="#000" stroke-width="2.2" stroke-linecap="round"/><line x1="270.6" x2="270.6" y1="156.7" y2="159.3" stroke="#000" stroke-width="2.2" stroke-linecap="round"/>
<circle cx="355.8" cy="184.5" r="1.7" fill="#000"/><circle cx="297.6" cy="148.4" r="1.7" fill="#000"/><circle cx="290.8" cy="138.1" r="1.7" fill="#000"/><circle cx="334.4" cy="176.4" r="1.7" fill="#000"/><circle cx="384.6" cy="157.6" r="1.7" fill="#000"/>
<polyline points="270.6,60.0 273.0,52.0 277.0,66.0 284.0,88.0 291.0,104.0 298.4,118.1 312.3,134.0 334.3,143.0 356.2,147.0 384.7,157.6 442.6,165.8" fill="none" stroke="#000" stroke-width="1.60" stroke-linejoin="round"/>
<polyline points="270.6,36.0 273.0,34.0 276.0,46.0 282.0,70.0 289.0,90.0 297.4,100.0 307.3,106.0 318.0,112.1 327.6,118.7 334.7,122.8 347.7,130.6 356.1,135.1 384.7,135.9 442.6,151.4" fill="none" stroke="#000" stroke-width="1.50" stroke-dasharray="6.5,5" stroke-linejoin="round"/>
<polyline points="270.6,100.0 273.0,92.0 277.0,104.0 284.0,122.0 290.8,138.1 294.4,142.7 297.6,148.4 305.0,154.0 312.6,160.2 334.5,176.4 356.2,183.5 384.3,192.4 442.6,195.4" fill="none" stroke="#000" stroke-width="1.50" stroke-dasharray="6.5,5" stroke-linejoin="round"/>
<path d="M269.1 48.5L276.1 48.5M270.1 46.0L275.1 51.0M272.6 45.0L272.6 52.0M275.1 46.0L270.1 51.0" stroke="#f00000" stroke-width="1.15" fill="none"/><circle cx="272.6" cy="48.5" r="1.7" fill="#f00000"/>
<path d="M269.1 73.9L276.1 73.9M270.1 71.4L275.1 76.4M272.6 70.4L272.6 77.4M275.1 71.4L270.1 76.4" stroke="#f00000" stroke-width="1.15" fill="none"/><circle cx="272.6" cy="73.9" r="1.7" fill="#f00000"/>
</g>
<rect x="258.3" y="0.4" width="197.0" height="20.9" fill="#ffe5cc" stroke="#000" stroke-width="0.95"/>
<rect x="258.3" y="21.3" width="197.0" height="185.7" fill="none" stroke="#000" stroke-width="0.95"/>
<text x="356.8" y="15.2" font-size="11.5" text-anchor="middle">IM (AS of 1.5)</text>
<line x1="269.4" x2="269.4" y1="207.0" y2="212.7" stroke="#000" stroke-width="0.95"/>
<text x="269.4" y="224.8" font-size="10" text-anchor="middle">0</text>
<line x1="305.4" x2="305.4" y1="207.0" y2="212.7" stroke="#000" stroke-width="0.95"/>
<text x="305.4" y="224.8" font-size="10" text-anchor="middle">5</text>
<line x1="341.5" x2="341.5" y1="207.0" y2="212.7" stroke="#000" stroke-width="0.95"/>
<text x="341.5" y="224.8" font-size="10" text-anchor="middle">10</text>
<line x1="377.5" x2="377.5" y1="207.0" y2="212.7" stroke="#000" stroke-width="0.95"/>
<text x="377.5" y="224.8" font-size="10" text-anchor="middle">15</text>
<line x1="413.6" x2="413.6" y1="207.0" y2="212.7" stroke="#000" stroke-width="0.95"/>
<text x="413.6" y="224.8" font-size="10" text-anchor="middle">20</text>
<line x1="449.6" x2="449.6" y1="207.0" y2="212.7" stroke="#000" stroke-width="0.95"/>
<text x="449.6" y="224.8" font-size="10" text-anchor="middle">25</text>
<line x1="252.6" x2="258.3" y1="29.9" y2="29.9" stroke="#000" stroke-width="0.95"/>
<text transform="translate(247.1,29.9) rotate(-90)" font-size="9.9" text-anchor="middle">−2</text>
<line x1="252.6" x2="258.3" y1="76.2" y2="76.2" stroke="#000" stroke-width="0.95"/>
<text transform="translate(247.1,76.2) rotate(-90)" font-size="9.9" text-anchor="middle">−4</text>
<line x1="252.6" x2="258.3" y1="122.6" y2="122.6" stroke="#000" stroke-width="0.95"/>
<text transform="translate(247.1,122.6) rotate(-90)" font-size="9.9" text-anchor="middle">−6</text>
<line x1="252.6" x2="258.3" y1="169.0" y2="169.0" stroke="#000" stroke-width="0.95"/>
<text transform="translate(247.1,169.0) rotate(-90)" font-size="9.9" text-anchor="middle">−8</text>
<defs><clipPath id="c2"><rect x="478.8" y="21.0" width="196.6" height="186.0"/></clipPath></defs>
<g clip-path="url(#c2)">
<polygon points="489.9,230.0 490.1,60.0 491.1,15.0 495.2,22.0 502.5,45.0 506.3,54.0 509.8,62.0 513.4,68.0 520.5,77.0 526.5,84.0 534.6,91.0 545.2,97.1 555.3,103.0 565.0,106.8 576.0,110.2 590.0,113.6 606.0,117.2 620.0,120.2 642.0,124.0 662.7,128.0 676.0,128.1 680.0,128.1 680.0,177.0 675.0,176.5 656.6,174.2 640.0,170.4 608.0,163.0 575.4,154.2 550.1,146.5 546.0,143.5 538.0,137.0 528.5,125.2 516.3,116.1 505.0,92.0 498.0,70.0 494.0,52.0 491.5,60.0 489.9,230.0" fill="#cdeeae"/>
<polygon points="489.9,230.0 490.0,120.0 490.6,90.0 494.0,75.0 498.0,88.0 505.0,108.0 512.0,124.0 522.0,136.0 529.4,146.0 535.0,152.5 541.5,157.5 550.0,162.5 557.4,167.0 563.7,170.8 576.4,175.3 604.8,181.5 640.0,187.2 662.7,191.7 675.0,192.7 680.0,193.0 680.0,230.0 560.0,215.0 548.5,207.0 538.1,199.2 532.0,193.5 526.3,187.3 520.0,180.0 514.5,172.5 510.2,165.5 505.6,157.8 503.8,150.0 499.5,133.0 495.8,122.5 492.6,133.0 491.9,150.0 491.7,230.0" fill="#cdeeae"/>
<polygon points="491.3,100.0 491.8,50.0 494.0,46.0 498.0,63.0 505.0,85.0 516.0,109.0 520.4,114.0 535.5,125.2 538.0,129.0 552.2,140.3 559.2,145.0 580.5,149.6 608.0,156.9 640.0,162.7 662.7,165.8 675.0,167.2 680.0,167.6 680.0,199.0 675.0,198.7 662.7,197.8 650.0,196.0 640.0,194.0 604.8,186.0 576.4,180.5 564.0,176.0 553.2,171.0 546.0,165.2 540.0,160.6 535.7,157.5 530.0,152.5 524.1,146.0 519.5,140.0 512.0,133.0 505.0,117.0 498.0,97.0 494.0,84.0 492.0,95.0 491.3,100.0" fill="#fdd8c2"/>
<g style="mix-blend-mode:normal"><polygon points="491.3,100.0 491.8,50.0 494.0,46.0 498.0,63.0 505.0,85.0 516.0,109.0 520.4,114.0 535.5,125.2 538.0,129.0 552.2,140.3 559.2,145.0 580.5,149.6 608.0,156.9 640.0,162.7 662.7,165.8 675.0,167.2 680.0,167.6 680.0,177.0 675.0,176.5 656.6,174.2 640.0,170.4 608.0,163.0 575.4,154.2 550.1,146.5 546.0,143.5 538.0,137.0 528.5,125.2 516.3,116.1 505.0,92.0 498.0,70.0 494.0,52.0 491.5,60.0" fill="#dcca8b"/></g>
<polygon points="490.6,90.0 494.0,75.0 498.0,88.0 505.0,108.0 512.0,124.0 522.0,136.0 529.4,146.0 535.0,152.5 541.5,157.5 550.0,162.5 557.4,167.0 563.7,170.8 576.4,175.3 604.8,181.5 640.0,187.2 662.7,191.7 675.0,192.7 680.0,193.0 680.0,199.0 675.0,198.7 662.7,197.8 650.0,196.0 640.0,194.0 604.8,186.0 576.4,180.5 564.0,176.0 553.2,171.0 546.0,165.2 540.0,160.6 535.7,157.5 530.0,152.5 524.1,146.0 519.5,140.0 512.0,133.0 505.0,117.0 498.0,97.0 494.0,84.0 492.0,95.0" fill="#dcca8b"/>
<path d="M490.6 80.1a1.20 1.20 0 1 0 2.40 0a1.20 1.20 0 1 0 -2.40 0M490.7 61.0a1.20 1.20 0 1 0 2.40 0a1.20 1.20 0 1 0 -2.40 0M490.6 94.1a1.20 1.20 0 1 0 2.40 0a1.20 1.20 0 1 0 -2.40 0M490.7 56.1a1.20 1.20 0 1 0 2.40 0a1.20 1.20 0 1 0 -2.40 0M490.6 79.3a1.20 1.20 0 1 0 2.40 0a1.20 1.20 0 1 0 -2.40 0M490.5 98.2a1.20 1.20 0 1 0 2.40 0a1.20 1.20 0 1 0 -2.40 0M490.5 70.0a1.20 1.20 0 1 0 2.40 0a1.20 1.20 0 1 0 -2.40 0M490.8 80.3a1.20 1.20 0 1 0 2.40 0a1.20 1.20 0 1 0 -2.40 0M490.4 62.7a1.20 1.20 0 1 0 2.40 0a1.20 1.20 0 1 0 -2.40 0M490.5 48.8a1.20 1.20 0 1 0 2.40 0a1.20 1.20 0 1 0 -2.40 0M490.6 85.7a1.20 1.20 0 1 0 2.40 0a1.20 1.20 0 1 0 -2.40 0M490.5 91.7a1.20 1.20 0 1 0 2.40 0a1.20 1.20 0 1 0 -2.40 0M490.7 76.0a1.20 1.20 0 1 0 2.40 0a1.20 1.20 0 1 0 -2.40 0M490.6 52.3a1.20 1.20 0 1 0 2.40 0a1.20 1.20 0 1 0 -2.40 0M490.3 98.9a1.20 1.20 0 1 0 2.40 0a1.20 1.20 0 1 0 -2.40 0M490.4 57.5a1.20 1.20 0 1 0 2.40 0a1.20 1.20 0 1 0 -2.40 0M490.7 86.5a1.20 1.20 0 1 0 2.40 0a1.20 1.20 0 1 0 -2.40 0M490.3 63.4a1.20 1.20 0 1 0 2.40 0a1.20 1.20 0 1 0 -2.40 0M490.4 60.7a1.20 1.20 0 1 0 2.40 0a1.20 1.20 0 1 0 -2.40 0M490.3 74.3a1.20 1.20 0 1 0 2.40 0a1.20 1.20 0 1 0 -2.40 0M490.4 67.3a1.20 1.20 0 1 0 2.40 0a1.20 1.20 0 1 0 -2.40 0M490.4 51.9a1.20 1.20 0 1 0 2.40 0a1.20 1.20 0 1 0 -2.40 0M490.3 93.1a1.20 1.20 0 1 0 2.40 0a1.20 1.20 0 1 0 -2.40 0M490.7 76.2a1.20 1.20 0 1 0 2.40 0a1.20 1.20 0 1 0 -2.40 0M490.3 54.0a1.20 1.20 0 1 0 2.40 0a1.20 1.20 0 1 0 -2.40 0M490.3 63.1a1.20 1.20 0 1 0 2.40 0a1.20 1.20 0 1 0 -2.40 0M490.3 60.9a1.20 1.20 0 1 0 2.40 0a1.20 1.20 0 1 0 -2.40 0M490.4 56.4a1.20 1.20 0 1 0 2.40 0a1.20 1.20 0 1 0 -2.40 0M490.6 70.7a1.20 1.20 0 1 0 2.40 0a1.20 1.20 0 1 0 -2.40 0M490.5 65.3a1.20 1.20 0 1 0 2.40 0a1.20 1.20 0 1 0 -2.40 0M490.6 88.4a1.20 1.20 0 1 0 2.40 0a1.20 1.20 0 1 0 -2.40 0M490.4 49.8a1.20 1.20 0 1 0 2.40 0a1.20 1.20 0 1 0 -2.40 0M490.5 66.5a1.20 1.20 0 1 0 2.40 0a1.20 1.20 0 1 0 -2.40 0M490.7 52.0a1.20 1.20 0 1 0 2.40 0a1.20 1.20 0 1 0 -2.40 0M490.7 46.8a1.20 1.20 0 1 0 2.40 0a1.20 1.20 0 1 0 -2.40 0M490.6 70.0a1.20 1.20 0 1 0 2.40 0a1.20 1.20 0 1 0 -2.40 0M490.4 94.0a1.20 1.20 0 1 0 2.40 0a1.20 1.20 0 1 0 -2.40 0M490.6 54.8a1.20 1.20 0 1 0 2.40 0a1.20 1.20 0 1 0 -2.40 0M490.5 79.1a1.20 1.20 0 1 0 2.40 0a1.20 1.20 0 1 0 -2.40 0M490.3 50.7a1.20 1.20 0 1 0 2.40 0a1.20 1.20 0 1 0 -2.40 0M492.1 85.1a1.20 1.20 0 1 0 2.40 0a1.20 1.20 0 1 0 -2.40 0M492.0 68.2a1.20 1.20 0 1 0 2.40 0a1.20 1.20 0 1 0 -2.40 0M492.1 59.3a1.20 1.20 0 1 0 2.40 0a1.20 1.20 0 1 0 -2.40 0M492.4 97.9a1.20 1.20 0 1 0 2.40 0a1.20 1.20 0 1 0 -2.40 0M492.0 46.1a1.20 1.20 0 1 0 2.40 0a1.20 1.20 0 1 0 -2.40 0M492.0 89.2a1.20 1.20 0 1 0 2.40 0a1.20 1.20 0 1 0 -2.40 0M491.9 50.8a1.20 1.20 0 1 0 2.40 0a1.20 1.20 0 1 0 -2.40 0M491.8 84.1a1.20 1.20 0 1 0 2.40 0a1.20 1.20 0 1 0 -2.40 0M492.2 60.7a1.20 1.20 0 1 0 2.40 0a1.20 1.20 0 1 0 -2.40 0M492.2 86.8a1.20 1.20 0 1 0 2.40 0a1.20 1.20 0 1 0 -2.40 0M492.5 90.7a1.20 1.20 0 1 0 2.40 0a1.20 1.20 0 1 0 -2.40 0M492.0 89.5a1.20 1.20 0 1 0 2.40 0a1.20 1.20 0 1 0 -2.40 0M492.4 92.8a1.20 1.20 0 1 0 2.40 0a1.20 1.20 0 1 0 -2.40 0M492.3 77.3a1.20 1.20 0 1 0 2.40 0a1.20 1.20 0 1 0 -2.40 0M492.1 91.8a1.20 1.20 0 1 0 2.40 0a1.20 1.20 0 1 0 -2.40 0M492.2 84.7a1.20 1.20 0 1 0 2.40 0a1.20 1.20 0 1 0 -2.40 0M491.8 50.1a1.20 1.20 0 1 0 2.40 0a1.20 1.20 0 1 0 -2.40 0M491.8 77.1a1.20 1.20 0 1 0 2.40 0a1.20 1.20 0 1 0 -2.40 0M492.1 55.9a1.20 1.20 0 1 0 2.40 0a1.20 1.20 0 1 0 -2.40 0M491.8 97.3a1.20 1.20 0 1 0 2.40 0a1.20 1.20 0 1 0 -2.40 0M491.7 96.0a1.20 1.20 0 1 0 2.40 0a1.20 1.20 0 1 0 -2.40 0M492.3 76.6a1.20 1.20 0 1 0 2.40 0a1.20 1.20 0 1 0 -2.40 0M492.5 82.4a1.20 1.20 0 1 0 2.40 0a1.20 1.20 0 1 0 -2.40 0M491.6 96.7a1.20 1.20 0 1 0 2.40 0a1.20 1.20 0 1 0 -2.40 0M492.0 95.4a1.20 1.20 0 1 0 2.40 0a1.20 1.20 0 1 0 -2.40 0M492.3 52.6a1.20 1.20 0 1 0 2.40 0a1.20 1.20 0 1 0 -2.40 0M491.6 46.1a1.20 1.20 0 1 0 2.40 0a1.20 1.20 0 1 0 -2.40 0M492.3 88.5a1.20 1.20 0 1 0 2.40 0a1.20 1.20 0 1 0 -2.40 0M493.5 53.4a1.20 1.20 0 1 0 2.40 0a1.20 1.20 0 1 0 -2.40 0M493.7 92.6a1.20 1.20 0 1 0 2.40 0a1.20 1.20 0 1 0 -2.40 0M494.0 96.4a1.20 1.20 0 1 0 2.40 0a1.20 1.20 0 1 0 -2.40 0M494.2 90.0a1.20 1.20 0 1 0 2.40 0a1.20 1.20 0 1 0 -2.40 0M494.1 47.9a1.20 1.20 0 1 0 2.40 0a1.20 1.20 0 1 0 -2.40 0M493.3 96.2a1.20 1.20 0 1 0 2.40 0a1.20 1.20 0 1 0 -2.40 0M493.9 65.6a1.20 1.20 0 1 0 2.40 0a1.20 1.20 0 1 0 -2.40 0M493.4 66.0a1.20 1.20 0 1 0 2.40 0a1.20 1.20 0 1 0 -2.40 0M493.6 75.3a1.20 1.20 0 1 0 2.40 0a1.20 1.20 0 1 0 -2.40 0M493.7 58.5a1.20 1.20 0 1 0 2.40 0a1.20 1.20 0 1 0 -2.40 0M493.4 58.6a1.20 1.20 0 1 0 2.40 0a1.20 1.20 0 1 0 -2.40 0M493.4 52.7a1.20 1.20 0 1 0 2.40 0a1.20 1.20 0 1 0 -2.40 0M493.7 54.4a1.20 1.20 0 1 0 2.40 0a1.20 1.20 0 1 0 -2.40 0M494.0 78.1a1.20 1.20 0 1 0 2.40 0a1.20 1.20 0 1 0 -2.40 0M493.7 83.4a1.20 1.20 0 1 0 2.40 0a1.20 1.20 0 1 0 -2.40 0M493.5 48.3a1.20 1.20 0 1 0 2.40 0a1.20 1.20 0 1 0 -2.40 0M493.4 66.2a1.20 1.20 0 1 0 2.40 0a1.20 1.20 0 1 0 -2.40 0M493.7 61.4a1.20 1.20 0 1 0 2.40 0a1.20 1.20 0 1 0 -2.40 0M493.6 94.5a1.20 1.20 0 1 0 2.40 0a1.20 1.20 0 1 0 -2.40 0M493.3 72.6a1.20 1.20 0 1 0 2.40 0a1.20 1.20 0 1 0 -2.40 0M493.7 63.1a1.20 1.20 0 1 0 2.40 0a1.20 1.20 0 1 0 -2.40 0M494.0 59.8a1.20 1.20 0 1 0 2.40 0a1.20 1.20 0 1 0 -2.40 0M493.4 56.1a1.20 1.20 0 1 0 2.40 0a1.20 1.20 0 1 0 -2.40 0M494.2 66.7a1.20 1.20 0 1 0 2.40 0a1.20 1.20 0 1 0 -2.40 0M493.4 102.3a1.20 1.20 0 1 0 2.40 0a1.20 1.20 0 1 0 -2.40 0M495.6 105.6a1.20 1.20 0 1 0 2.40 0a1.20 1.20 0 1 0 -2.40 0M495.4 97.4a1.20 1.20 0 1 0 2.40 0a1.20 1.20 0 1 0 -2.40 0M495.1 65.3a1.20 1.20 0 1 0 2.40 0a1.20 1.20 0 1 0 -2.40 0M495.8 80.9a1.20 1.20 0 1 0 2.40 0a1.20 1.20 0 1 0 -2.40 0M495.8 73.6a1.20 1.20 0 1 0 2.40 0a1.20 1.20 0 1 0 -2.40 0M495.8 56.3a1.20 1.20 0 1 0 2.40 0a1.20 1.20 0 1 0 -2.40 0M495.6 62.6a1.20 1.20 0 1 0 2.40 0a1.20 1.20 0 1 0 -2.40 0M495.2 101.5a1.20 1.20 0 1 0 2.40 0a1.20 1.20 0 1 0 -2.40 0M495.4 97.5a1.20 1.20 0 1 0 2.40 0a1.20 1.20 0 1 0 -2.40 0M495.3 92.9a1.20 1.20 0 1 0 2.40 0a1.20 1.20 0 1 0 -2.40 0M495.9 87.1a1.20 1.20 0 1 0 2.40 0a1.20 1.20 0 1 0 -2.40 0M495.3 89.4a1.20 1.20 0 1 0 2.40 0a1.20 1.20 0 1 0 -2.40 0M495.9 96.9a1.20 1.20 0 1 0 2.40 0a1.20 1.20 0 1 0 -2.40 0M495.5 74.4a1.20 1.20 0 1 0 2.40 0a1.20 1.20 0 1 0 -2.40 0M495.1 95.0a1.20 1.20 0 1 0 2.40 0a1.20 1.20 0 1 0 -2.40 0M495.2 64.2a1.20 1.20 0 1 0 2.40 0a1.20 1.20 0 1 0 -2.40 0M495.1 61.2a1.20 1.20 0 1 0 2.40 0a1.20 1.20 0 1 0 -2.40 0M495.4 78.7a1.20 1.20 0 1 0 2.40 0a1.20 1.20 0 1 0 -2.40 0M495.2 75.8a1.20 1.20 0 1 0 2.40 0a1.20 1.20 0 1 0 -2.40 0M495.7 57.4a1.20 1.20 0 1 0 2.40 0a1.20 1.20 0 1 0 -2.40 0M495.2 81.3a1.20 1.20 0 1 0 2.40 0a1.20 1.20 0 1 0 -2.40 0M495.9 103.4a1.20 1.20 0 1 0 2.40 0a1.20 1.20 0 1 0 -2.40 0M495.6 57.1a1.20 1.20 0 1 0 2.40 0a1.20 1.20 0 1 0 -2.40 0M499.4 113.7a1.20 1.20 0 1 0 2.40 0a1.20 1.20 0 1 0 -2.40 0M499.5 94.3a1.20 1.20 0 1 0 2.40 0a1.20 1.20 0 1 0 -2.40 0M499.0 96.7a1.20 1.20 0 1 0 2.40 0a1.20 1.20 0 1 0 -2.40 0M499.4 113.8a1.20 1.20 0 1 0 2.40 0a1.20 1.20 0 1 0 -2.40 0M499.1 93.3a1.20 1.20 0 1 0 2.40 0a1.20 1.20 0 1 0 -2.40 0M498.9 94.7a1.20 1.20 0 1 0 2.40 0a1.20 1.20 0 1 0 -2.40 0M499.2 83.9a1.20 1.20 0 1 0 2.40 0a1.20 1.20 0 1 0 -2.40 0M499.1 110.5a1.20 1.20 0 1 0 2.40 0a1.20 1.20 0 1 0 -2.40 0M498.9 82.7a1.20 1.20 0 1 0 2.40 0a1.20 1.20 0 1 0 -2.40 0M498.9 108.1a1.20 1.20 0 1 0 2.40 0a1.20 1.20 0 1 0 -2.40 0M498.9 106.7a1.20 1.20 0 1 0 2.40 0a1.20 1.20 0 1 0 -2.40 0M499.5 108.8a1.20 1.20 0 1 0 2.40 0a1.20 1.20 0 1 0 -2.40 0M499.4 80.2a1.20 1.20 0 1 0 2.40 0a1.20 1.20 0 1 0 -2.40 0M499.1 106.6a1.20 1.20 0 1 0 2.40 0a1.20 1.20 0 1 0 -2.40 0M498.9 97.3a1.20 1.20 0 1 0 2.40 0a1.20 1.20 0 1 0 -2.40 0M503.0 121.7a1.20 1.20 0 1 0 2.40 0a1.20 1.20 0 1 0 -2.40 0M502.6 94.1a1.20 1.20 0 1 0 2.40 0a1.20 1.20 0 1 0 -2.40 0M502.3 100.8a1.20 1.20 0 1 0 2.40 0a1.20 1.20 0 1 0 -2.40 0M502.8 99.5a1.20 1.20 0 1 0 2.40 0a1.20 1.20 0 1 0 -2.40 0M503.0 112.1a1.20 1.20 0 1 0 2.40 0a1.20 1.20 0 1 0 -2.40 0M502.8 118.1a1.20 1.20 0 1 0 2.40 0a1.20 1.20 0 1 0 -2.40 0M502.6 112.1a1.20 1.20 0 1 0 2.40 0a1.20 1.20 0 1 0 -2.40 0M502.6 99.8a1.20 1.20 0 1 0 2.40 0a1.20 1.20 0 1 0 -2.40 0M502.4 116.8a1.20 1.20 0 1 0 2.40 0a1.20 1.20 0 1 0 -2.40 0M503.1 91.1a1.20 1.20 0 1 0 2.40 0a1.20 1.20 0 1 0 -2.40 0M502.9 92.1a1.20 1.20 0 1 0 2.40 0a1.20 1.20 0 1 0 -2.40 0M502.6 100.8a1.20 1.20 0 1 0 2.40 0a1.20 1.20 0 1 0 -2.40 0M503.1 104.7a1.20 1.20 0 1 0 2.40 0a1.20 1.20 0 1 0 -2.40 0M502.7 102.1a1.20 1.20 0 1 0 2.40 0a1.20 1.20 0 1 0 -2.40 0M506.2 107.3a1.20 1.20 0 1 0 2.40 0a1.20 1.20 0 1 0 -2.40 0M506.1 100.4a1.20 1.20 0 1 0 2.40 0a1.20 1.20 0 1 0 -2.40 0M506.3 122.2a1.20 1.20 0 1 0 2.40 0a1.20 1.20 0 1 0 -2.40 0M506.4 107.8a1.20 1.20 0 1 0 2.40 0a1.20 1.20 0 1 0 -2.40 0M506.5 102.4a1.20 1.20 0 1 0 2.40 0a1.20 1.20 0 1 0 -2.40 0M506.3 110.0a1.20 1.20 0 1 0 2.40 0a1.20 1.20 0 1 0 -2.40 0M506.2 128.8a1.20 1.20 0 1 0 2.40 0a1.20 1.20 0 1 0 -2.40 0M506.4 103.9a1.20 1.20 0 1 0 2.40 0a1.20 1.20 0 1 0 -2.40 0M506.2 124.3a1.20 1.20 0 1 0 2.40 0a1.20 1.20 0 1 0 -2.40 0M506.3 109.0a1.20 1.20 0 1 0 2.40 0a1.20 1.20 0 1 0 -2.40 0M506.2 109.8a1.20 1.20 0 1 0 2.40 0a1.20 1.20 0 1 0 -2.40 0M506.4 109.3a1.20 1.20 0 1 0 2.40 0a1.20 1.20 0 1 0 -2.40 0M510.0 106.9a1.20 1.20 0 1 0 2.40 0a1.20 1.20 0 1 0 -2.40 0M509.9 122.5a1.20 1.20 0 1 0 2.40 0a1.20 1.20 0 1 0 -2.40 0M509.9 131.0a1.20 1.20 0 1 0 2.40 0a1.20 1.20 0 1 0 -2.40 0M510.1 124.7a1.20 1.20 0 1 0 2.40 0a1.20 1.20 0 1 0 -2.40 0M509.9 110.0a1.20 1.20 0 1 0 2.40 0a1.20 1.20 0 1 0 -2.40 0M510.0 113.7a1.20 1.20 0 1 0 2.40 0a1.20 1.20 0 1 0 -2.40 0M509.8 121.0a1.20 1.20 0 1 0 2.40 0a1.20 1.20 0 1 0 -2.40 0M509.8 124.2a1.20 1.20 0 1 0 2.40 0a1.20 1.20 0 1 0 -2.40 0M510.0 105.4a1.20 1.20 0 1 0 2.40 0a1.20 1.20 0 1 0 -2.40 0M510.0 110.7a1.20 1.20 0 1 0 2.40 0a1.20 1.20 0 1 0 -2.40 0M509.9 126.7a1.20 1.20 0 1 0 2.40 0a1.20 1.20 0 1 0 -2.40 0M510.1 114.4a1.20 1.20 0 1 0 2.40 0a1.20 1.20 0 1 0 -2.40 0M513.6 119.0a1.20 1.20 0 1 0 2.40 0a1.20 1.20 0 1 0 -2.40 0M513.7 114.5a1.20 1.20 0 1 0 2.40 0a1.20 1.20 0 1 0 -2.40 0M513.6 112.2a1.20 1.20 0 1 0 2.40 0a1.20 1.20 0 1 0 -2.40 0M513.6 129.3a1.20 1.20 0 1 0 2.40 0a1.20 1.20 0 1 0 -2.40 0M513.7 129.9a1.20 1.20 0 1 0 2.40 0a1.20 1.20 0 1 0 -2.40 0M513.5 120.4a1.20 1.20 0 1 0 2.40 0a1.20 1.20 0 1 0 -2.40 0M513.6 126.9a1.20 1.20 0 1 0 2.40 0a1.20 1.20 0 1 0 -2.40 0M513.6 128.6a1.20 1.20 0 1 0 2.40 0a1.20 1.20 0 1 0 -2.40 0M513.6 134.4a1.20 1.20 0 1 0 2.40 0a1.20 1.20 0 1 0 -2.40 0M517.2 133.3a1.20 1.20 0 1 0 2.40 0a1.20 1.20 0 1 0 -2.40 0M517.2 122.4a1.20 1.20 0 1 0 2.40 0a1.20 1.20 0 1 0 -2.40 0M517.3 122.0a1.20 1.20 0 1 0 2.40 0a1.20 1.20 0 1 0 -2.40 0M517.3 133.3a1.20 1.20 0 1 0 2.40 0a1.20 1.20 0 1 0 -2.40 0M517.3 134.0a1.20 1.20 0 1 0 2.40 0a1.20 1.20 0 1 0 -2.40 0M517.2 125.0a1.20 1.20 0 1 0 2.40 0a1.20 1.20 0 1 0 -2.40 0M517.0 128.1a1.20 1.20 0 1 0 2.40 0a1.20 1.20 0 1 0 -2.40 0M517.3 121.9a1.20 1.20 0 1 0 2.40 0a1.20 1.20 0 1 0 -2.40 0M491.9 32.6a1.20 1.20 0 1 0 2.40 0a1.20 1.20 0 1 0 -2.40 0M494.5 42.3a1.20 1.20 0 1 0 2.40 0a1.20 1.20 0 1 0 -2.40 0M495.5 44.3a1.20 1.20 0 1 0 2.40 0a1.20 1.20 0 1 0 -2.40 0M490.4 45.3a1.20 1.20 0 1 0 2.40 0a1.20 1.20 0 1 0 -2.40 0M501.5 63.7a1.20 1.20 0 1 0 2.40 0a1.20 1.20 0 1 0 -2.40 0M506.1 73.3a1.20 1.20 0 1 0 2.40 0a1.20 1.20 0 1 0 -2.40 0M513.2 84.2a1.20 1.20 0 1 0 2.40 0a1.20 1.20 0 1 0 -2.40 0M517.2 93.5a1.20 1.20 0 1 0 2.40 0a1.20 1.20 0 1 0 -2.40 0M531.8 115.6a1.20 1.20 0 1 0 2.40 0a1.20 1.20 0 1 0 -2.40 0M531.8 131.3a1.20 1.20 0 1 0 2.40 0a1.20 1.20 0 1 0 -2.40 0M531.8 135.5a1.20 1.20 0 1 0 2.40 0a1.20 1.20 0 1 0 -2.40 0M531.8 139.6a1.20 1.20 0 1 0 2.40 0a1.20 1.20 0 1 0 -2.40 0M531.8 141.8a1.20 1.20 0 1 0 2.40 0a1.20 1.20 0 1 0 -2.40 0M516.9 138.0a1.20 1.20 0 1 0 2.40 0a1.20 1.20 0 1 0 -2.40 0M516.9 140.2a1.20 1.20 0 1 0 2.40 0a1.20 1.20 0 1 0 -2.40 0M513.5 139.0a1.20 1.20 0 1 0 2.40 0a1.20 1.20 0 1 0 -2.40 0M553.5 145.6a1.20 1.20 0 1 0 2.40 0a1.20 1.20 0 1 0 -2.40 0M553.5 150.2a1.20 1.20 0 1 0 2.40 0a1.20 1.20 0 1 0 -2.40 0M553.5 152.7a1.20 1.20 0 1 0 2.40 0a1.20 1.20 0 1 0 -2.40 0M553.5 170.5a1.20 1.20 0 1 0 2.40 0a1.20 1.20 0 1 0 -2.40 0M575.1 156.8a1.20 1.20 0 1 0 2.40 0a1.20 1.20 0 1 0 -2.40 0M575.1 180.1a1.20 1.20 0 1 0 2.40 0a1.20 1.20 0 1 0 -2.40 0M661.5 160.9a1.20 1.20 0 1 0 2.40 0a1.20 1.20 0 1 0 -2.40 0M661.5 169.7a1.20 1.20 0 1 0 2.40 0a1.20 1.20 0 1 0 -2.40 0M661.5 171.8a1.20 1.20 0 1 0 2.40 0a1.20 1.20 0 1 0 -2.40 0M661.5 173.5a1.20 1.20 0 1 0 2.40 0a1.20 1.20 0 1 0 -2.40 0M661.5 180.0a1.20 1.20 0 1 0 2.40 0a1.20 1.20 0 1 0 -2.40 0M661.5 183.0a1.20 1.20 0 1 0 2.40 0a1.20 1.20 0 1 0 -2.40 0M661.5 186.0a1.20 1.20 0 1 0 2.40 0a1.20 1.20 0 1 0 -2.40 0M661.5 189.7a1.20 1.20 0 1 0 2.40 0a1.20 1.20 0 1 0 -2.40 0M661.5 191.7a1.20 1.20 0 1 0 2.40 0a1.20 1.20 0 1 0 -2.40 0M661.5 194.8a1.20 1.20 0 1 0 2.40 0a1.20 1.20 0 1 0 -2.40 0M489.6 133.0a1.20 1.20 0 1 0 2.40 0a1.20 1.20 0 1 0 -2.40 0M489.6 136.6a1.20 1.20 0 1 0 2.40 0a1.20 1.20 0 1 0 -2.40 0M489.6 147.8a1.20 1.20 0 1 0 2.40 0a1.20 1.20 0 1 0 -2.40 0M489.8 155.0a1.20 1.20 0 1 0 2.40 0a1.20 1.20 0 1 0 -2.40 0M553.4 158.2a1.20 1.20 0 1 0 2.40 0a1.20 1.20 0 1 0 -2.40 0M553.4 160.4a1.20 1.20 0 1 0 2.40 0a1.20 1.20 0 1 0 -2.40 0M553.4 162.7a1.20 1.20 0 1 0 2.40 0a1.20 1.20 0 1 0 -2.40 0M553.4 164.9a1.20 1.20 0 1 0 2.40 0a1.20 1.20 0 1 0 -2.40 0M553.4 167.2a1.20 1.20 0 1 0 2.40 0a1.20 1.20 0 1 0 -2.40 0M575.1 161.8a1.20 1.20 0 1 0 2.40 0a1.20 1.20 0 1 0 -2.40 0M575.1 164.0a1.20 1.20 0 1 0 2.40 0a1.20 1.20 0 1 0 -2.40 0M575.1 166.2a1.20 1.20 0 1 0 2.40 0a1.20 1.20 0 1 0 -2.40 0M575.1 168.4a1.20 1.20 0 1 0 2.40 0a1.20 1.20 0 1 0 -2.40 0M575.1 170.6a1.20 1.20 0 1 0 2.40 0a1.20 1.20 0 1 0 -2.40 0M575.1 172.8a1.20 1.20 0 1 0 2.40 0a1.20 1.20 0 1 0 -2.40 0M575.1 175.0a1.20 1.20 0 1 0 2.40 0a1.20 1.20 0 1 0 -2.40 0M603.7 164.2a1.20 1.20 0 1 0 2.40 0a1.20 1.20 0 1 0 -2.40 0M603.7 166.6a1.20 1.20 0 1 0 2.40 0a1.20 1.20 0 1 0 -2.40 0M603.7 169.1a1.20 1.20 0 1 0 2.40 0a1.20 1.20 0 1 0 -2.40 0M603.7 171.5a1.20 1.20 0 1 0 2.40 0a1.20 1.20 0 1 0 -2.40 0M603.7 174.0a1.20 1.20 0 1 0 2.40 0a1.20 1.20 0 1 0 -2.40 0M603.7 176.4a1.20 1.20 0 1 0 2.40 0a1.20 1.20 0 1 0 -2.40 0M603.7 178.9a1.20 1.20 0 1 0 2.40 0a1.20 1.20 0 1 0 -2.40 0M603.7 181.3a1.20 1.20 0 1 0 2.40 0a1.20 1.20 0 1 0 -2.40 0M603.7 183.8a1.20 1.20 0 1 0 2.40 0a1.20 1.20 0 1 0 -2.40 0M603.7 186.2a1.20 1.20 0 1 0 2.40 0a1.20 1.20 0 1 0 -2.40 0" fill="none" stroke="#000" stroke-width="0.95"/>
<circle cx="604.9" cy="156.6" r="1.7" fill="#000"/><circle cx="604.9" cy="190.2" r="1.7" fill="#000"/><circle cx="511.4" cy="78.6" r="1.7" fill="#000"/><circle cx="554.7" cy="130.4" r="1.7" fill="#000"/><circle cx="576.4" cy="141.7" r="1.7" fill="#000"/><circle cx="532.8" cy="150.5" r="1.7" fill="#000"/><circle cx="515.0" cy="135.5" r="1.7" fill="#000"/><circle cx="491.2" cy="166.0" r="1.7" fill="#000"/><circle cx="491.2" cy="159.0" r="1.7" fill="#000"/>
<polyline points="490.6,131.0 490.9,100.0 491.6,60.0 492.3,47.0" fill="none" stroke="#000" stroke-width="2.20" stroke-linejoin="round"/>
<polyline points="490.6,140.0 490.6,145.0" fill="none" stroke="#000" stroke-width="1.50" stroke-linejoin="round"/>
<polyline points="491.0,70.0 494.0,56.0 498.0,72.0 505.0,94.0 513.3,114.0 523.4,132.0 533.0,145.7 554.7,160.2 576.4,166.7 604.5,173.0 662.7,183.2" fill="none" stroke="#000" stroke-width="1.60" stroke-linejoin="round"/>
<polyline points="491.6,40.2 494.5,35.7 497.0,45.0 500.7,58.7 505.8,67.0 516.9,92.0 522.5,100.0 528.6,109.7 533.0,115.6 537.6,119.1 545.7,124.7 554.7,130.4 566.3,136.2 576.4,141.7 586.6,146.8 604.5,156.4 662.7,160.9" fill="none" stroke="#000" stroke-width="1.50" stroke-dasharray="6.5,5" stroke-linejoin="round"/>
<polyline points="491.2,150.0 494.0,100.0 498.0,104.0 505.0,118.0 512.0,130.0 522.9,143.7 533.0,152.0 540.6,159.0 549.7,166.1 554.8,171.2 568.3,176.6 576.4,180.1 590.6,184.7 604.8,190.3 662.7,195.3" fill="none" stroke="#000" stroke-width="1.50" stroke-dasharray="6.5,5" stroke-linejoin="round"/>
</g>
<rect x="478.8" y="0.4" width="196.6" height="20.9" fill="#ffe5cc" stroke="#000" stroke-width="0.95"/>
<rect x="478.8" y="21.3" width="196.6" height="185.7" fill="none" stroke="#000" stroke-width="0.95"/>
<text x="577.1" y="15.2" font-size="11.5" text-anchor="middle">PM &amp; IM (AS of 1.0)</text>
<line x1="489.5" x2="489.5" y1="207.0" y2="212.7" stroke="#000" stroke-width="0.95"/>
<text x="489.5" y="224.8" font-size="10" text-anchor="middle">0</text>
<line x1="525.5" x2="525.5" y1="207.0" y2="212.7" stroke="#000" stroke-width="0.95"/>
<text x="525.5" y="224.8" font-size="10" text-anchor="middle">5</text>
<line x1="561.6" x2="561.6" y1="207.0" y2="212.7" stroke="#000" stroke-width="0.95"/>
<text x="561.6" y="224.8" font-size="10" text-anchor="middle">10</text>
<line x1="597.6" x2="597.6" y1="207.0" y2="212.7" stroke="#000" stroke-width="0.95"/>
<text x="597.6" y="224.8" font-size="10" text-anchor="middle">15</text>
<line x1="633.7" x2="633.7" y1="207.0" y2="212.7" stroke="#000" stroke-width="0.95"/>
<text x="633.7" y="224.8" font-size="10" text-anchor="middle">20</text>
<line x1="669.7" x2="669.7" y1="207.0" y2="212.7" stroke="#000" stroke-width="0.95"/>
<text x="669.7" y="224.8" font-size="10" text-anchor="middle">25</text>
<line x1="473.1" x2="478.8" y1="42.3" y2="42.3" stroke="#000" stroke-width="0.95"/>
<text transform="translate(467.6,42.3) rotate(-90)" font-size="9.9" text-anchor="middle">−2</text>
<line x1="473.1" x2="478.8" y1="69.0" y2="69.0" stroke="#000" stroke-width="0.95"/>
<text transform="translate(467.6,69.0) rotate(-90)" font-size="9.9" text-anchor="middle">−3</text>
<line x1="473.1" x2="478.8" y1="95.7" y2="95.7" stroke="#000" stroke-width="0.95"/>
<text transform="translate(467.6,95.7) rotate(-90)" font-size="9.9" text-anchor="middle">−4</text>
<line x1="473.1" x2="478.8" y1="122.3" y2="122.3" stroke="#000" stroke-width="0.95"/>
<text transform="translate(467.6,122.3) rotate(-90)" font-size="9.9" text-anchor="middle">−5</text>
<line x1="473.1" x2="478.8" y1="149.0" y2="149.0" stroke="#000" stroke-width="0.95"/>
<text transform="translate(467.6,149.0) rotate(-90)" font-size="9.9" text-anchor="middle">−6</text>
<line x1="473.1" x2="478.8" y1="175.7" y2="175.7" stroke="#000" stroke-width="0.95"/>
<text transform="translate(467.6,175.7) rotate(-90)" font-size="9.9" text-anchor="middle">−7</text>
<line x1="473.1" x2="478.8" y1="202.4" y2="202.4" stroke="#000" stroke-width="0.95"/>
<text transform="translate(467.6,202.4) rotate(-90)" font-size="9.9" text-anchor="middle">−8</text>
<text x="356.7" y="244.4" font-size="11.5" text-anchor="middle">Time [h]</text>
<text transform="translate(8.9,114.4) rotate(-90)" font-size="11.6" text-anchor="middle">Ln (noscapine concentration) [mg/L]</text>
</svg></body></html>
